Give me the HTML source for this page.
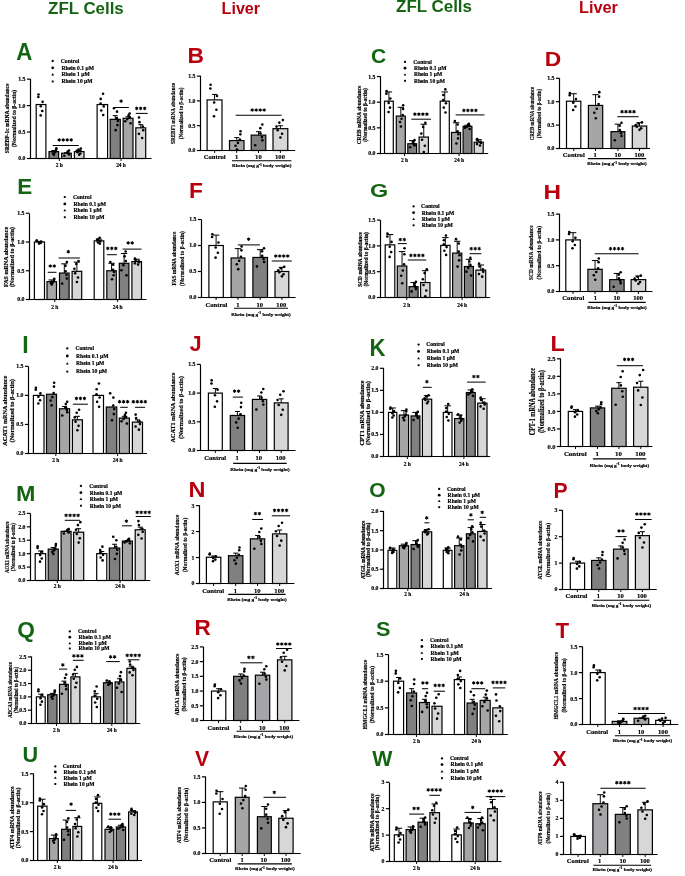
<!DOCTYPE html>
<html><head><meta charset="utf-8"><style>
html,body{margin:0;padding:0;background:#fff;width:685px;height:876px;overflow:hidden}
svg{display:block;will-change:transform}
</style></head><body>
<svg width="685" height="876" viewBox="0 0 685 876">
<rect width="685" height="876" fill="#fff"/>
<text x="48.10" y="13.50" font-size="16" font-weight="bold" font-family='"Liberation Sans", sans-serif' fill="#146414" text-anchor="start" textLength="75.60" lengthAdjust="spacingAndGlyphs" >ZFL Cells</text>
<text x="221.60" y="14.30" font-size="16" font-weight="bold" font-family='"Liberation Sans", sans-serif' fill="#b8000f" text-anchor="start" textLength="38.50" lengthAdjust="spacingAndGlyphs" >Liver</text>
<text x="396.10" y="12.40" font-size="16" font-weight="bold" font-family='"Liberation Sans", sans-serif' fill="#146414" text-anchor="start" textLength="75.90" lengthAdjust="spacingAndGlyphs" >ZFL Cells</text>
<text x="578.90" y="12.60" font-size="16" font-weight="bold" font-family='"Liberation Sans", sans-serif' fill="#b8000f" text-anchor="start" textLength="39.10" lengthAdjust="spacingAndGlyphs" >Liver</text>
<line x1="30.50" y1="78.95" x2="30.50" y2="159.10" stroke="#000" stroke-width="1.2"/>
<line x1="26.90" y1="158.50" x2="30.50" y2="158.50" stroke="#000" stroke-width="1.2"/>
<text x="25.50" y="160.47" font-size="5.8" font-weight="bold" font-family='"Liberation Serif", serif' fill="#000" text-anchor="end" stroke="#000" stroke-width="0.18" >0.0</text>
<line x1="26.90" y1="132.05" x2="30.50" y2="132.05" stroke="#000" stroke-width="1.2"/>
<text x="25.50" y="134.02" font-size="5.8" font-weight="bold" font-family='"Liberation Serif", serif' fill="#000" text-anchor="end" stroke="#000" stroke-width="0.18" >0.5</text>
<line x1="26.90" y1="105.60" x2="30.50" y2="105.60" stroke="#000" stroke-width="1.2"/>
<text x="25.50" y="107.57" font-size="5.8" font-weight="bold" font-family='"Liberation Serif", serif' fill="#000" text-anchor="end" stroke="#000" stroke-width="0.18" >1.0</text>
<line x1="26.90" y1="79.15" x2="30.50" y2="79.15" stroke="#000" stroke-width="1.2"/>
<text x="25.50" y="81.12" font-size="5.8" font-weight="bold" font-family='"Liberation Serif", serif' fill="#000" text-anchor="end" stroke="#000" stroke-width="0.18" >1.5</text>
<line x1="30.50" y1="158.50" x2="151.60" y2="158.50" stroke="#000" stroke-width="1.2"/>
<line x1="59.30" y1="158.50" x2="59.30" y2="161.00" stroke="#000" stroke-width="0.96"/>
<line x1="121.00" y1="158.50" x2="121.00" y2="161.00" stroke="#000" stroke-width="0.96"/>
<rect x="36.20" y="104.54" width="9.70" height="53.96" fill="#ffffff" stroke="#000" stroke-width="1.2"/>
<circle cx="40.78" cy="106.30" r="1.3" fill="#000"/>
<circle cx="42.62" cy="101.86" r="1.3" fill="#000"/>
<circle cx="38.49" cy="94.43" r="1.3" fill="#000"/>
<circle cx="40.68" cy="115.40" r="1.3" fill="#000"/>
<circle cx="38.35" cy="96.95" r="1.3" fill="#000"/>
<circle cx="42.25" cy="111.07" r="1.3" fill="#000"/>
<rect x="49.00" y="151.62" width="9.60" height="6.88" fill="#808080" stroke="#000" stroke-width="1.2"/>
<line x1="53.80" y1="151.62" x2="53.80" y2="150.56" stroke="#000" stroke-width="0.96"/>
<line x1="51.30" y1="150.56" x2="56.30" y2="150.56" stroke="#000" stroke-width="1.02"/>
<circle cx="54.60" cy="152.45" r="1.3" fill="#000"/>
<circle cx="55.85" cy="151.28" r="1.3" fill="#000"/>
<circle cx="56.32" cy="148.28" r="1.3" fill="#000"/>
<circle cx="53.95" cy="154.86" r="1.3" fill="#000"/>
<circle cx="56.16" cy="149.41" r="1.3" fill="#000"/>
<circle cx="52.97" cy="153.45" r="1.3" fill="#000"/>
<rect x="61.70" y="153.21" width="9.60" height="5.29" fill="#a6a6a8" stroke="#000" stroke-width="1.2"/>
<line x1="66.50" y1="153.21" x2="66.50" y2="152.68" stroke="#000" stroke-width="0.96"/>
<line x1="64.00" y1="152.68" x2="69.00" y2="152.68" stroke="#000" stroke-width="1.02"/>
<circle cx="68.74" cy="153.67" r="1.3" fill="#000"/>
<circle cx="64.35" cy="155.75" r="1.3" fill="#000"/>
<circle cx="67.70" cy="151.47" r="1.3" fill="#000"/>
<circle cx="67.81" cy="152.77" r="1.3" fill="#000"/>
<circle cx="69.04" cy="154.52" r="1.3" fill="#000"/>
<circle cx="69.01" cy="150.57" r="1.3" fill="#000"/>
<rect x="74.40" y="151.62" width="9.60" height="6.88" fill="#d7d7d7" stroke="#000" stroke-width="1.2"/>
<line x1="79.20" y1="151.62" x2="79.20" y2="150.56" stroke="#000" stroke-width="0.96"/>
<line x1="76.70" y1="150.56" x2="81.70" y2="150.56" stroke="#000" stroke-width="1.02"/>
<circle cx="79.23" cy="154.77" r="1.3" fill="#000"/>
<circle cx="76.70" cy="150.89" r="1.3" fill="#000"/>
<circle cx="80.80" cy="148.58" r="1.3" fill="#000"/>
<circle cx="77.44" cy="152.19" r="1.3" fill="#000"/>
<circle cx="80.29" cy="153.45" r="1.3" fill="#000"/>
<circle cx="78.53" cy="149.47" r="1.3" fill="#000"/>
<rect x="97.10" y="104.54" width="10.50" height="53.96" fill="#ffffff" stroke="#000" stroke-width="1.2"/>
<circle cx="103.72" cy="106.40" r="1.3" fill="#000"/>
<circle cx="101.22" cy="110.43" r="1.3" fill="#000"/>
<circle cx="103.03" cy="93.75" r="1.3" fill="#000"/>
<circle cx="103.22" cy="114.96" r="1.3" fill="#000"/>
<circle cx="100.74" cy="98.90" r="1.3" fill="#000"/>
<circle cx="100.58" cy="103.46" r="1.3" fill="#000"/>
<rect x="110.20" y="119.35" width="10.10" height="39.15" fill="#808080" stroke="#000" stroke-width="1.2"/>
<line x1="115.25" y1="119.35" x2="115.25" y2="115.65" stroke="#000" stroke-width="0.96"/>
<line x1="112.75" y1="115.65" x2="117.75" y2="115.65" stroke="#000" stroke-width="1.02"/>
<circle cx="115.69" cy="130.13" r="1.3" fill="#000"/>
<circle cx="113.95" cy="108.19" r="1.3" fill="#000"/>
<circle cx="117.84" cy="121.02" r="1.3" fill="#000"/>
<circle cx="116.85" cy="118.16" r="1.3" fill="#000"/>
<circle cx="117.43" cy="125.11" r="1.3" fill="#000"/>
<circle cx="117.00" cy="111.67" r="1.3" fill="#000"/>
<rect x="123.10" y="118.30" width="9.90" height="40.20" fill="#a6a6a8" stroke="#000" stroke-width="1.2"/>
<line x1="128.05" y1="118.30" x2="128.05" y2="116.71" stroke="#000" stroke-width="0.96"/>
<line x1="125.55" y1="116.71" x2="130.55" y2="116.71" stroke="#000" stroke-width="1.02"/>
<circle cx="127.30" cy="119.08" r="1.3" fill="#000"/>
<circle cx="130.49" cy="123.32" r="1.3" fill="#000"/>
<circle cx="129.79" cy="117.37" r="1.3" fill="#000"/>
<circle cx="125.29" cy="121.18" r="1.3" fill="#000"/>
<circle cx="129.64" cy="113.43" r="1.3" fill="#000"/>
<circle cx="128.60" cy="115.42" r="1.3" fill="#000"/>
<rect x="135.80" y="127.82" width="9.90" height="30.68" fill="#d7d7d7" stroke="#000" stroke-width="1.2"/>
<line x1="140.75" y1="127.82" x2="140.75" y2="124.64" stroke="#000" stroke-width="0.96"/>
<line x1="138.25" y1="124.64" x2="143.25" y2="124.64" stroke="#000" stroke-width="1.02"/>
<circle cx="143.21" cy="130.29" r="1.3" fill="#000"/>
<circle cx="142.79" cy="126.66" r="1.3" fill="#000"/>
<circle cx="142.16" cy="138.07" r="1.3" fill="#000"/>
<circle cx="139.47" cy="122.17" r="1.3" fill="#000"/>
<circle cx="139.00" cy="117.57" r="1.3" fill="#000"/>
<circle cx="138.91" cy="133.83" r="1.3" fill="#000"/>
<line x1="52.70" y1="145.50" x2="78.80" y2="145.50" stroke="#000" stroke-width="1.02"/>
<path d="M59.20 138.55L59.20 141.25M60.37 139.22L58.03 140.58M60.37 140.58L58.03 139.22" stroke="#000" stroke-width="1.01" stroke-linecap="round"/>
<path d="M63.20 138.55L63.20 141.25M64.37 139.22L62.03 140.58M64.37 140.58L62.03 139.22" stroke="#000" stroke-width="1.01" stroke-linecap="round"/>
<path d="M67.20 138.55L67.20 141.25M68.37 139.22L66.03 140.58M68.37 140.58L66.03 139.22" stroke="#000" stroke-width="1.01" stroke-linecap="round"/>
<path d="M71.20 138.55L71.20 141.25M72.37 139.22L70.03 140.58M72.37 140.58L70.03 139.22" stroke="#000" stroke-width="1.01" stroke-linecap="round"/>
<line x1="113.50" y1="107.50" x2="128.90" y2="107.50" stroke="#000" stroke-width="1.02"/>
<path d="M121.10 99.75L121.10 102.45M122.27 100.42L119.93 101.77M122.27 101.77L119.93 100.42" stroke="#000" stroke-width="1.01" stroke-linecap="round"/>
<line x1="135.80" y1="113.40" x2="147.70" y2="113.40" stroke="#000" stroke-width="1.02"/>
<path d="M136.70 107.05L136.70 109.75M137.87 107.73L135.53 109.08M137.87 109.08L135.53 107.73" stroke="#000" stroke-width="1.01" stroke-linecap="round"/>
<path d="M140.70 107.05L140.70 109.75M141.87 107.73L139.53 109.08M141.87 109.08L139.53 107.73" stroke="#000" stroke-width="1.01" stroke-linecap="round"/>
<path d="M144.70 107.05L144.70 109.75M145.87 107.73L143.53 109.08M145.87 109.08L143.53 107.73" stroke="#000" stroke-width="1.01" stroke-linecap="round"/>
<text x="9.15" y="118.40" font-size="5.8500000000000005" font-weight="bold" font-family='"Liberation Serif", serif' fill="#000" text-anchor="middle" stroke="#000" stroke-width="0.18" textLength="69.50" lengthAdjust="spacingAndGlyphs" transform="rotate(-90 9.15 118.40)" >SREBP-1c mRNA abundance</text>
<text x="15.65" y="118.40" font-size="5.8500000000000005" font-weight="bold" font-family='"Liberation Serif", serif' fill="#000" text-anchor="middle" stroke="#000" stroke-width="0.18" textLength="57.30" lengthAdjust="spacingAndGlyphs" transform="rotate(-90 15.65 118.40)" >(Normalized to β-actin)</text>
<text x="59.30" y="166.64" font-size="5.4" font-weight="bold" font-family='"Liberation Serif", serif' fill="#000" text-anchor="middle" stroke="#000" stroke-width="0.18" >2 h</text>
<text x="121.00" y="166.64" font-size="5.4" font-weight="bold" font-family='"Liberation Serif", serif' fill="#000" text-anchor="middle" stroke="#000" stroke-width="0.18" >24 h</text>
<circle cx="52.70" cy="61.00" r="1.15" fill="#000"/>
<text x="60.80" y="62.85" font-size="5.6" font-weight="bold" font-family='"Liberation Serif", serif' fill="#000" text-anchor="start" stroke="#000" stroke-width="0.18" >Control</text>
<circle cx="52.70" cy="67.80" r="1.4" fill="#000"/>
<text x="61.40" y="69.65" font-size="5.6" font-weight="bold" font-family='"Liberation Serif", serif' fill="#000" text-anchor="start" stroke="#000" stroke-width="0.18" >Rhein 0.1 μM</text>
<path d="M51.30 75.40L54.10 75.40L52.70 73.10Z"/>
<text x="61.40" y="76.25" font-size="5.6" font-weight="bold" font-family='"Liberation Serif", serif' fill="#000" text-anchor="start" stroke="#000" stroke-width="0.18" >Rhein 1 μM</text>
<rect x="51.75" y="80.55" width="1.9" height="1.9"/>
<text x="61.40" y="83.35" font-size="5.6" font-weight="bold" font-family='"Liberation Serif", serif' fill="#000" text-anchor="start" stroke="#000" stroke-width="0.18" >Rhein 10 μM</text>
<text transform="translate(16.70 59.80) scale(0.943 1)" x="-0.59" y="0" font-size="23.55" font-weight="bold" font-family='"Liberation Sans", sans-serif' fill="#146414">A</text>
<line x1="200.50" y1="75.80" x2="200.50" y2="151.10" stroke="#000" stroke-width="1.2"/>
<line x1="196.90" y1="150.50" x2="200.50" y2="150.50" stroke="#000" stroke-width="1.2"/>
<text x="195.50" y="152.47" font-size="5.8" font-weight="bold" font-family='"Liberation Serif", serif' fill="#000" text-anchor="end" stroke="#000" stroke-width="0.18" >0.0</text>
<line x1="196.90" y1="125.70" x2="200.50" y2="125.70" stroke="#000" stroke-width="1.2"/>
<text x="195.50" y="127.67" font-size="5.8" font-weight="bold" font-family='"Liberation Serif", serif' fill="#000" text-anchor="end" stroke="#000" stroke-width="0.18" >0.5</text>
<line x1="196.90" y1="100.90" x2="200.50" y2="100.90" stroke="#000" stroke-width="1.2"/>
<text x="195.50" y="102.87" font-size="5.8" font-weight="bold" font-family='"Liberation Serif", serif' fill="#000" text-anchor="end" stroke="#000" stroke-width="0.18" >1.0</text>
<line x1="196.90" y1="76.10" x2="200.50" y2="76.10" stroke="#000" stroke-width="1.2"/>
<text x="195.50" y="78.07" font-size="5.8" font-weight="bold" font-family='"Liberation Serif", serif' fill="#000" text-anchor="end" stroke="#000" stroke-width="0.18" >1.5</text>
<line x1="200.50" y1="150.50" x2="295.20" y2="150.50" stroke="#000" stroke-width="1.2"/>
<line x1="214.60" y1="150.50" x2="214.60" y2="153.00" stroke="#000" stroke-width="0.96"/>
<line x1="236.70" y1="150.50" x2="236.70" y2="153.00" stroke="#000" stroke-width="0.96"/>
<line x1="258.50" y1="150.50" x2="258.50" y2="153.00" stroke="#000" stroke-width="0.96"/>
<line x1="280.40" y1="150.50" x2="280.40" y2="153.00" stroke="#000" stroke-width="0.96"/>
<rect x="207.10" y="99.91" width="14.90" height="50.59" fill="#ffffff" stroke="#000" stroke-width="1.2"/>
<line x1="214.55" y1="99.91" x2="214.55" y2="94.45" stroke="#000" stroke-width="0.96"/>
<line x1="212.05" y1="94.45" x2="217.05" y2="94.45" stroke="#000" stroke-width="1.02"/>
<circle cx="214.13" cy="102.54" r="1.3" fill="#000"/>
<circle cx="216.96" cy="95.89" r="1.3" fill="#000"/>
<circle cx="210.61" cy="84.74" r="1.3" fill="#000"/>
<circle cx="213.99" cy="116.19" r="1.3" fill="#000"/>
<circle cx="210.40" cy="88.52" r="1.3" fill="#000"/>
<circle cx="216.40" cy="109.70" r="1.3" fill="#000"/>
<rect x="229.50" y="140.58" width="14.50" height="9.92" fill="#a6a6a8" stroke="#000" stroke-width="1.2"/>
<line x1="236.75" y1="140.58" x2="236.75" y2="137.60" stroke="#000" stroke-width="0.96"/>
<line x1="234.25" y1="137.60" x2="239.25" y2="137.60" stroke="#000" stroke-width="1.02"/>
<circle cx="237.96" cy="142.92" r="1.3" fill="#000"/>
<circle cx="239.85" cy="139.61" r="1.3" fill="#000"/>
<circle cx="240.56" cy="131.18" r="1.3" fill="#000"/>
<circle cx="236.97" cy="149.51" r="1.3" fill="#000"/>
<circle cx="240.32" cy="134.36" r="1.3" fill="#000"/>
<circle cx="235.50" cy="145.72" r="1.3" fill="#000"/>
<rect x="251.20" y="135.12" width="14.60" height="15.38" fill="#808080" stroke="#000" stroke-width="1.2"/>
<line x1="258.50" y1="135.12" x2="258.50" y2="131.65" stroke="#000" stroke-width="0.96"/>
<line x1="256.00" y1="131.65" x2="261.00" y2="131.65" stroke="#000" stroke-width="1.02"/>
<circle cx="261.90" cy="136.98" r="1.3" fill="#000"/>
<circle cx="255.23" cy="145.30" r="1.3" fill="#000"/>
<circle cx="260.33" cy="128.17" r="1.3" fill="#000"/>
<circle cx="260.49" cy="133.35" r="1.3" fill="#000"/>
<circle cx="262.37" cy="140.36" r="1.3" fill="#000"/>
<circle cx="262.32" cy="124.57" r="1.3" fill="#000"/>
<rect x="273.00" y="128.68" width="14.80" height="21.82" fill="#d7d7d7" stroke="#000" stroke-width="1.2"/>
<line x1="280.40" y1="128.68" x2="280.40" y2="125.70" stroke="#000" stroke-width="0.96"/>
<line x1="277.90" y1="125.70" x2="282.90" y2="125.70" stroke="#000" stroke-width="1.02"/>
<circle cx="280.44" cy="137.54" r="1.3" fill="#000"/>
<circle cx="276.54" cy="126.60" r="1.3" fill="#000"/>
<circle cx="282.86" cy="120.12" r="1.3" fill="#000"/>
<circle cx="277.69" cy="130.27" r="1.3" fill="#000"/>
<circle cx="282.08" cy="133.82" r="1.3" fill="#000"/>
<circle cx="279.36" cy="122.63" r="1.3" fill="#000"/>
<line x1="235.70" y1="115.20" x2="281.60" y2="115.20" stroke="#000" stroke-width="1.02"/>
<path d="M252.20 108.65L252.20 111.35M253.37 109.33L251.03 110.67M253.37 110.67L251.03 109.33" stroke="#000" stroke-width="1.01" stroke-linecap="round"/>
<path d="M256.20 108.65L256.20 111.35M257.37 109.33L255.03 110.67M257.37 110.67L255.03 109.33" stroke="#000" stroke-width="1.01" stroke-linecap="round"/>
<path d="M260.20 108.65L260.20 111.35M261.37 109.33L259.03 110.67M261.37 110.67L259.03 109.33" stroke="#000" stroke-width="1.01" stroke-linecap="round"/>
<path d="M264.20 108.65L264.20 111.35M265.37 109.33L263.03 110.67M265.37 110.67L263.03 109.33" stroke="#000" stroke-width="1.01" stroke-linecap="round"/>
<text x="174.75" y="113.40" font-size="7.0" font-weight="bold" font-family='"Liberation Serif", serif' fill="#000" text-anchor="middle" stroke="#000" stroke-width="0.18" textLength="61.10" lengthAdjust="spacingAndGlyphs" transform="rotate(-90 174.75 113.40)" >SREBF1 mRNA abundance</text>
<text x="182.55" y="113.40" font-size="7.0" font-weight="bold" font-family='"Liberation Serif", serif' fill="#000" text-anchor="middle" stroke="#000" stroke-width="0.18" textLength="51.60" lengthAdjust="spacingAndGlyphs" transform="rotate(-90 182.55 113.40)" >(Normalized to β-actin)</text>
<text x="214.70" y="159.24" font-size="6.6" font-weight="bold" font-family='"Liberation Serif", serif' fill="#000" text-anchor="middle" stroke="#000" stroke-width="0.18" >Control</text>
<text x="236.70" y="159.24" font-size="6.6" font-weight="bold" font-family='"Liberation Serif", serif' fill="#000" text-anchor="middle" stroke="#000" stroke-width="0.18" >1</text>
<text x="258.40" y="159.24" font-size="6.6" font-weight="bold" font-family='"Liberation Serif", serif' fill="#000" text-anchor="middle" stroke="#000" stroke-width="0.18" >10</text>
<text x="280.00" y="159.24" font-size="6.6" font-weight="bold" font-family='"Liberation Serif", serif' fill="#000" text-anchor="middle" stroke="#000" stroke-width="0.18" >100</text>
<line x1="232.00" y1="160.70" x2="291.40" y2="160.70" stroke="#000" stroke-width="1.08"/>
<text x="261.70" y="167.30" font-size="4.4" font-weight="bold" font-family='"Liberation Serif", serif' fill="#000" text-anchor="middle" stroke="#000" stroke-width="0.18" textLength="59.50" lengthAdjust="spacingAndGlyphs" >Rhein (mg g<tspan font-size="3.2" dy="-1.6">-1</tspan><tspan dy="1.6"> body weight)</tspan></text>
<text transform="translate(189.00 62.90) scale(1.032 1)" x="-1.48" y="0" font-size="22.09" font-weight="bold" font-family='"Liberation Sans", sans-serif' fill="#b8000f">B</text>
<line x1="380.50" y1="76.15" x2="380.50" y2="154.10" stroke="#000" stroke-width="1.2"/>
<line x1="376.90" y1="153.50" x2="380.50" y2="153.50" stroke="#000" stroke-width="1.2"/>
<text x="375.50" y="155.47" font-size="5.8" font-weight="bold" font-family='"Liberation Serif", serif' fill="#000" text-anchor="end" stroke="#000" stroke-width="0.18" >0.0</text>
<line x1="376.90" y1="127.85" x2="380.50" y2="127.85" stroke="#000" stroke-width="1.2"/>
<text x="375.50" y="129.82" font-size="5.8" font-weight="bold" font-family='"Liberation Serif", serif' fill="#000" text-anchor="end" stroke="#000" stroke-width="0.18" >0.5</text>
<line x1="376.90" y1="102.20" x2="380.50" y2="102.20" stroke="#000" stroke-width="1.2"/>
<text x="375.50" y="104.17" font-size="5.8" font-weight="bold" font-family='"Liberation Serif", serif' fill="#000" text-anchor="end" stroke="#000" stroke-width="0.18" >1.0</text>
<line x1="376.90" y1="76.55" x2="380.50" y2="76.55" stroke="#000" stroke-width="1.2"/>
<text x="375.50" y="78.52" font-size="5.8" font-weight="bold" font-family='"Liberation Serif", serif' fill="#000" text-anchor="end" stroke="#000" stroke-width="0.18" >1.5</text>
<line x1="380.50" y1="153.50" x2="488.20" y2="153.50" stroke="#000" stroke-width="1.2"/>
<line x1="404.60" y1="153.50" x2="404.60" y2="156.00" stroke="#000" stroke-width="0.96"/>
<line x1="459.10" y1="153.50" x2="459.10" y2="156.00" stroke="#000" stroke-width="0.96"/>
<rect x="384.50" y="101.17" width="8.80" height="52.33" fill="#ffffff" stroke="#000" stroke-width="1.2"/>
<line x1="388.90" y1="101.17" x2="388.90" y2="91.94" stroke="#000" stroke-width="0.96"/>
<line x1="385.70" y1="91.94" x2="392.10" y2="91.94" stroke="#000" stroke-width="1.02"/>
<circle cx="388.65" cy="102.92" r="1.3" fill="#000"/>
<circle cx="390.32" cy="98.52" r="1.3" fill="#000"/>
<circle cx="386.58" cy="91.15" r="1.3" fill="#000"/>
<circle cx="388.57" cy="111.94" r="1.3" fill="#000"/>
<circle cx="386.45" cy="93.64" r="1.3" fill="#000"/>
<circle cx="389.99" cy="107.65" r="1.3" fill="#000"/>
<rect x="396.30" y="116.05" width="9.00" height="37.45" fill="#a6a6a8" stroke="#000" stroke-width="1.2"/>
<line x1="400.80" y1="116.05" x2="400.80" y2="107.33" stroke="#000" stroke-width="0.96"/>
<line x1="397.60" y1="107.33" x2="404.00" y2="107.33" stroke="#000" stroke-width="1.02"/>
<circle cx="401.55" cy="118.73" r="1.3" fill="#000"/>
<circle cx="402.72" cy="114.94" r="1.3" fill="#000"/>
<circle cx="403.16" cy="105.29" r="1.3" fill="#000"/>
<circle cx="400.94" cy="126.46" r="1.3" fill="#000"/>
<circle cx="403.01" cy="108.94" r="1.3" fill="#000"/>
<circle cx="400.02" cy="121.93" r="1.3" fill="#000"/>
<rect x="407.80" y="143.75" width="8.80" height="9.75" fill="#808080" stroke="#000" stroke-width="1.2"/>
<line x1="412.20" y1="143.75" x2="412.20" y2="140.68" stroke="#000" stroke-width="0.96"/>
<line x1="409.00" y1="140.68" x2="415.40" y2="140.68" stroke="#000" stroke-width="1.02"/>
<circle cx="414.25" cy="144.39" r="1.3" fill="#000"/>
<circle cx="410.23" cy="147.28" r="1.3" fill="#000"/>
<circle cx="413.30" cy="141.34" r="1.3" fill="#000"/>
<circle cx="413.40" cy="143.14" r="1.3" fill="#000"/>
<circle cx="414.53" cy="145.56" r="1.3" fill="#000"/>
<circle cx="414.50" cy="140.10" r="1.3" fill="#000"/>
<rect x="419.10" y="137.08" width="9.30" height="16.42" fill="#d7d7d7" stroke="#000" stroke-width="1.2"/>
<line x1="423.75" y1="137.08" x2="423.75" y2="124.26" stroke="#000" stroke-width="0.96"/>
<line x1="420.55" y1="124.26" x2="426.95" y2="124.26" stroke="#000" stroke-width="1.02"/>
<circle cx="423.78" cy="152.01" r="1.3" fill="#000"/>
<circle cx="421.33" cy="133.59" r="1.3" fill="#000"/>
<circle cx="425.30" cy="122.68" r="1.3" fill="#000"/>
<circle cx="422.05" cy="139.76" r="1.3" fill="#000"/>
<circle cx="424.81" cy="145.74" r="1.3" fill="#000"/>
<circle cx="423.10" cy="126.91" r="1.3" fill="#000"/>
<rect x="440.20" y="101.17" width="9.10" height="52.33" fill="#ffffff" stroke="#000" stroke-width="1.2"/>
<line x1="444.75" y1="101.17" x2="444.75" y2="91.94" stroke="#000" stroke-width="0.96"/>
<line x1="441.55" y1="91.94" x2="447.95" y2="91.94" stroke="#000" stroke-width="1.02"/>
<circle cx="445.94" cy="103.20" r="1.3" fill="#000"/>
<circle cx="443.77" cy="107.59" r="1.3" fill="#000"/>
<circle cx="445.34" cy="89.40" r="1.3" fill="#000"/>
<circle cx="445.50" cy="112.54" r="1.3" fill="#000"/>
<circle cx="443.36" cy="95.01" r="1.3" fill="#000"/>
<circle cx="443.22" cy="99.99" r="1.3" fill="#000"/>
<rect x="451.50" y="132.47" width="9.10" height="21.03" fill="#a6a6a8" stroke="#000" stroke-width="1.2"/>
<line x1="456.05" y1="132.47" x2="456.05" y2="122.72" stroke="#000" stroke-width="0.96"/>
<line x1="452.85" y1="122.72" x2="459.25" y2="122.72" stroke="#000" stroke-width="1.02"/>
<circle cx="456.45" cy="143.55" r="1.3" fill="#000"/>
<circle cx="454.87" cy="120.99" r="1.3" fill="#000"/>
<circle cx="458.38" cy="134.18" r="1.3" fill="#000"/>
<circle cx="457.50" cy="131.23" r="1.3" fill="#000"/>
<circle cx="458.02" cy="138.39" r="1.3" fill="#000"/>
<circle cx="457.63" cy="124.57" r="1.3" fill="#000"/>
<rect x="463.10" y="126.31" width="8.80" height="27.19" fill="#808080" stroke="#000" stroke-width="1.2"/>
<line x1="467.50" y1="126.31" x2="467.50" y2="125.28" stroke="#000" stroke-width="0.96"/>
<line x1="464.30" y1="125.28" x2="470.70" y2="125.28" stroke="#000" stroke-width="1.02"/>
<circle cx="466.83" cy="126.73" r="1.3" fill="#000"/>
<circle cx="469.67" cy="128.97" r="1.3" fill="#000"/>
<circle cx="469.04" cy="125.82" r="1.3" fill="#000"/>
<circle cx="465.04" cy="127.84" r="1.3" fill="#000"/>
<circle cx="468.91" cy="123.73" r="1.3" fill="#000"/>
<circle cx="467.99" cy="124.79" r="1.3" fill="#000"/>
<rect x="474.20" y="142.21" width="9.00" height="11.29" fill="#d7d7d7" stroke="#000" stroke-width="1.2"/>
<line x1="478.70" y1="142.21" x2="478.70" y2="139.65" stroke="#000" stroke-width="0.96"/>
<line x1="475.50" y1="139.65" x2="481.90" y2="139.65" stroke="#000" stroke-width="1.02"/>
<circle cx="480.94" cy="142.99" r="1.3" fill="#000"/>
<circle cx="480.56" cy="141.85" r="1.3" fill="#000"/>
<circle cx="479.98" cy="145.45" r="1.3" fill="#000"/>
<circle cx="477.53" cy="140.43" r="1.3" fill="#000"/>
<circle cx="477.11" cy="138.98" r="1.3" fill="#000"/>
<circle cx="477.02" cy="144.11" r="1.3" fill="#000"/>
<line x1="411.30" y1="119.20" x2="431.00" y2="119.20" stroke="#000" stroke-width="1.02"/>
<path d="M414.90 112.85L414.90 115.55M416.07 113.53L413.73 114.88M416.07 114.88L413.73 113.53" stroke="#000" stroke-width="1.01" stroke-linecap="round"/>
<path d="M418.90 112.85L418.90 115.55M420.07 113.53L417.73 114.88M420.07 114.88L417.73 113.53" stroke="#000" stroke-width="1.01" stroke-linecap="round"/>
<path d="M422.90 112.85L422.90 115.55M424.07 113.53L421.73 114.88M424.07 114.88L421.73 113.53" stroke="#000" stroke-width="1.01" stroke-linecap="round"/>
<path d="M426.90 112.85L426.90 115.55M428.07 113.53L425.73 114.88M428.07 114.88L425.73 113.53" stroke="#000" stroke-width="1.01" stroke-linecap="round"/>
<line x1="455.60" y1="114.90" x2="484.50" y2="114.90" stroke="#000" stroke-width="1.02"/>
<path d="M463.90 109.05L463.90 111.75M465.07 109.73L462.73 111.08M465.07 111.08L462.73 109.73" stroke="#000" stroke-width="1.01" stroke-linecap="round"/>
<path d="M467.90 109.05L467.90 111.75M469.07 109.73L466.73 111.08M469.07 111.08L466.73 109.73" stroke="#000" stroke-width="1.01" stroke-linecap="round"/>
<path d="M471.90 109.05L471.90 111.75M473.07 109.73L470.73 111.08M473.07 111.08L470.73 109.73" stroke="#000" stroke-width="1.01" stroke-linecap="round"/>
<path d="M475.90 109.05L475.90 111.75M477.07 109.73L474.73 111.08M477.07 111.08L474.73 109.73" stroke="#000" stroke-width="1.01" stroke-linecap="round"/>
<text x="361.08" y="115.00" font-size="5.669999999999959" font-weight="bold" font-family='"Liberation Serif", serif' fill="#000" text-anchor="middle" stroke="#000" stroke-width="0.18" textLength="58.70" lengthAdjust="spacingAndGlyphs" transform="rotate(-90 361.08 115.00)" >CREB mRNA abundance</text>
<text x="367.38" y="115.00" font-size="5.669999999999959" font-weight="bold" font-family='"Liberation Serif", serif' fill="#000" text-anchor="middle" stroke="#000" stroke-width="0.18" textLength="53.40" lengthAdjust="spacingAndGlyphs" transform="rotate(-90 367.38 115.00)" >(Normalized to β-actin)</text>
<text x="404.60" y="162.34" font-size="5.4" font-weight="bold" font-family='"Liberation Serif", serif' fill="#000" text-anchor="middle" stroke="#000" stroke-width="0.18" >2 h</text>
<text x="459.10" y="162.34" font-size="5.4" font-weight="bold" font-family='"Liberation Serif", serif' fill="#000" text-anchor="middle" stroke="#000" stroke-width="0.18" >24 h</text>
<circle cx="405.00" cy="61.90" r="1.15" fill="#000"/>
<text x="413.30" y="63.75" font-size="5.6" font-weight="bold" font-family='"Liberation Serif", serif' fill="#000" text-anchor="start" stroke="#000" stroke-width="0.18" >Control</text>
<circle cx="405.00" cy="68.20" r="1.4" fill="#000"/>
<text x="413.90" y="70.05" font-size="5.6" font-weight="bold" font-family='"Liberation Serif", serif' fill="#000" text-anchor="start" stroke="#000" stroke-width="0.18" >Rhein 0.1 μM</text>
<path d="M403.60 75.50L406.40 75.50L405.00 73.20Z"/>
<text x="413.90" y="76.35" font-size="5.6" font-weight="bold" font-family='"Liberation Serif", serif' fill="#000" text-anchor="start" stroke="#000" stroke-width="0.18" >Rhein 1 μM</text>
<rect x="404.05" y="79.85" width="1.9" height="1.9"/>
<text x="413.90" y="82.65" font-size="5.6" font-weight="bold" font-family='"Liberation Serif", serif' fill="#000" text-anchor="start" stroke="#000" stroke-width="0.18" >Rhein 10 μM</text>
<text transform="translate(371.90 62.51) scale(1.075 1)" x="-0.80" y="0" font-size="19.63" font-weight="bold" font-family='"Liberation Sans", sans-serif' fill="#146414">C</text>
<line x1="559.50" y1="78.20" x2="559.50" y2="149.10" stroke="#000" stroke-width="1.2"/>
<line x1="555.90" y1="148.50" x2="559.50" y2="148.50" stroke="#000" stroke-width="1.2"/>
<text x="554.50" y="150.47" font-size="5.8" font-weight="bold" font-family='"Liberation Serif", serif' fill="#000" text-anchor="end" stroke="#000" stroke-width="0.18" >0.0</text>
<line x1="555.90" y1="125.10" x2="559.50" y2="125.10" stroke="#000" stroke-width="1.2"/>
<text x="554.50" y="127.07" font-size="5.8" font-weight="bold" font-family='"Liberation Serif", serif' fill="#000" text-anchor="end" stroke="#000" stroke-width="0.18" >0.5</text>
<line x1="555.90" y1="101.70" x2="559.50" y2="101.70" stroke="#000" stroke-width="1.2"/>
<text x="554.50" y="103.67" font-size="5.8" font-weight="bold" font-family='"Liberation Serif", serif' fill="#000" text-anchor="end" stroke="#000" stroke-width="0.18" >1.0</text>
<line x1="555.90" y1="78.30" x2="559.50" y2="78.30" stroke="#000" stroke-width="1.2"/>
<text x="554.50" y="80.27" font-size="5.8" font-weight="bold" font-family='"Liberation Serif", serif' fill="#000" text-anchor="end" stroke="#000" stroke-width="0.18" >1.5</text>
<line x1="559.50" y1="148.50" x2="650.00" y2="148.50" stroke="#000" stroke-width="1.2"/>
<line x1="573.80" y1="148.50" x2="573.80" y2="151.00" stroke="#000" stroke-width="0.96"/>
<line x1="595.50" y1="148.50" x2="595.50" y2="151.00" stroke="#000" stroke-width="0.96"/>
<line x1="617.90" y1="148.50" x2="617.90" y2="151.00" stroke="#000" stroke-width="0.96"/>
<line x1="639.50" y1="148.50" x2="639.50" y2="151.00" stroke="#000" stroke-width="0.96"/>
<rect x="566.50" y="101.23" width="14.30" height="47.27" fill="#ffffff" stroke="#000" stroke-width="1.2"/>
<line x1="573.65" y1="101.23" x2="573.65" y2="93.74" stroke="#000" stroke-width="0.96"/>
<line x1="570.45" y1="93.74" x2="576.85" y2="93.74" stroke="#000" stroke-width="1.02"/>
<circle cx="573.25" cy="102.64" r="1.3" fill="#000"/>
<circle cx="575.96" cy="99.08" r="1.3" fill="#000"/>
<circle cx="569.87" cy="93.10" r="1.3" fill="#000"/>
<circle cx="573.11" cy="109.96" r="1.3" fill="#000"/>
<circle cx="569.66" cy="95.13" r="1.3" fill="#000"/>
<circle cx="575.42" cy="106.48" r="1.3" fill="#000"/>
<rect x="588.40" y="105.44" width="14.30" height="43.06" fill="#a6a6a8" stroke="#000" stroke-width="1.2"/>
<line x1="595.55" y1="105.44" x2="595.55" y2="94.68" stroke="#000" stroke-width="0.96"/>
<line x1="592.35" y1="94.68" x2="598.75" y2="94.68" stroke="#000" stroke-width="1.02"/>
<circle cx="596.75" cy="108.75" r="1.3" fill="#000"/>
<circle cx="598.60" cy="104.07" r="1.3" fill="#000"/>
<circle cx="599.31" cy="92.16" r="1.3" fill="#000"/>
<circle cx="595.77" cy="118.29" r="1.3" fill="#000"/>
<circle cx="599.07" cy="96.66" r="1.3" fill="#000"/>
<circle cx="594.31" cy="112.70" r="1.3" fill="#000"/>
<rect x="611.00" y="131.65" width="13.80" height="16.85" fill="#808080" stroke="#000" stroke-width="1.2"/>
<line x1="617.90" y1="131.65" x2="617.90" y2="124.16" stroke="#000" stroke-width="0.96"/>
<line x1="614.70" y1="124.16" x2="621.10" y2="124.16" stroke="#000" stroke-width="1.02"/>
<circle cx="621.12" cy="133.21" r="1.3" fill="#000"/>
<circle cx="614.81" cy="140.22" r="1.3" fill="#000"/>
<circle cx="619.63" cy="125.79" r="1.3" fill="#000"/>
<circle cx="619.78" cy="130.16" r="1.3" fill="#000"/>
<circle cx="621.56" cy="136.06" r="1.3" fill="#000"/>
<circle cx="621.51" cy="122.76" r="1.3" fill="#000"/>
<rect x="632.30" y="126.04" width="14.40" height="22.46" fill="#d7d7d7" stroke="#000" stroke-width="1.2"/>
<line x1="639.50" y1="126.04" x2="639.50" y2="122.76" stroke="#000" stroke-width="0.96"/>
<line x1="636.30" y1="122.76" x2="642.70" y2="122.76" stroke="#000" stroke-width="1.02"/>
<circle cx="639.54" cy="129.85" r="1.3" fill="#000"/>
<circle cx="635.75" cy="125.14" r="1.3" fill="#000"/>
<circle cx="641.90" cy="122.36" r="1.3" fill="#000"/>
<circle cx="636.86" cy="126.72" r="1.3" fill="#000"/>
<circle cx="641.14" cy="128.25" r="1.3" fill="#000"/>
<circle cx="638.49" cy="123.44" r="1.3" fill="#000"/>
<line x1="617.30" y1="116.70" x2="638.60" y2="116.70" stroke="#000" stroke-width="1.02"/>
<path d="M622.00 110.35L622.00 113.05M623.17 111.03L620.83 112.38M623.17 112.38L620.83 111.03" stroke="#000" stroke-width="1.01" stroke-linecap="round"/>
<path d="M626.00 110.35L626.00 113.05M627.17 111.03L624.83 112.38M627.17 112.38L624.83 111.03" stroke="#000" stroke-width="1.01" stroke-linecap="round"/>
<path d="M630.00 110.35L630.00 113.05M631.17 111.03L628.83 112.38M631.17 112.38L628.83 111.03" stroke="#000" stroke-width="1.01" stroke-linecap="round"/>
<path d="M634.00 110.35L634.00 113.05M635.17 111.03L632.83 112.38M635.17 112.38L632.83 111.03" stroke="#000" stroke-width="1.01" stroke-linecap="round"/>
<text x="534.11" y="113.60" font-size="6.3" font-weight="bold" font-family='"Liberation Serif", serif' fill="#000" text-anchor="middle" stroke="#000" stroke-width="0.18" textLength="53.40" lengthAdjust="spacingAndGlyphs" transform="rotate(-90 534.11 113.60)" >CREB mRNA abundance</text>
<text x="541.41" y="113.60" font-size="6.3" font-weight="bold" font-family='"Liberation Serif", serif' fill="#000" text-anchor="middle" stroke="#000" stroke-width="0.18" textLength="49.30" lengthAdjust="spacingAndGlyphs" transform="rotate(-90 541.41 113.60)" >(Normalized to β-actin)</text>
<text x="573.80" y="157.34" font-size="6.6" font-weight="bold" font-family='"Liberation Serif", serif' fill="#000" text-anchor="middle" stroke="#000" stroke-width="0.18" >Control</text>
<text x="595.20" y="157.34" font-size="6.6" font-weight="bold" font-family='"Liberation Serif", serif' fill="#000" text-anchor="middle" stroke="#000" stroke-width="0.18" >1</text>
<text x="617.80" y="157.34" font-size="6.6" font-weight="bold" font-family='"Liberation Serif", serif' fill="#000" text-anchor="middle" stroke="#000" stroke-width="0.18" >10</text>
<text x="639.40" y="157.34" font-size="6.6" font-weight="bold" font-family='"Liberation Serif", serif' fill="#000" text-anchor="middle" stroke="#000" stroke-width="0.18" >100</text>
<line x1="587.90" y1="158.60" x2="646.20" y2="158.60" stroke="#000" stroke-width="1.08"/>
<text x="617.05" y="165.20" font-size="4.4" font-weight="bold" font-family='"Liberation Serif", serif' fill="#000" text-anchor="middle" stroke="#000" stroke-width="0.18" textLength="59.50" lengthAdjust="spacingAndGlyphs" >Rhein (mg g<tspan font-size="3.2" dy="-1.6">-1</tspan><tspan dy="1.6"> body weight)</tspan></text>
<text transform="translate(546.20 66.40) scale(1.181 1)" x="-1.29" y="0" font-size="19.33" font-weight="bold" font-family='"Liberation Sans", sans-serif' fill="#b8000f">D</text>
<line x1="29.50" y1="213.65" x2="29.50" y2="300.10" stroke="#000" stroke-width="1.2"/>
<line x1="25.90" y1="299.50" x2="29.50" y2="299.50" stroke="#000" stroke-width="1.2"/>
<text x="24.50" y="301.47" font-size="5.8" font-weight="bold" font-family='"Liberation Serif", serif' fill="#000" text-anchor="end" stroke="#000" stroke-width="0.18" >0.0</text>
<line x1="25.90" y1="270.75" x2="29.50" y2="270.75" stroke="#000" stroke-width="1.2"/>
<text x="24.50" y="272.72" font-size="5.8" font-weight="bold" font-family='"Liberation Serif", serif' fill="#000" text-anchor="end" stroke="#000" stroke-width="0.18" >0.5</text>
<line x1="25.90" y1="242.00" x2="29.50" y2="242.00" stroke="#000" stroke-width="1.2"/>
<text x="24.50" y="243.97" font-size="5.8" font-weight="bold" font-family='"Liberation Serif", serif' fill="#000" text-anchor="end" stroke="#000" stroke-width="0.18" >1.0</text>
<line x1="25.90" y1="213.25" x2="29.50" y2="213.25" stroke="#000" stroke-width="1.2"/>
<text x="24.50" y="215.22" font-size="5.8" font-weight="bold" font-family='"Liberation Serif", serif' fill="#000" text-anchor="end" stroke="#000" stroke-width="0.18" >1.5</text>
<line x1="29.50" y1="299.50" x2="146.50" y2="299.50" stroke="#000" stroke-width="1.2"/>
<line x1="54.80" y1="299.50" x2="54.80" y2="302.00" stroke="#000" stroke-width="0.96"/>
<line x1="117.60" y1="299.50" x2="117.60" y2="302.00" stroke="#000" stroke-width="0.96"/>
<rect x="34.40" y="242.00" width="10.10" height="57.50" fill="#ffffff" stroke="#000" stroke-width="1.2"/>
<line x1="39.45" y1="242.00" x2="39.45" y2="241.43" stroke="#000" stroke-width="0.96"/>
<line x1="36.25" y1="241.43" x2="42.65" y2="241.43" stroke="#000" stroke-width="1.02"/>
<circle cx="39.16" cy="242.26" r="1.3" fill="#000"/>
<circle cx="41.08" cy="241.60" r="1.3" fill="#000"/>
<circle cx="36.78" cy="240.50" r="1.3" fill="#000"/>
<circle cx="39.07" cy="243.61" r="1.3" fill="#000"/>
<circle cx="36.63" cy="240.87" r="1.3" fill="#000"/>
<circle cx="40.70" cy="242.97" r="1.3" fill="#000"/>
<rect x="47.00" y="281.68" width="9.50" height="17.82" fill="#a6a6a8" stroke="#000" stroke-width="1.2"/>
<line x1="51.75" y1="281.68" x2="51.75" y2="279.95" stroke="#000" stroke-width="0.96"/>
<line x1="48.55" y1="279.95" x2="54.95" y2="279.95" stroke="#000" stroke-width="1.02"/>
<circle cx="52.55" cy="282.42" r="1.3" fill="#000"/>
<circle cx="53.78" cy="281.37" r="1.3" fill="#000"/>
<circle cx="54.25" cy="278.69" r="1.3" fill="#000"/>
<circle cx="51.90" cy="284.56" r="1.3" fill="#000"/>
<circle cx="54.09" cy="279.70" r="1.3" fill="#000"/>
<circle cx="50.93" cy="283.30" r="1.3" fill="#000"/>
<rect x="59.50" y="273.05" width="9.60" height="26.45" fill="#808080" stroke="#000" stroke-width="1.2"/>
<line x1="64.30" y1="273.05" x2="64.30" y2="263.85" stroke="#000" stroke-width="0.96"/>
<line x1="61.10" y1="263.85" x2="67.50" y2="263.85" stroke="#000" stroke-width="1.02"/>
<circle cx="66.54" cy="274.97" r="1.3" fill="#000"/>
<circle cx="62.15" cy="283.58" r="1.3" fill="#000"/>
<circle cx="65.50" cy="265.85" r="1.3" fill="#000"/>
<circle cx="65.61" cy="271.22" r="1.3" fill="#000"/>
<circle cx="66.84" cy="278.47" r="1.3" fill="#000"/>
<circle cx="66.81" cy="262.12" r="1.3" fill="#000"/>
<rect x="72.10" y="271.32" width="9.60" height="28.18" fill="#d7d7d7" stroke="#000" stroke-width="1.2"/>
<line x1="76.90" y1="271.32" x2="76.90" y2="262.12" stroke="#000" stroke-width="0.96"/>
<line x1="73.70" y1="262.12" x2="80.10" y2="262.12" stroke="#000" stroke-width="1.02"/>
<circle cx="76.93" cy="282.03" r="1.3" fill="#000"/>
<circle cx="74.40" cy="268.82" r="1.3" fill="#000"/>
<circle cx="78.50" cy="260.99" r="1.3" fill="#000"/>
<circle cx="75.14" cy="273.25" r="1.3" fill="#000"/>
<circle cx="77.99" cy="277.54" r="1.3" fill="#000"/>
<circle cx="76.23" cy="264.02" r="1.3" fill="#000"/>
<rect x="94.20" y="240.85" width="9.60" height="58.65" fill="#ffffff" stroke="#000" stroke-width="1.2"/>
<line x1="99.00" y1="240.85" x2="99.00" y2="239.12" stroke="#000" stroke-width="0.96"/>
<line x1="95.80" y1="239.12" x2="102.20" y2="239.12" stroke="#000" stroke-width="1.02"/>
<circle cx="100.25" cy="241.38" r="1.3" fill="#000"/>
<circle cx="97.97" cy="242.53" r="1.3" fill="#000"/>
<circle cx="99.62" cy="237.77" r="1.3" fill="#000"/>
<circle cx="99.79" cy="243.82" r="1.3" fill="#000"/>
<circle cx="97.53" cy="239.24" r="1.3" fill="#000"/>
<circle cx="97.38" cy="240.54" r="1.3" fill="#000"/>
<rect x="106.80" y="270.75" width="9.50" height="28.75" fill="#a6a6a8" stroke="#000" stroke-width="1.2"/>
<line x1="111.55" y1="270.75" x2="111.55" y2="263.27" stroke="#000" stroke-width="0.96"/>
<line x1="108.35" y1="263.27" x2="114.75" y2="263.27" stroke="#000" stroke-width="1.02"/>
<circle cx="111.96" cy="279.25" r="1.3" fill="#000"/>
<circle cx="110.32" cy="261.95" r="1.3" fill="#000"/>
<circle cx="113.98" cy="272.06" r="1.3" fill="#000"/>
<circle cx="113.06" cy="269.80" r="1.3" fill="#000"/>
<circle cx="113.60" cy="275.29" r="1.3" fill="#000"/>
<circle cx="113.19" cy="264.69" r="1.3" fill="#000"/>
<rect x="119.30" y="263.27" width="9.60" height="36.23" fill="#808080" stroke="#000" stroke-width="1.2"/>
<line x1="124.10" y1="263.27" x2="124.10" y2="253.50" stroke="#000" stroke-width="0.96"/>
<line x1="120.90" y1="253.50" x2="127.30" y2="253.50" stroke="#000" stroke-width="1.02"/>
<circle cx="123.37" cy="265.15" r="1.3" fill="#000"/>
<circle cx="126.47" cy="275.36" r="1.3" fill="#000"/>
<circle cx="125.78" cy="261.04" r="1.3" fill="#000"/>
<circle cx="121.42" cy="270.20" r="1.3" fill="#000"/>
<circle cx="125.64" cy="251.57" r="1.3" fill="#000"/>
<circle cx="124.64" cy="256.36" r="1.3" fill="#000"/>
<rect x="131.90" y="261.55" width="9.60" height="37.95" fill="#d7d7d7" stroke="#000" stroke-width="1.2"/>
<line x1="136.70" y1="261.55" x2="136.70" y2="259.25" stroke="#000" stroke-width="0.96"/>
<line x1="133.50" y1="259.25" x2="139.90" y2="259.25" stroke="#000" stroke-width="1.02"/>
<circle cx="139.08" cy="262.29" r="1.3" fill="#000"/>
<circle cx="138.68" cy="261.21" r="1.3" fill="#000"/>
<circle cx="138.07" cy="264.60" r="1.3" fill="#000"/>
<circle cx="135.46" cy="259.87" r="1.3" fill="#000"/>
<circle cx="135.00" cy="258.50" r="1.3" fill="#000"/>
<circle cx="134.91" cy="263.34" r="1.3" fill="#000"/>
<line x1="47.70" y1="272.30" x2="56.50" y2="272.30" stroke="#000" stroke-width="1.02"/>
<path d="M50.30 264.65L50.30 267.35M51.47 265.32L49.13 266.68M51.47 266.68L49.13 265.32" stroke="#000" stroke-width="1.01" stroke-linecap="round"/>
<path d="M54.30 264.65L54.30 267.35M55.47 265.32L53.13 266.68M55.47 266.68L53.13 265.32" stroke="#000" stroke-width="1.01" stroke-linecap="round"/>
<line x1="58.50" y1="258.00" x2="79.90" y2="258.00" stroke="#000" stroke-width="1.02"/>
<path d="M68.30 250.35L68.30 253.05M69.47 251.02L67.13 252.38M69.47 252.38L67.13 251.02" stroke="#000" stroke-width="1.01" stroke-linecap="round"/>
<line x1="106.80" y1="254.70" x2="116.80" y2="254.70" stroke="#000" stroke-width="1.02"/>
<path d="M107.80 247.05L107.80 249.75M108.97 247.72L106.63 249.08M108.97 249.08L106.63 247.72" stroke="#000" stroke-width="1.01" stroke-linecap="round"/>
<path d="M111.80 247.05L111.80 249.75M112.97 247.72L110.63 249.08M112.97 249.08L110.63 247.72" stroke="#000" stroke-width="1.01" stroke-linecap="round"/>
<path d="M115.80 247.05L115.80 249.75M116.97 247.72L114.63 249.08M116.97 249.08L114.63 247.72" stroke="#000" stroke-width="1.01" stroke-linecap="round"/>
<line x1="122.60" y1="249.10" x2="141.50" y2="249.10" stroke="#000" stroke-width="1.02"/>
<path d="M128.20 241.55L128.20 244.25M129.37 242.22L127.03 243.58M129.37 243.58L127.03 242.22" stroke="#000" stroke-width="1.01" stroke-linecap="round"/>
<path d="M132.20 241.55L132.20 244.25M133.37 242.22L131.03 243.58M133.37 243.58L131.03 242.22" stroke="#000" stroke-width="1.01" stroke-linecap="round"/>
<text x="8.12" y="257.00" font-size="5.49" font-weight="bold" font-family='"Liberation Serif", serif' fill="#000" text-anchor="middle" stroke="#000" stroke-width="0.18" textLength="60.20" lengthAdjust="spacingAndGlyphs" transform="rotate(-90 8.12 257.00)" >FAS mRNA abundance</text>
<text x="14.22" y="257.00" font-size="5.49" font-weight="bold" font-family='"Liberation Serif", serif' fill="#000" text-anchor="middle" stroke="#000" stroke-width="0.18" textLength="60.10" lengthAdjust="spacingAndGlyphs" transform="rotate(-90 14.22 257.00)" >(Normalized to β-actin)</text>
<text x="54.80" y="308.84" font-size="5.4" font-weight="bold" font-family='"Liberation Serif", serif' fill="#000" text-anchor="middle" stroke="#000" stroke-width="0.18" >2 h</text>
<text x="117.60" y="308.84" font-size="5.4" font-weight="bold" font-family='"Liberation Serif", serif' fill="#000" text-anchor="middle" stroke="#000" stroke-width="0.18" >24 h</text>
<circle cx="64.80" cy="197.10" r="1.15" fill="#000"/>
<text x="72.90" y="198.95" font-size="5.6" font-weight="bold" font-family='"Liberation Serif", serif' fill="#000" text-anchor="start" stroke="#000" stroke-width="0.18" >Control</text>
<circle cx="64.80" cy="203.90" r="1.4" fill="#000"/>
<text x="73.50" y="205.75" font-size="5.6" font-weight="bold" font-family='"Liberation Serif", serif' fill="#000" text-anchor="start" stroke="#000" stroke-width="0.18" >Rhein 0.1 μM</text>
<path d="M63.40 211.20L66.20 211.20L64.80 208.90Z"/>
<text x="73.50" y="212.05" font-size="5.6" font-weight="bold" font-family='"Liberation Serif", serif' fill="#000" text-anchor="start" stroke="#000" stroke-width="0.18" >Rhein 1 μM</text>
<rect x="63.85" y="216.25" width="1.9" height="1.9"/>
<text x="73.50" y="219.05" font-size="5.6" font-weight="bold" font-family='"Liberation Serif", serif' fill="#000" text-anchor="start" stroke="#000" stroke-width="0.18" >Rhein 10 μM</text>
<text transform="translate(18.80 193.90) scale(1.023 1)" x="-1.47" y="0" font-size="21.95" font-weight="bold" font-family='"Liberation Sans", sans-serif' fill="#146414">E</text>
<line x1="201.50" y1="219.60" x2="201.50" y2="298.10" stroke="#000" stroke-width="1.2"/>
<line x1="197.90" y1="297.50" x2="201.50" y2="297.50" stroke="#000" stroke-width="1.2"/>
<text x="196.50" y="299.47" font-size="5.8" font-weight="bold" font-family='"Liberation Serif", serif' fill="#000" text-anchor="end" stroke="#000" stroke-width="0.18" >0.0</text>
<line x1="197.90" y1="271.50" x2="201.50" y2="271.50" stroke="#000" stroke-width="1.2"/>
<text x="196.50" y="273.47" font-size="5.8" font-weight="bold" font-family='"Liberation Serif", serif' fill="#000" text-anchor="end" stroke="#000" stroke-width="0.18" >0.5</text>
<line x1="197.90" y1="245.50" x2="201.50" y2="245.50" stroke="#000" stroke-width="1.2"/>
<text x="196.50" y="247.47" font-size="5.8" font-weight="bold" font-family='"Liberation Serif", serif' fill="#000" text-anchor="end" stroke="#000" stroke-width="0.18" >1.0</text>
<line x1="197.90" y1="219.50" x2="201.50" y2="219.50" stroke="#000" stroke-width="1.2"/>
<text x="196.50" y="221.47" font-size="5.8" font-weight="bold" font-family='"Liberation Serif", serif' fill="#000" text-anchor="end" stroke="#000" stroke-width="0.18" >1.5</text>
<line x1="201.50" y1="297.50" x2="295.60" y2="297.50" stroke="#000" stroke-width="1.2"/>
<line x1="216.10" y1="297.50" x2="216.10" y2="300.00" stroke="#000" stroke-width="0.96"/>
<line x1="238.00" y1="297.50" x2="238.00" y2="300.00" stroke="#000" stroke-width="0.96"/>
<line x1="260.20" y1="297.50" x2="260.20" y2="300.00" stroke="#000" stroke-width="0.96"/>
<line x1="281.90" y1="297.50" x2="281.90" y2="300.00" stroke="#000" stroke-width="0.96"/>
<rect x="208.90" y="245.50" width="14.40" height="52.00" fill="#ffffff" stroke="#000" stroke-width="1.2"/>
<line x1="216.10" y1="245.50" x2="216.10" y2="235.10" stroke="#000" stroke-width="0.96"/>
<line x1="212.90" y1="235.10" x2="219.30" y2="235.10" stroke="#000" stroke-width="1.02"/>
<circle cx="215.69" cy="247.46" r="1.3" fill="#000"/>
<circle cx="218.43" cy="242.51" r="1.3" fill="#000"/>
<circle cx="212.30" cy="234.21" r="1.3" fill="#000"/>
<circle cx="215.56" cy="257.63" r="1.3" fill="#000"/>
<circle cx="212.08" cy="237.02" r="1.3" fill="#000"/>
<circle cx="217.89" cy="252.79" r="1.3" fill="#000"/>
<rect x="231.10" y="257.98" width="13.80" height="39.52" fill="#a6a6a8" stroke="#000" stroke-width="1.2"/>
<line x1="238.00" y1="257.98" x2="238.00" y2="248.62" stroke="#000" stroke-width="0.96"/>
<line x1="234.80" y1="248.62" x2="241.20" y2="248.62" stroke="#000" stroke-width="1.02"/>
<circle cx="239.16" cy="260.85" r="1.3" fill="#000"/>
<circle cx="240.95" cy="256.79" r="1.3" fill="#000"/>
<circle cx="241.62" cy="246.43" r="1.3" fill="#000"/>
<circle cx="238.21" cy="269.15" r="1.3" fill="#000"/>
<circle cx="241.39" cy="250.34" r="1.3" fill="#000"/>
<circle cx="236.81" cy="264.29" r="1.3" fill="#000"/>
<rect x="252.90" y="257.46" width="14.60" height="40.04" fill="#808080" stroke="#000" stroke-width="1.2"/>
<line x1="260.20" y1="257.46" x2="260.20" y2="249.66" stroke="#000" stroke-width="0.96"/>
<line x1="257.00" y1="249.66" x2="263.40" y2="249.66" stroke="#000" stroke-width="1.02"/>
<circle cx="263.60" cy="259.09" r="1.3" fill="#000"/>
<circle cx="256.93" cy="266.39" r="1.3" fill="#000"/>
<circle cx="262.03" cy="251.36" r="1.3" fill="#000"/>
<circle cx="262.19" cy="255.91" r="1.3" fill="#000"/>
<circle cx="264.07" cy="262.05" r="1.3" fill="#000"/>
<circle cx="264.02" cy="248.20" r="1.3" fill="#000"/>
<rect x="275.00" y="271.50" width="13.80" height="26.00" fill="#d7d7d7" stroke="#000" stroke-width="1.2"/>
<line x1="281.90" y1="271.50" x2="281.90" y2="267.34" stroke="#000" stroke-width="0.96"/>
<line x1="278.70" y1="267.34" x2="285.10" y2="267.34" stroke="#000" stroke-width="1.02"/>
<circle cx="281.94" cy="276.34" r="1.3" fill="#000"/>
<circle cx="278.30" cy="270.37" r="1.3" fill="#000"/>
<circle cx="284.20" cy="266.83" r="1.3" fill="#000"/>
<circle cx="279.37" cy="272.37" r="1.3" fill="#000"/>
<circle cx="283.47" cy="274.31" r="1.3" fill="#000"/>
<circle cx="280.93" cy="268.20" r="1.3" fill="#000"/>
<line x1="237.80" y1="244.90" x2="260.00" y2="244.90" stroke="#000" stroke-width="1.02"/>
<path d="M248.60 237.75L248.60 240.45M249.77 238.42L247.43 239.78M249.77 239.78L247.43 238.42" stroke="#000" stroke-width="1.01" stroke-linecap="round"/>
<line x1="271.80" y1="261.00" x2="291.90" y2="261.00" stroke="#000" stroke-width="1.02"/>
<path d="M275.80 254.65L275.80 257.35M276.97 255.32L274.63 256.68M276.97 256.68L274.63 255.32" stroke="#000" stroke-width="1.01" stroke-linecap="round"/>
<path d="M279.80 254.65L279.80 257.35M280.97 255.32L278.63 256.68M280.97 256.68L278.63 255.32" stroke="#000" stroke-width="1.01" stroke-linecap="round"/>
<path d="M283.80 254.65L283.80 257.35M284.97 255.32L282.63 256.68M284.97 256.68L282.63 255.32" stroke="#000" stroke-width="1.01" stroke-linecap="round"/>
<path d="M287.80 254.65L287.80 257.35M288.97 255.32L286.63 256.68M288.97 256.68L286.63 255.32" stroke="#000" stroke-width="1.01" stroke-linecap="round"/>
<text x="176.39" y="258.50" font-size="6.839999999999995" font-weight="bold" font-family='"Liberation Serif", serif' fill="#000" text-anchor="middle" stroke="#000" stroke-width="0.18" textLength="53.90" lengthAdjust="spacingAndGlyphs" transform="rotate(-90 176.39 258.50)" >FAS mRNA abundance</text>
<text x="183.99" y="258.50" font-size="6.839999999999995" font-weight="bold" font-family='"Liberation Serif", serif' fill="#000" text-anchor="middle" stroke="#000" stroke-width="0.18" textLength="54.90" lengthAdjust="spacingAndGlyphs" transform="rotate(-90 183.99 258.50)" >(Normalized to β-actin)</text>
<text x="216.50" y="306.64" font-size="6.6" font-weight="bold" font-family='"Liberation Serif", serif' fill="#000" text-anchor="middle" stroke="#000" stroke-width="0.18" >Control</text>
<text x="237.80" y="306.64" font-size="6.6" font-weight="bold" font-family='"Liberation Serif", serif' fill="#000" text-anchor="middle" stroke="#000" stroke-width="0.18" >1</text>
<text x="259.70" y="306.64" font-size="6.6" font-weight="bold" font-family='"Liberation Serif", serif' fill="#000" text-anchor="middle" stroke="#000" stroke-width="0.18" >10</text>
<text x="281.30" y="306.64" font-size="6.6" font-weight="bold" font-family='"Liberation Serif", serif' fill="#000" text-anchor="middle" stroke="#000" stroke-width="0.18" >100</text>
<line x1="234.00" y1="308.20" x2="288.10" y2="308.20" stroke="#000" stroke-width="1.08"/>
<text x="261.05" y="315.50" font-size="4.4" font-weight="bold" font-family='"Liberation Serif", serif' fill="#000" text-anchor="middle" stroke="#000" stroke-width="0.18" textLength="59.50" lengthAdjust="spacingAndGlyphs" >Rhein (mg g<tspan font-size="3.2" dy="-1.6">-1</tspan><tspan dy="1.6"> body weight)</tspan></text>
<text transform="translate(190.60 197.60) scale(1.049 1)" x="-1.46" y="0" font-size="21.80" font-weight="bold" font-family='"Liberation Sans", sans-serif' fill="#b8000f">F</text>
<line x1="380.50" y1="220.20" x2="380.50" y2="298.10" stroke="#000" stroke-width="1.2"/>
<line x1="376.90" y1="297.50" x2="380.50" y2="297.50" stroke="#000" stroke-width="1.2"/>
<text x="375.50" y="299.47" font-size="5.8" font-weight="bold" font-family='"Liberation Serif", serif' fill="#000" text-anchor="end" stroke="#000" stroke-width="0.18" >0.0</text>
<line x1="376.90" y1="271.70" x2="380.50" y2="271.70" stroke="#000" stroke-width="1.2"/>
<text x="375.50" y="273.67" font-size="5.8" font-weight="bold" font-family='"Liberation Serif", serif' fill="#000" text-anchor="end" stroke="#000" stroke-width="0.18" >0.5</text>
<line x1="376.90" y1="245.90" x2="380.50" y2="245.90" stroke="#000" stroke-width="1.2"/>
<text x="375.50" y="247.87" font-size="5.8" font-weight="bold" font-family='"Liberation Serif", serif' fill="#000" text-anchor="end" stroke="#000" stroke-width="0.18" >1.0</text>
<line x1="376.90" y1="220.10" x2="380.50" y2="220.10" stroke="#000" stroke-width="1.2"/>
<text x="375.50" y="222.07" font-size="5.8" font-weight="bold" font-family='"Liberation Serif", serif' fill="#000" text-anchor="end" stroke="#000" stroke-width="0.18" >1.5</text>
<line x1="380.50" y1="297.50" x2="490.20" y2="297.50" stroke="#000" stroke-width="1.2"/>
<line x1="406.80" y1="297.50" x2="406.80" y2="300.00" stroke="#000" stroke-width="0.96"/>
<line x1="462.10" y1="297.50" x2="462.10" y2="300.00" stroke="#000" stroke-width="0.96"/>
<rect x="385.20" y="244.87" width="9.60" height="52.63" fill="#ffffff" stroke="#000" stroke-width="1.2"/>
<line x1="390.00" y1="244.87" x2="390.00" y2="234.55" stroke="#000" stroke-width="0.96"/>
<line x1="386.80" y1="234.55" x2="393.20" y2="234.55" stroke="#000" stroke-width="1.02"/>
<circle cx="389.73" cy="246.81" r="1.3" fill="#000"/>
<circle cx="391.55" cy="241.90" r="1.3" fill="#000"/>
<circle cx="387.46" cy="233.66" r="1.3" fill="#000"/>
<circle cx="389.64" cy="256.90" r="1.3" fill="#000"/>
<circle cx="387.32" cy="236.45" r="1.3" fill="#000"/>
<circle cx="391.19" cy="252.10" r="1.3" fill="#000"/>
<rect x="397.30" y="266.02" width="9.50" height="31.48" fill="#a6a6a8" stroke="#000" stroke-width="1.2"/>
<line x1="402.05" y1="266.02" x2="402.05" y2="251.58" stroke="#000" stroke-width="0.96"/>
<line x1="398.85" y1="251.58" x2="405.25" y2="251.58" stroke="#000" stroke-width="1.02"/>
<circle cx="402.85" cy="270.46" r="1.3" fill="#000"/>
<circle cx="404.08" cy="264.18" r="1.3" fill="#000"/>
<circle cx="404.55" cy="248.19" r="1.3" fill="#000"/>
<circle cx="402.20" cy="283.27" r="1.3" fill="#000"/>
<circle cx="404.39" cy="254.24" r="1.3" fill="#000"/>
<circle cx="401.23" cy="275.77" r="1.3" fill="#000"/>
<rect x="409.10" y="286.66" width="9.00" height="10.84" fill="#808080" stroke="#000" stroke-width="1.2"/>
<line x1="413.60" y1="286.66" x2="413.60" y2="282.54" stroke="#000" stroke-width="0.96"/>
<line x1="410.40" y1="282.54" x2="416.80" y2="282.54" stroke="#000" stroke-width="1.02"/>
<circle cx="415.70" cy="287.52" r="1.3" fill="#000"/>
<circle cx="411.58" cy="291.39" r="1.3" fill="#000"/>
<circle cx="414.73" cy="283.43" r="1.3" fill="#000"/>
<circle cx="414.83" cy="285.84" r="1.3" fill="#000"/>
<circle cx="415.99" cy="289.09" r="1.3" fill="#000"/>
<circle cx="415.95" cy="281.76" r="1.3" fill="#000"/>
<rect x="420.60" y="282.54" width="9.30" height="14.96" fill="#d7d7d7" stroke="#000" stroke-width="1.2"/>
<line x1="425.25" y1="282.54" x2="425.25" y2="270.67" stroke="#000" stroke-width="0.96"/>
<line x1="422.05" y1="270.67" x2="428.45" y2="270.67" stroke="#000" stroke-width="1.02"/>
<circle cx="425.28" cy="296.34" r="1.3" fill="#000"/>
<circle cx="422.83" cy="279.30" r="1.3" fill="#000"/>
<circle cx="426.80" cy="269.21" r="1.3" fill="#000"/>
<circle cx="423.55" cy="285.02" r="1.3" fill="#000"/>
<circle cx="426.31" cy="290.55" r="1.3" fill="#000"/>
<circle cx="424.60" cy="273.12" r="1.3" fill="#000"/>
<rect x="440.70" y="245.38" width="9.30" height="52.12" fill="#ffffff" stroke="#000" stroke-width="1.2"/>
<line x1="445.35" y1="245.38" x2="445.35" y2="237.64" stroke="#000" stroke-width="0.96"/>
<line x1="442.15" y1="237.64" x2="448.55" y2="237.64" stroke="#000" stroke-width="1.02"/>
<circle cx="446.56" cy="247.09" r="1.3" fill="#000"/>
<circle cx="444.35" cy="250.76" r="1.3" fill="#000"/>
<circle cx="445.95" cy="235.52" r="1.3" fill="#000"/>
<circle cx="446.12" cy="254.91" r="1.3" fill="#000"/>
<circle cx="443.93" cy="240.22" r="1.3" fill="#000"/>
<circle cx="443.79" cy="244.39" r="1.3" fill="#000"/>
<rect x="452.60" y="253.12" width="9.20" height="44.38" fill="#a6a6a8" stroke="#000" stroke-width="1.2"/>
<line x1="457.20" y1="253.12" x2="457.20" y2="241.26" stroke="#000" stroke-width="0.96"/>
<line x1="454.00" y1="241.26" x2="460.40" y2="241.26" stroke="#000" stroke-width="1.02"/>
<circle cx="457.60" cy="266.62" r="1.3" fill="#000"/>
<circle cx="456.01" cy="239.15" r="1.3" fill="#000"/>
<circle cx="459.56" cy="255.21" r="1.3" fill="#000"/>
<circle cx="458.66" cy="251.62" r="1.3" fill="#000"/>
<circle cx="459.19" cy="260.33" r="1.3" fill="#000"/>
<circle cx="458.79" cy="243.51" r="1.3" fill="#000"/>
<rect x="464.40" y="266.54" width="9.00" height="30.96" fill="#808080" stroke="#000" stroke-width="1.2"/>
<line x1="468.90" y1="266.54" x2="468.90" y2="259.32" stroke="#000" stroke-width="0.96"/>
<line x1="465.70" y1="259.32" x2="472.10" y2="259.32" stroke="#000" stroke-width="1.02"/>
<circle cx="468.22" cy="267.93" r="1.3" fill="#000"/>
<circle cx="471.12" cy="275.47" r="1.3" fill="#000"/>
<circle cx="470.48" cy="264.89" r="1.3" fill="#000"/>
<circle cx="466.39" cy="271.66" r="1.3" fill="#000"/>
<circle cx="470.34" cy="257.89" r="1.3" fill="#000"/>
<circle cx="469.40" cy="261.43" r="1.3" fill="#000"/>
<rect x="475.90" y="270.15" width="9.80" height="27.35" fill="#d7d7d7" stroke="#000" stroke-width="1.2"/>
<line x1="480.80" y1="270.15" x2="480.80" y2="264.99" stroke="#000" stroke-width="0.96"/>
<line x1="477.60" y1="264.99" x2="484.00" y2="264.99" stroke="#000" stroke-width="1.02"/>
<circle cx="483.23" cy="271.72" r="1.3" fill="#000"/>
<circle cx="482.82" cy="269.42" r="1.3" fill="#000"/>
<circle cx="482.19" cy="276.66" r="1.3" fill="#000"/>
<circle cx="479.53" cy="266.56" r="1.3" fill="#000"/>
<circle cx="479.07" cy="263.64" r="1.3" fill="#000"/>
<circle cx="478.98" cy="273.97" r="1.3" fill="#000"/>
<line x1="397.80" y1="243.60" x2="406.80" y2="243.60" stroke="#000" stroke-width="1.02"/>
<path d="M400.30 238.15L400.30 240.85M401.47 238.82L399.13 240.18M401.47 240.18L399.13 238.82" stroke="#000" stroke-width="1.01" stroke-linecap="round"/>
<path d="M404.30 238.15L404.30 240.85M405.47 238.82L403.13 240.18M405.47 240.18L403.13 238.82" stroke="#000" stroke-width="1.01" stroke-linecap="round"/>
<line x1="407.80" y1="260.00" x2="426.20" y2="260.00" stroke="#000" stroke-width="1.02"/>
<path d="M410.90 254.05L410.90 256.75M412.07 254.72L409.73 256.07M412.07 256.07L409.73 254.72" stroke="#000" stroke-width="1.01" stroke-linecap="round"/>
<path d="M414.90 254.05L414.90 256.75M416.07 254.72L413.73 256.07M416.07 256.07L413.73 254.72" stroke="#000" stroke-width="1.01" stroke-linecap="round"/>
<path d="M418.90 254.05L418.90 256.75M420.07 254.72L417.73 256.07M420.07 256.07L417.73 254.72" stroke="#000" stroke-width="1.01" stroke-linecap="round"/>
<path d="M422.90 254.05L422.90 256.75M424.07 254.72L421.73 256.07M424.07 256.07L421.73 254.72" stroke="#000" stroke-width="1.01" stroke-linecap="round"/>
<line x1="469.60" y1="253.70" x2="481.40" y2="253.70" stroke="#000" stroke-width="1.02"/>
<path d="M471.20 247.25L471.20 249.95M472.37 247.92L470.03 249.28M472.37 249.28L470.03 247.92" stroke="#000" stroke-width="1.01" stroke-linecap="round"/>
<path d="M475.20 247.25L475.20 249.95M476.37 247.92L474.03 249.28M476.37 249.28L474.03 247.92" stroke="#000" stroke-width="1.01" stroke-linecap="round"/>
<path d="M479.20 247.25L479.20 249.95M480.37 247.92L478.03 249.28M480.37 249.28L478.03 247.92" stroke="#000" stroke-width="1.01" stroke-linecap="round"/>
<text x="362.03" y="259.40" font-size="5.22000000000001" font-weight="bold" font-family='"Liberation Serif", serif' fill="#000" text-anchor="middle" stroke="#000" stroke-width="0.18" textLength="54.80" lengthAdjust="spacingAndGlyphs" transform="rotate(-90 362.03 259.40)" >SCD mRNA abundance</text>
<text x="367.83" y="259.40" font-size="5.22000000000001" font-weight="bold" font-family='"Liberation Serif", serif' fill="#000" text-anchor="middle" stroke="#000" stroke-width="0.18" textLength="54.40" lengthAdjust="spacingAndGlyphs" transform="rotate(-90 367.83 259.40)" >(Normalized to β-actin)</text>
<text x="406.80" y="306.84" font-size="5.4" font-weight="bold" font-family='"Liberation Serif", serif' fill="#000" text-anchor="middle" stroke="#000" stroke-width="0.18" >2 h</text>
<text x="462.10" y="306.84" font-size="5.4" font-weight="bold" font-family='"Liberation Serif", serif' fill="#000" text-anchor="middle" stroke="#000" stroke-width="0.18" >24 h</text>
<circle cx="413.60" cy="206.40" r="1.15" fill="#000"/>
<text x="421.10" y="208.25" font-size="5.6" font-weight="bold" font-family='"Liberation Serif", serif' fill="#000" text-anchor="start" stroke="#000" stroke-width="0.18" >Control</text>
<circle cx="413.60" cy="212.70" r="1.4" fill="#000"/>
<text x="421.70" y="214.55" font-size="5.6" font-weight="bold" font-family='"Liberation Serif", serif' fill="#000" text-anchor="start" stroke="#000" stroke-width="0.18" >Rhein 0.1 μM</text>
<path d="M412.20 220.00L415.00 220.00L413.60 217.70Z"/>
<text x="421.70" y="220.85" font-size="5.6" font-weight="bold" font-family='"Liberation Serif", serif' fill="#000" text-anchor="start" stroke="#000" stroke-width="0.18" >Rhein 1 μM</text>
<rect x="412.65" y="224.35" width="1.9" height="1.9"/>
<text x="421.70" y="227.15" font-size="5.6" font-weight="bold" font-family='"Liberation Serif", serif' fill="#000" text-anchor="start" stroke="#000" stroke-width="0.18" >Rhein 10 μM</text>
<text transform="translate(370.90 196.92) scale(1.246 1)" x="-0.77" y="0" font-size="18.79" font-weight="bold" font-family='"Liberation Sans", sans-serif' fill="#146414">G</text>
<line x1="559.50" y1="213.80" x2="559.50" y2="292.10" stroke="#000" stroke-width="1.2"/>
<line x1="555.90" y1="291.50" x2="559.50" y2="291.50" stroke="#000" stroke-width="1.2"/>
<text x="554.50" y="293.47" font-size="5.8" font-weight="bold" font-family='"Liberation Serif", serif' fill="#000" text-anchor="end" stroke="#000" stroke-width="0.18" >0.0</text>
<line x1="555.90" y1="265.70" x2="559.50" y2="265.70" stroke="#000" stroke-width="1.2"/>
<text x="554.50" y="267.67" font-size="5.8" font-weight="bold" font-family='"Liberation Serif", serif' fill="#000" text-anchor="end" stroke="#000" stroke-width="0.18" >0.5</text>
<line x1="555.90" y1="239.90" x2="559.50" y2="239.90" stroke="#000" stroke-width="1.2"/>
<text x="554.50" y="241.87" font-size="5.8" font-weight="bold" font-family='"Liberation Serif", serif' fill="#000" text-anchor="end" stroke="#000" stroke-width="0.18" >1.0</text>
<line x1="555.90" y1="214.10" x2="559.50" y2="214.10" stroke="#000" stroke-width="1.2"/>
<text x="554.50" y="216.07" font-size="5.8" font-weight="bold" font-family='"Liberation Serif", serif' fill="#000" text-anchor="end" stroke="#000" stroke-width="0.18" >1.5</text>
<line x1="559.50" y1="291.50" x2="652.40" y2="291.50" stroke="#000" stroke-width="1.2"/>
<line x1="573.00" y1="291.50" x2="573.00" y2="294.00" stroke="#000" stroke-width="0.96"/>
<line x1="595.00" y1="291.50" x2="595.00" y2="294.00" stroke="#000" stroke-width="0.96"/>
<line x1="616.90" y1="291.50" x2="616.90" y2="294.00" stroke="#000" stroke-width="0.96"/>
<line x1="638.40" y1="291.50" x2="638.40" y2="294.00" stroke="#000" stroke-width="0.96"/>
<rect x="565.80" y="239.90" width="14.50" height="51.60" fill="#ffffff" stroke="#000" stroke-width="1.2"/>
<line x1="573.05" y1="239.90" x2="573.05" y2="232.68" stroke="#000" stroke-width="0.96"/>
<line x1="569.85" y1="232.68" x2="576.25" y2="232.68" stroke="#000" stroke-width="1.02"/>
<circle cx="572.64" cy="241.26" r="1.3" fill="#000"/>
<circle cx="575.39" cy="237.82" r="1.3" fill="#000"/>
<circle cx="569.22" cy="232.05" r="1.3" fill="#000"/>
<circle cx="572.50" cy="248.32" r="1.3" fill="#000"/>
<circle cx="569.01" cy="234.01" r="1.3" fill="#000"/>
<circle cx="574.85" cy="244.97" r="1.3" fill="#000"/>
<rect x="587.90" y="269.31" width="14.30" height="22.19" fill="#a6a6a8" stroke="#000" stroke-width="1.2"/>
<line x1="595.05" y1="269.31" x2="595.05" y2="260.54" stroke="#000" stroke-width="0.96"/>
<line x1="591.85" y1="260.54" x2="598.25" y2="260.54" stroke="#000" stroke-width="1.02"/>
<circle cx="596.25" cy="272.00" r="1.3" fill="#000"/>
<circle cx="598.10" cy="268.20" r="1.3" fill="#000"/>
<circle cx="598.81" cy="258.49" r="1.3" fill="#000"/>
<circle cx="595.27" cy="279.78" r="1.3" fill="#000"/>
<circle cx="598.57" cy="262.15" r="1.3" fill="#000"/>
<circle cx="593.81" cy="275.23" r="1.3" fill="#000"/>
<rect x="609.70" y="279.63" width="14.40" height="11.87" fill="#808080" stroke="#000" stroke-width="1.2"/>
<line x1="616.90" y1="279.63" x2="616.90" y2="273.44" stroke="#000" stroke-width="0.96"/>
<line x1="613.70" y1="273.44" x2="620.10" y2="273.44" stroke="#000" stroke-width="1.02"/>
<circle cx="620.26" cy="280.92" r="1.3" fill="#000"/>
<circle cx="613.67" cy="286.72" r="1.3" fill="#000"/>
<circle cx="618.70" cy="274.79" r="1.3" fill="#000"/>
<circle cx="618.86" cy="278.40" r="1.3" fill="#000"/>
<circle cx="620.72" cy="283.28" r="1.3" fill="#000"/>
<circle cx="620.67" cy="272.28" r="1.3" fill="#000"/>
<rect x="631.10" y="279.63" width="14.60" height="11.87" fill="#d7d7d7" stroke="#000" stroke-width="1.2"/>
<line x1="638.40" y1="279.63" x2="638.40" y2="276.02" stroke="#000" stroke-width="0.96"/>
<line x1="635.20" y1="276.02" x2="641.60" y2="276.02" stroke="#000" stroke-width="1.02"/>
<circle cx="638.44" cy="283.83" r="1.3" fill="#000"/>
<circle cx="634.59" cy="278.65" r="1.3" fill="#000"/>
<circle cx="640.83" cy="275.58" r="1.3" fill="#000"/>
<circle cx="635.73" cy="280.39" r="1.3" fill="#000"/>
<circle cx="640.06" cy="282.07" r="1.3" fill="#000"/>
<circle cx="637.38" cy="276.77" r="1.3" fill="#000"/>
<line x1="594.70" y1="253.70" x2="638.60" y2="253.70" stroke="#000" stroke-width="1.02"/>
<path d="M610.50 247.25L610.50 249.95M611.67 247.92L609.33 249.28M611.67 249.28L609.33 247.92" stroke="#000" stroke-width="1.01" stroke-linecap="round"/>
<path d="M614.50 247.25L614.50 249.95M615.67 247.92L613.33 249.28M615.67 249.28L613.33 247.92" stroke="#000" stroke-width="1.01" stroke-linecap="round"/>
<path d="M618.50 247.25L618.50 249.95M619.67 247.92L617.33 249.28M619.67 249.28L617.33 247.92" stroke="#000" stroke-width="1.01" stroke-linecap="round"/>
<path d="M622.50 247.25L622.50 249.95M623.67 247.92L621.33 249.28M623.67 249.28L621.33 247.92" stroke="#000" stroke-width="1.01" stroke-linecap="round"/>
<text x="533.25" y="252.70" font-size="7.0" font-weight="bold" font-family='"Liberation Serif", serif' fill="#000" text-anchor="middle" stroke="#000" stroke-width="0.18" textLength="54.50" lengthAdjust="spacingAndGlyphs" transform="rotate(-90 533.25 252.70)" >SCD mRNA abundance</text>
<text x="541.45" y="252.70" font-size="7.0" font-weight="bold" font-family='"Liberation Serif", serif' fill="#000" text-anchor="middle" stroke="#000" stroke-width="0.18" textLength="53.40" lengthAdjust="spacingAndGlyphs" transform="rotate(-90 541.45 252.70)" >(Normalized to β-actin)</text>
<text x="573.30" y="300.34" font-size="6.6" font-weight="bold" font-family='"Liberation Serif", serif' fill="#000" text-anchor="middle" stroke="#000" stroke-width="0.18" >Control</text>
<text x="595.40" y="300.34" font-size="6.6" font-weight="bold" font-family='"Liberation Serif", serif' fill="#000" text-anchor="middle" stroke="#000" stroke-width="0.18" >1</text>
<text x="616.80" y="300.34" font-size="6.6" font-weight="bold" font-family='"Liberation Serif", serif' fill="#000" text-anchor="middle" stroke="#000" stroke-width="0.18" >10</text>
<text x="638.10" y="300.34" font-size="6.6" font-weight="bold" font-family='"Liberation Serif", serif' fill="#000" text-anchor="middle" stroke="#000" stroke-width="0.18" >100</text>
<line x1="588.40" y1="302.40" x2="645.70" y2="302.40" stroke="#000" stroke-width="1.08"/>
<text x="617.05" y="308.90" font-size="4.4" font-weight="bold" font-family='"Liberation Serif", serif' fill="#000" text-anchor="middle" stroke="#000" stroke-width="0.18" textLength="59.50" lengthAdjust="spacingAndGlyphs" >Rhein (mg g<tspan font-size="3.2" dy="-1.6">-1</tspan><tspan dy="1.6"> body weight)</tspan></text>
<text transform="translate(545.20 198.90) scale(1.170 1)" x="-1.39" y="0" font-size="20.78" font-weight="bold" font-family='"Liberation Sans", sans-serif' fill="#b8000f">H</text>
<line x1="28.50" y1="366.55" x2="28.50" y2="454.10" stroke="#000" stroke-width="1.2"/>
<line x1="24.90" y1="453.50" x2="28.50" y2="453.50" stroke="#000" stroke-width="1.2"/>
<text x="23.50" y="455.47" font-size="5.8" font-weight="bold" font-family='"Liberation Serif", serif' fill="#000" text-anchor="end" stroke="#000" stroke-width="0.18" >0.0</text>
<line x1="24.90" y1="424.45" x2="28.50" y2="424.45" stroke="#000" stroke-width="1.2"/>
<text x="23.50" y="426.42" font-size="5.8" font-weight="bold" font-family='"Liberation Serif", serif' fill="#000" text-anchor="end" stroke="#000" stroke-width="0.18" >0.5</text>
<line x1="24.90" y1="395.40" x2="28.50" y2="395.40" stroke="#000" stroke-width="1.2"/>
<text x="23.50" y="397.37" font-size="5.8" font-weight="bold" font-family='"Liberation Serif", serif' fill="#000" text-anchor="end" stroke="#000" stroke-width="0.18" >1.0</text>
<line x1="24.90" y1="366.35" x2="28.50" y2="366.35" stroke="#000" stroke-width="1.2"/>
<text x="23.50" y="368.32" font-size="5.8" font-weight="bold" font-family='"Liberation Serif", serif' fill="#000" text-anchor="end" stroke="#000" stroke-width="0.18" >1.5</text>
<line x1="28.50" y1="453.50" x2="147.00" y2="453.50" stroke="#000" stroke-width="1.2"/>
<line x1="55.80" y1="453.50" x2="55.80" y2="456.00" stroke="#000" stroke-width="0.96"/>
<line x1="117.60" y1="453.50" x2="117.60" y2="456.00" stroke="#000" stroke-width="0.96"/>
<rect x="33.40" y="395.40" width="10.60" height="58.10" fill="#ffffff" stroke="#000" stroke-width="1.2"/>
<circle cx="38.40" cy="396.72" r="1.3" fill="#000"/>
<circle cx="40.41" cy="393.39" r="1.3" fill="#000"/>
<circle cx="35.90" cy="387.83" r="1.3" fill="#000"/>
<circle cx="38.30" cy="403.53" r="1.3" fill="#000"/>
<circle cx="35.74" cy="389.71" r="1.3" fill="#000"/>
<circle cx="40.02" cy="400.29" r="1.3" fill="#000"/>
<rect x="46.50" y="394.24" width="10.00" height="59.26" fill="#808080" stroke="#000" stroke-width="1.2"/>
<circle cx="52.34" cy="397.09" r="1.3" fill="#000"/>
<circle cx="53.63" cy="393.05" r="1.3" fill="#000"/>
<circle cx="54.13" cy="382.77" r="1.3" fill="#000"/>
<circle cx="51.65" cy="405.33" r="1.3" fill="#000"/>
<circle cx="53.96" cy="386.65" r="1.3" fill="#000"/>
<circle cx="50.64" cy="400.51" r="1.3" fill="#000"/>
<rect x="59.50" y="408.76" width="10.10" height="44.74" fill="#a6a6a8" stroke="#000" stroke-width="1.2"/>
<line x1="64.55" y1="408.76" x2="64.55" y2="406.44" stroke="#000" stroke-width="0.96"/>
<line x1="62.05" y1="406.44" x2="67.05" y2="406.44" stroke="#000" stroke-width="1.02"/>
<circle cx="66.90" cy="410.00" r="1.3" fill="#000"/>
<circle cx="62.29" cy="415.57" r="1.3" fill="#000"/>
<circle cx="65.81" cy="404.11" r="1.3" fill="#000"/>
<circle cx="65.93" cy="407.58" r="1.3" fill="#000"/>
<circle cx="67.23" cy="412.26" r="1.3" fill="#000"/>
<circle cx="67.19" cy="401.70" r="1.3" fill="#000"/>
<rect x="72.40" y="419.80" width="10.00" height="33.70" fill="#d7d7d7" stroke="#000" stroke-width="1.2"/>
<line x1="77.40" y1="419.80" x2="77.40" y2="416.32" stroke="#000" stroke-width="0.96"/>
<line x1="74.90" y1="416.32" x2="79.90" y2="416.32" stroke="#000" stroke-width="1.02"/>
<circle cx="77.43" cy="430.18" r="1.3" fill="#000"/>
<circle cx="74.79" cy="417.37" r="1.3" fill="#000"/>
<circle cx="79.07" cy="409.78" r="1.3" fill="#000"/>
<circle cx="75.57" cy="421.67" r="1.3" fill="#000"/>
<circle cx="78.54" cy="425.83" r="1.3" fill="#000"/>
<circle cx="76.70" cy="412.72" r="1.3" fill="#000"/>
<rect x="93.00" y="395.40" width="10.50" height="58.10" fill="#ffffff" stroke="#000" stroke-width="1.2"/>
<circle cx="99.62" cy="397.44" r="1.3" fill="#000"/>
<circle cx="97.12" cy="401.86" r="1.3" fill="#000"/>
<circle cx="98.93" cy="383.55" r="1.3" fill="#000"/>
<circle cx="99.12" cy="406.84" r="1.3" fill="#000"/>
<circle cx="96.64" cy="389.20" r="1.3" fill="#000"/>
<circle cx="96.48" cy="394.21" r="1.3" fill="#000"/>
<rect x="106.30" y="407.02" width="10.50" height="46.48" fill="#808080" stroke="#000" stroke-width="1.2"/>
<circle cx="112.01" cy="420.23" r="1.3" fill="#000"/>
<circle cx="110.19" cy="393.34" r="1.3" fill="#000"/>
<circle cx="114.24" cy="409.06" r="1.3" fill="#000"/>
<circle cx="113.22" cy="405.55" r="1.3" fill="#000"/>
<circle cx="113.82" cy="414.08" r="1.3" fill="#000"/>
<circle cx="113.37" cy="397.61" r="1.3" fill="#000"/>
<rect x="119.30" y="418.06" width="10.10" height="35.44" fill="#a6a6a8" stroke="#000" stroke-width="1.2"/>
<line x1="124.35" y1="418.06" x2="124.35" y2="416.32" stroke="#000" stroke-width="0.96"/>
<line x1="121.85" y1="416.32" x2="126.85" y2="416.32" stroke="#000" stroke-width="1.02"/>
<circle cx="123.58" cy="418.92" r="1.3" fill="#000"/>
<circle cx="126.84" cy="423.58" r="1.3" fill="#000"/>
<circle cx="126.12" cy="417.04" r="1.3" fill="#000"/>
<circle cx="121.53" cy="421.22" r="1.3" fill="#000"/>
<circle cx="125.97" cy="412.72" r="1.3" fill="#000"/>
<circle cx="124.91" cy="414.90" r="1.3" fill="#000"/>
<rect x="132.40" y="422.13" width="10.10" height="31.37" fill="#d7d7d7" stroke="#000" stroke-width="1.2"/>
<line x1="137.45" y1="422.13" x2="137.45" y2="419.80" stroke="#000" stroke-width="0.96"/>
<line x1="134.95" y1="419.80" x2="139.95" y2="419.80" stroke="#000" stroke-width="1.02"/>
<circle cx="139.96" cy="423.94" r="1.3" fill="#000"/>
<circle cx="139.53" cy="421.28" r="1.3" fill="#000"/>
<circle cx="138.89" cy="429.63" r="1.3" fill="#000"/>
<circle cx="136.14" cy="417.99" r="1.3" fill="#000"/>
<circle cx="135.67" cy="414.62" r="1.3" fill="#000"/>
<circle cx="135.57" cy="426.53" r="1.3" fill="#000"/>
<line x1="72.90" y1="404.20" x2="87.90" y2="404.20" stroke="#000" stroke-width="1.02"/>
<path d="M76.40 397.05L76.40 399.75M77.57 397.72L75.23 399.07M77.57 399.07L75.23 397.72" stroke="#000" stroke-width="1.01" stroke-linecap="round"/>
<path d="M80.40 397.05L80.40 399.75M81.57 397.72L79.23 399.07M81.57 399.07L79.23 397.72" stroke="#000" stroke-width="1.01" stroke-linecap="round"/>
<path d="M84.40 397.05L84.40 399.75M85.57 397.72L83.23 399.07M85.57 399.07L83.23 397.72" stroke="#000" stroke-width="1.01" stroke-linecap="round"/>
<line x1="120.20" y1="407.30" x2="127.80" y2="407.30" stroke="#000" stroke-width="1.02"/>
<path d="M119.60 400.35L119.60 403.05M120.77 401.02L118.43 402.38M120.77 402.38L118.43 401.02" stroke="#000" stroke-width="1.01" stroke-linecap="round"/>
<path d="M123.60 400.35L123.60 403.05M124.77 401.02L122.43 402.38M124.77 402.38L122.43 401.02" stroke="#000" stroke-width="1.01" stroke-linecap="round"/>
<path d="M127.60 400.35L127.60 403.05M128.77 401.02L126.43 402.38M128.77 402.38L126.43 401.02" stroke="#000" stroke-width="1.01" stroke-linecap="round"/>
<line x1="135.00" y1="407.30" x2="145.10" y2="407.30" stroke="#000" stroke-width="1.02"/>
<path d="M133.30 400.35L133.30 403.05M134.47 401.02L132.13 402.38M134.47 402.38L132.13 401.02" stroke="#000" stroke-width="1.01" stroke-linecap="round"/>
<path d="M137.30 400.35L137.30 403.05M138.47 401.02L136.13 402.38M138.47 402.38L136.13 401.02" stroke="#000" stroke-width="1.01" stroke-linecap="round"/>
<path d="M141.30 400.35L141.30 403.05M142.47 401.02L140.13 402.38M142.47 402.38L140.13 401.02" stroke="#000" stroke-width="1.01" stroke-linecap="round"/>
<path d="M145.30 400.35L145.30 403.05M146.47 401.02L144.13 402.38M146.47 402.38L144.13 401.02" stroke="#000" stroke-width="1.01" stroke-linecap="round"/>
<text x="7.45" y="410.70" font-size="5.8500000000000005" font-weight="bold" font-family='"Liberation Serif", serif' fill="#000" text-anchor="middle" stroke="#000" stroke-width="0.18" textLength="70.00" lengthAdjust="spacingAndGlyphs" transform="rotate(-90 7.45 410.70)" >ACAT1 mRNA abundance</text>
<text x="13.95" y="410.70" font-size="5.8500000000000005" font-weight="bold" font-family='"Liberation Serif", serif' fill="#000" text-anchor="middle" stroke="#000" stroke-width="0.18" textLength="63.40" lengthAdjust="spacingAndGlyphs" transform="rotate(-90 13.95 410.70)" >(Normalized to β-actin)</text>
<text x="55.80" y="462.14" font-size="5.4" font-weight="bold" font-family='"Liberation Serif", serif' fill="#000" text-anchor="middle" stroke="#000" stroke-width="0.18" >2 h</text>
<text x="117.60" y="462.14" font-size="5.4" font-weight="bold" font-family='"Liberation Serif", serif' fill="#000" text-anchor="middle" stroke="#000" stroke-width="0.18" >24 h</text>
<circle cx="67.30" cy="348.40" r="1.15" fill="#000"/>
<text x="75.40" y="350.25" font-size="5.6" font-weight="bold" font-family='"Liberation Serif", serif' fill="#000" text-anchor="start" stroke="#000" stroke-width="0.18" >Control</text>
<circle cx="67.30" cy="356.00" r="1.4" fill="#000"/>
<text x="76.00" y="357.85" font-size="5.6" font-weight="bold" font-family='"Liberation Serif", serif' fill="#000" text-anchor="start" stroke="#000" stroke-width="0.18" >Rhein 0.1 μM</text>
<path d="M65.90 364.50L68.70 364.50L67.30 362.20Z"/>
<text x="76.00" y="365.35" font-size="5.6" font-weight="bold" font-family='"Liberation Serif", serif' fill="#000" text-anchor="start" stroke="#000" stroke-width="0.18" >Rhein 1 μM</text>
<rect x="66.35" y="370.65" width="1.9" height="1.9"/>
<text x="76.00" y="373.45" font-size="5.6" font-weight="bold" font-family='"Liberation Serif", serif' fill="#000" text-anchor="start" stroke="#000" stroke-width="0.18" >Rhein 10 μM</text>
<text transform="translate(23.80 352.80) scale(0.985 1)" x="-1.56" y="0" font-size="23.26" font-weight="bold" font-family='"Liberation Sans", sans-serif' fill="#146414">I</text>
<line x1="200.50" y1="364.60" x2="200.50" y2="451.10" stroke="#000" stroke-width="1.2"/>
<line x1="196.90" y1="450.50" x2="200.50" y2="450.50" stroke="#000" stroke-width="1.2"/>
<text x="195.50" y="452.47" font-size="5.8" font-weight="bold" font-family='"Liberation Serif", serif' fill="#000" text-anchor="end" stroke="#000" stroke-width="0.18" >0.0</text>
<line x1="196.90" y1="421.80" x2="200.50" y2="421.80" stroke="#000" stroke-width="1.2"/>
<text x="195.50" y="423.77" font-size="5.8" font-weight="bold" font-family='"Liberation Serif", serif' fill="#000" text-anchor="end" stroke="#000" stroke-width="0.18" >0.5</text>
<line x1="196.90" y1="393.10" x2="200.50" y2="393.10" stroke="#000" stroke-width="1.2"/>
<text x="195.50" y="395.07" font-size="5.8" font-weight="bold" font-family='"Liberation Serif", serif' fill="#000" text-anchor="end" stroke="#000" stroke-width="0.18" >1.0</text>
<line x1="196.90" y1="364.40" x2="200.50" y2="364.40" stroke="#000" stroke-width="1.2"/>
<text x="195.50" y="366.37" font-size="5.8" font-weight="bold" font-family='"Liberation Serif", serif' fill="#000" text-anchor="end" stroke="#000" stroke-width="0.18" >1.5</text>
<line x1="200.50" y1="450.50" x2="295.60" y2="450.50" stroke="#000" stroke-width="1.2"/>
<line x1="215.30" y1="450.50" x2="215.30" y2="453.00" stroke="#000" stroke-width="0.96"/>
<line x1="237.40" y1="450.50" x2="237.40" y2="453.00" stroke="#000" stroke-width="0.96"/>
<line x1="259.50" y1="450.50" x2="259.50" y2="453.00" stroke="#000" stroke-width="0.96"/>
<line x1="281.20" y1="450.50" x2="281.20" y2="453.00" stroke="#000" stroke-width="0.96"/>
<rect x="208.40" y="393.10" width="13.90" height="57.40" fill="#ffffff" stroke="#000" stroke-width="1.2"/>
<line x1="215.35" y1="393.10" x2="215.35" y2="388.51" stroke="#000" stroke-width="0.96"/>
<line x1="212.85" y1="388.51" x2="217.85" y2="388.51" stroke="#000" stroke-width="1.02"/>
<circle cx="214.96" cy="395.32" r="1.3" fill="#000"/>
<circle cx="217.60" cy="389.72" r="1.3" fill="#000"/>
<circle cx="211.68" cy="380.33" r="1.3" fill="#000"/>
<circle cx="214.83" cy="406.81" r="1.3" fill="#000"/>
<circle cx="211.47" cy="383.51" r="1.3" fill="#000"/>
<circle cx="217.07" cy="401.34" r="1.3" fill="#000"/>
<rect x="230.30" y="415.49" width="14.30" height="35.01" fill="#808080" stroke="#000" stroke-width="1.2"/>
<line x1="237.45" y1="415.49" x2="237.45" y2="411.47" stroke="#000" stroke-width="0.96"/>
<line x1="234.95" y1="411.47" x2="239.95" y2="411.47" stroke="#000" stroke-width="1.02"/>
<circle cx="238.65" cy="418.64" r="1.3" fill="#000"/>
<circle cx="240.50" cy="414.18" r="1.3" fill="#000"/>
<circle cx="241.21" cy="402.79" r="1.3" fill="#000"/>
<circle cx="237.67" cy="427.76" r="1.3" fill="#000"/>
<circle cx="240.97" cy="407.09" r="1.3" fill="#000"/>
<circle cx="236.21" cy="422.42" r="1.3" fill="#000"/>
<rect x="252.40" y="399.41" width="14.30" height="51.09" fill="#a6a6a8" stroke="#000" stroke-width="1.2"/>
<line x1="259.55" y1="399.41" x2="259.55" y2="395.97" stroke="#000" stroke-width="0.96"/>
<line x1="257.05" y1="395.97" x2="262.05" y2="395.97" stroke="#000" stroke-width="1.02"/>
<circle cx="262.88" cy="401.25" r="1.3" fill="#000"/>
<circle cx="256.35" cy="409.50" r="1.3" fill="#000"/>
<circle cx="261.34" cy="392.52" r="1.3" fill="#000"/>
<circle cx="261.50" cy="397.66" r="1.3" fill="#000"/>
<circle cx="263.34" cy="404.60" r="1.3" fill="#000"/>
<circle cx="263.29" cy="388.94" r="1.3" fill="#000"/>
<rect x="274.30" y="402.86" width="13.80" height="47.64" fill="#d7d7d7" stroke="#000" stroke-width="1.2"/>
<line x1="281.20" y1="402.86" x2="281.20" y2="398.84" stroke="#000" stroke-width="0.96"/>
<line x1="278.70" y1="398.84" x2="283.70" y2="398.84" stroke="#000" stroke-width="1.02"/>
<circle cx="281.24" cy="414.83" r="1.3" fill="#000"/>
<circle cx="277.60" cy="400.06" r="1.3" fill="#000"/>
<circle cx="283.50" cy="391.30" r="1.3" fill="#000"/>
<circle cx="278.67" cy="405.01" r="1.3" fill="#000"/>
<circle cx="282.77" cy="409.80" r="1.3" fill="#000"/>
<circle cx="280.23" cy="394.69" r="1.3" fill="#000"/>
<line x1="232.80" y1="397.10" x2="242.90" y2="397.10" stroke="#000" stroke-width="1.02"/>
<path d="M234.60 389.75L234.60 392.45M235.77 390.43L233.43 391.78M235.77 391.78L233.43 390.43" stroke="#000" stroke-width="1.01" stroke-linecap="round"/>
<path d="M238.60 389.75L238.60 392.45M239.77 390.43L237.43 391.78M239.77 391.78L237.43 390.43" stroke="#000" stroke-width="1.01" stroke-linecap="round"/>
<text x="175.49" y="407.50" font-size="6.839999999999995" font-weight="bold" font-family='"Liberation Serif", serif' fill="#000" text-anchor="middle" stroke="#000" stroke-width="0.18" textLength="69.90" lengthAdjust="spacingAndGlyphs" transform="rotate(-90 175.49 407.50)" >ACAT1 mRNA abundance</text>
<text x="183.09" y="407.50" font-size="6.839999999999995" font-weight="bold" font-family='"Liberation Serif", serif' fill="#000" text-anchor="middle" stroke="#000" stroke-width="0.18" textLength="62.90" lengthAdjust="spacingAndGlyphs" transform="rotate(-90 183.09 407.50)" >(Normalized to β-actin)</text>
<text x="215.20" y="460.44" font-size="6.6" font-weight="bold" font-family='"Liberation Serif", serif' fill="#000" text-anchor="middle" stroke="#000" stroke-width="0.18" >Control</text>
<text x="237.10" y="460.44" font-size="6.6" font-weight="bold" font-family='"Liberation Serif", serif' fill="#000" text-anchor="middle" stroke="#000" stroke-width="0.18" >1</text>
<text x="258.70" y="460.44" font-size="6.6" font-weight="bold" font-family='"Liberation Serif", serif' fill="#000" text-anchor="middle" stroke="#000" stroke-width="0.18" >10</text>
<text x="280.60" y="460.44" font-size="6.6" font-weight="bold" font-family='"Liberation Serif", serif' fill="#000" text-anchor="middle" stroke="#000" stroke-width="0.18" >100</text>
<line x1="233.20" y1="463.40" x2="286.70" y2="463.40" stroke="#000" stroke-width="1.08"/>
<text x="259.95" y="470.70" font-size="4.4" font-weight="bold" font-family='"Liberation Serif", serif' fill="#000" text-anchor="middle" stroke="#000" stroke-width="0.18" textLength="59.50" lengthAdjust="spacingAndGlyphs" >Rhein (mg g<tspan font-size="3.2" dy="-1.6">-1</tspan><tspan dy="1.6"> body weight)</tspan></text>
<text transform="translate(190.10 351.19) scale(0.987 1)" x="-0.33" y="0" font-size="21.64" font-weight="bold" font-family='"Liberation Sans", sans-serif' fill="#b8000f">J</text>
<line x1="383.50" y1="367.90" x2="383.50" y2="457.10" stroke="#000" stroke-width="1.2"/>
<line x1="379.90" y1="456.50" x2="383.50" y2="456.50" stroke="#000" stroke-width="1.2"/>
<text x="378.50" y="458.47" font-size="5.8" font-weight="bold" font-family='"Liberation Serif", serif' fill="#000" text-anchor="end" stroke="#000" stroke-width="0.18" >0.0</text>
<line x1="379.90" y1="434.45" x2="383.50" y2="434.45" stroke="#000" stroke-width="1.2"/>
<text x="378.50" y="436.42" font-size="5.8" font-weight="bold" font-family='"Liberation Serif", serif' fill="#000" text-anchor="end" stroke="#000" stroke-width="0.18" >0.5</text>
<line x1="379.90" y1="412.40" x2="383.50" y2="412.40" stroke="#000" stroke-width="1.2"/>
<text x="378.50" y="414.37" font-size="5.8" font-weight="bold" font-family='"Liberation Serif", serif' fill="#000" text-anchor="end" stroke="#000" stroke-width="0.18" >1.0</text>
<line x1="379.90" y1="390.35" x2="383.50" y2="390.35" stroke="#000" stroke-width="1.2"/>
<text x="378.50" y="392.32" font-size="5.8" font-weight="bold" font-family='"Liberation Serif", serif' fill="#000" text-anchor="end" stroke="#000" stroke-width="0.18" >1.5</text>
<line x1="379.90" y1="368.30" x2="383.50" y2="368.30" stroke="#000" stroke-width="1.2"/>
<text x="378.50" y="370.27" font-size="5.8" font-weight="bold" font-family='"Liberation Serif", serif' fill="#000" text-anchor="end" stroke="#000" stroke-width="0.18" >2.0</text>
<line x1="383.50" y1="456.50" x2="490.20" y2="456.50" stroke="#000" stroke-width="1.2"/>
<line x1="407.30" y1="456.50" x2="407.30" y2="459.00" stroke="#000" stroke-width="0.96"/>
<line x1="463.90" y1="456.50" x2="463.90" y2="459.00" stroke="#000" stroke-width="0.96"/>
<rect x="388.50" y="412.40" width="8.30" height="44.10" fill="#ffffff" stroke="#000" stroke-width="1.2"/>
<line x1="392.65" y1="412.40" x2="392.65" y2="407.99" stroke="#000" stroke-width="0.96"/>
<line x1="389.45" y1="407.99" x2="395.85" y2="407.99" stroke="#000" stroke-width="1.02"/>
<circle cx="392.42" cy="413.23" r="1.3" fill="#000"/>
<circle cx="393.99" cy="411.13" r="1.3" fill="#000"/>
<circle cx="390.46" cy="407.61" r="1.3" fill="#000"/>
<circle cx="392.34" cy="417.54" r="1.3" fill="#000"/>
<circle cx="390.34" cy="408.80" r="1.3" fill="#000"/>
<circle cx="393.68" cy="415.49" r="1.3" fill="#000"/>
<rect x="399.30" y="415.05" width="9.30" height="41.45" fill="#a6a6a8" stroke="#000" stroke-width="1.2"/>
<line x1="403.95" y1="415.05" x2="403.95" y2="410.64" stroke="#000" stroke-width="0.96"/>
<line x1="400.75" y1="410.64" x2="407.15" y2="410.64" stroke="#000" stroke-width="1.02"/>
<circle cx="404.73" cy="416.40" r="1.3" fill="#000"/>
<circle cx="405.94" cy="414.48" r="1.3" fill="#000"/>
<circle cx="406.39" cy="409.60" r="1.3" fill="#000"/>
<circle cx="404.09" cy="420.31" r="1.3" fill="#000"/>
<circle cx="406.24" cy="411.45" r="1.3" fill="#000"/>
<circle cx="403.15" cy="418.02" r="1.3" fill="#000"/>
<rect x="411.10" y="415.93" width="8.80" height="40.57" fill="#808080" stroke="#000" stroke-width="1.2"/>
<line x1="415.50" y1="415.93" x2="415.50" y2="412.40" stroke="#000" stroke-width="0.96"/>
<line x1="412.30" y1="412.40" x2="418.70" y2="412.40" stroke="#000" stroke-width="1.02"/>
<circle cx="417.55" cy="416.66" r="1.3" fill="#000"/>
<circle cx="413.53" cy="419.97" r="1.3" fill="#000"/>
<circle cx="416.60" cy="413.17" r="1.3" fill="#000"/>
<circle cx="416.70" cy="415.23" r="1.3" fill="#000"/>
<circle cx="417.83" cy="418.00" r="1.3" fill="#000"/>
<circle cx="417.80" cy="411.74" r="1.3" fill="#000"/>
<rect x="422.40" y="399.17" width="9.30" height="57.33" fill="#d7d7d7" stroke="#000" stroke-width="1.2"/>
<line x1="427.05" y1="399.17" x2="427.05" y2="395.64" stroke="#000" stroke-width="0.96"/>
<line x1="423.85" y1="395.64" x2="430.25" y2="395.64" stroke="#000" stroke-width="1.02"/>
<circle cx="427.08" cy="403.27" r="1.3" fill="#000"/>
<circle cx="424.63" cy="398.21" r="1.3" fill="#000"/>
<circle cx="428.60" cy="395.21" r="1.3" fill="#000"/>
<circle cx="425.35" cy="399.91" r="1.3" fill="#000"/>
<circle cx="428.11" cy="401.55" r="1.3" fill="#000"/>
<circle cx="426.40" cy="396.37" r="1.3" fill="#000"/>
<rect x="443.30" y="412.40" width="8.70" height="44.10" fill="#ffffff" stroke="#000" stroke-width="1.2"/>
<line x1="447.65" y1="412.40" x2="447.65" y2="405.79" stroke="#000" stroke-width="0.96"/>
<line x1="444.45" y1="405.79" x2="450.85" y2="405.79" stroke="#000" stroke-width="1.02"/>
<circle cx="448.78" cy="413.85" r="1.3" fill="#000"/>
<circle cx="446.72" cy="417.00" r="1.3" fill="#000"/>
<circle cx="448.21" cy="403.97" r="1.3" fill="#000"/>
<circle cx="448.37" cy="420.54" r="1.3" fill="#000"/>
<circle cx="446.32" cy="407.99" r="1.3" fill="#000"/>
<circle cx="446.19" cy="411.55" r="1.3" fill="#000"/>
<rect x="454.60" y="418.57" width="9.30" height="37.93" fill="#a6a6a8" stroke="#000" stroke-width="1.2"/>
<line x1="459.25" y1="418.57" x2="459.25" y2="415.05" stroke="#000" stroke-width="0.96"/>
<line x1="456.05" y1="415.05" x2="462.45" y2="415.05" stroke="#000" stroke-width="1.02"/>
<circle cx="459.66" cy="422.58" r="1.3" fill="#000"/>
<circle cx="458.05" cy="414.42" r="1.3" fill="#000"/>
<circle cx="461.63" cy="419.19" r="1.3" fill="#000"/>
<circle cx="460.73" cy="418.13" r="1.3" fill="#000"/>
<circle cx="461.26" cy="420.72" r="1.3" fill="#000"/>
<circle cx="460.86" cy="415.72" r="1.3" fill="#000"/>
<rect x="466.40" y="392.56" width="8.80" height="63.94" fill="#808080" stroke="#000" stroke-width="1.2"/>
<line x1="470.80" y1="392.56" x2="470.80" y2="389.91" stroke="#000" stroke-width="0.96"/>
<line x1="467.60" y1="389.91" x2="474.00" y2="389.91" stroke="#000" stroke-width="1.02"/>
<circle cx="470.13" cy="393.06" r="1.3" fill="#000"/>
<circle cx="472.97" cy="395.83" r="1.3" fill="#000"/>
<circle cx="472.34" cy="391.95" r="1.3" fill="#000"/>
<circle cx="468.34" cy="394.43" r="1.3" fill="#000"/>
<circle cx="472.21" cy="389.39" r="1.3" fill="#000"/>
<circle cx="471.29" cy="390.68" r="1.3" fill="#000"/>
<rect x="477.70" y="403.14" width="9.30" height="53.36" fill="#d7d7d7" stroke="#000" stroke-width="1.2"/>
<line x1="482.35" y1="403.14" x2="482.35" y2="398.73" stroke="#000" stroke-width="0.96"/>
<line x1="479.15" y1="398.73" x2="485.55" y2="398.73" stroke="#000" stroke-width="1.02"/>
<circle cx="484.66" cy="404.48" r="1.3" fill="#000"/>
<circle cx="484.27" cy="402.51" r="1.3" fill="#000"/>
<circle cx="483.67" cy="408.70" r="1.3" fill="#000"/>
<circle cx="481.15" cy="400.07" r="1.3" fill="#000"/>
<circle cx="480.71" cy="397.57" r="1.3" fill="#000"/>
<circle cx="480.62" cy="406.40" r="1.3" fill="#000"/>
<line x1="422.90" y1="387.30" x2="431.70" y2="387.30" stroke="#000" stroke-width="1.02"/>
<path d="M426.90 380.25L426.90 382.95M428.07 380.93L425.73 382.28M428.07 382.28L425.73 380.93" stroke="#000" stroke-width="1.01" stroke-linecap="round"/>
<line x1="467.10" y1="382.10" x2="485.70" y2="382.10" stroke="#000" stroke-width="1.02"/>
<path d="M473.90 375.15L473.90 377.85M475.07 375.82L472.73 377.18M475.07 377.18L472.73 375.82" stroke="#000" stroke-width="1.01" stroke-linecap="round"/>
<path d="M477.90 375.15L477.90 377.85M479.07 375.82L476.73 377.18M479.07 377.18L476.73 375.82" stroke="#000" stroke-width="1.01" stroke-linecap="round"/>
<text x="363.79" y="413.00" font-size="5.4" font-weight="bold" font-family='"Liberation Serif", serif' fill="#000" text-anchor="middle" stroke="#000" stroke-width="0.18" textLength="65.10" lengthAdjust="spacingAndGlyphs" transform="rotate(-90 363.79 413.00)" >CPT1 mRNA abundance</text>
<text x="369.79" y="413.00" font-size="5.4" font-weight="bold" font-family='"Liberation Serif", serif' fill="#000" text-anchor="middle" stroke="#000" stroke-width="0.18" textLength="64.00" lengthAdjust="spacingAndGlyphs" transform="rotate(-90 369.79 413.00)" >(Normalized to β-actin)</text>
<text x="407.30" y="466.34" font-size="5.4" font-weight="bold" font-family='"Liberation Serif", serif' fill="#000" text-anchor="middle" stroke="#000" stroke-width="0.18" >2 h</text>
<text x="463.90" y="466.34" font-size="5.4" font-weight="bold" font-family='"Liberation Serif", serif' fill="#000" text-anchor="middle" stroke="#000" stroke-width="0.18" >24 h</text>
<circle cx="418.60" cy="344.60" r="1.15" fill="#000"/>
<text x="426.20" y="346.45" font-size="5.6" font-weight="bold" font-family='"Liberation Serif", serif' fill="#000" text-anchor="start" stroke="#000" stroke-width="0.18" >Control</text>
<circle cx="418.60" cy="351.40" r="1.4" fill="#000"/>
<text x="426.80" y="353.25" font-size="5.6" font-weight="bold" font-family='"Liberation Serif", serif' fill="#000" text-anchor="start" stroke="#000" stroke-width="0.18" >Rhein 0.1 μM</text>
<path d="M417.20 359.20L420.00 359.20L418.60 356.90Z"/>
<text x="426.80" y="360.05" font-size="5.6" font-weight="bold" font-family='"Liberation Serif", serif' fill="#000" text-anchor="start" stroke="#000" stroke-width="0.18" >Rhein 1 μM</text>
<rect x="417.65" y="364.25" width="1.9" height="1.9"/>
<text x="426.80" y="367.05" font-size="5.6" font-weight="bold" font-family='"Liberation Serif", serif' fill="#000" text-anchor="start" stroke="#000" stroke-width="0.18" >Rhein 10 μM</text>
<text transform="translate(370.90 356.40) scale(0.934 1)" x="-1.58" y="0" font-size="23.69" font-weight="bold" font-family='"Liberation Sans", sans-serif' fill="#146414">K</text>
<line x1="560.50" y1="358.40" x2="560.50" y2="447.10" stroke="#000" stroke-width="1.2"/>
<line x1="556.90" y1="446.50" x2="560.50" y2="446.50" stroke="#000" stroke-width="1.2"/>
<text x="555.50" y="448.71" font-size="6.5" font-weight="bold" font-family='"Liberation Serif", serif' fill="#000" text-anchor="end" stroke="#000" stroke-width="0.18" >0.0</text>
<line x1="556.90" y1="428.96" x2="560.50" y2="428.96" stroke="#000" stroke-width="1.2"/>
<text x="555.50" y="431.17" font-size="6.5" font-weight="bold" font-family='"Liberation Serif", serif' fill="#000" text-anchor="end" stroke="#000" stroke-width="0.18" >0.5</text>
<line x1="556.90" y1="411.42" x2="560.50" y2="411.42" stroke="#000" stroke-width="1.2"/>
<text x="555.50" y="413.63" font-size="6.5" font-weight="bold" font-family='"Liberation Serif", serif' fill="#000" text-anchor="end" stroke="#000" stroke-width="0.18" >1.0</text>
<line x1="556.90" y1="393.88" x2="560.50" y2="393.88" stroke="#000" stroke-width="1.2"/>
<text x="555.50" y="396.09" font-size="6.5" font-weight="bold" font-family='"Liberation Serif", serif' fill="#000" text-anchor="end" stroke="#000" stroke-width="0.18" >1.5</text>
<line x1="556.90" y1="376.34" x2="560.50" y2="376.34" stroke="#000" stroke-width="1.2"/>
<text x="555.50" y="378.55" font-size="6.5" font-weight="bold" font-family='"Liberation Serif", serif' fill="#000" text-anchor="end" stroke="#000" stroke-width="0.18" >2.0</text>
<line x1="556.90" y1="358.80" x2="560.50" y2="358.80" stroke="#000" stroke-width="1.2"/>
<text x="555.50" y="361.01" font-size="6.5" font-weight="bold" font-family='"Liberation Serif", serif' fill="#000" text-anchor="end" stroke="#000" stroke-width="0.18" >2.5</text>
<line x1="560.50" y1="446.50" x2="652.40" y2="446.50" stroke="#000" stroke-width="1.2"/>
<line x1="575.50" y1="446.50" x2="575.50" y2="449.00" stroke="#000" stroke-width="0.96"/>
<line x1="597.50" y1="446.50" x2="597.50" y2="449.00" stroke="#000" stroke-width="0.96"/>
<line x1="618.90" y1="446.50" x2="618.90" y2="449.00" stroke="#000" stroke-width="0.96"/>
<line x1="640.80" y1="446.50" x2="640.80" y2="449.00" stroke="#000" stroke-width="0.96"/>
<rect x="568.30" y="411.42" width="14.30" height="35.08" fill="#ffffff" stroke="#000" stroke-width="1.2"/>
<line x1="575.45" y1="411.42" x2="575.45" y2="409.67" stroke="#000" stroke-width="0.96"/>
<line x1="572.95" y1="409.67" x2="577.95" y2="409.67" stroke="#000" stroke-width="1.02"/>
<circle cx="575.05" cy="412.27" r="1.3" fill="#000"/>
<circle cx="577.76" cy="410.13" r="1.3" fill="#000"/>
<circle cx="571.67" cy="406.54" r="1.3" fill="#000"/>
<circle cx="574.91" cy="416.66" r="1.3" fill="#000"/>
<circle cx="571.46" cy="407.76" r="1.3" fill="#000"/>
<circle cx="577.22" cy="414.57" r="1.3" fill="#000"/>
<rect x="590.40" y="407.91" width="14.30" height="38.59" fill="#808080" stroke="#000" stroke-width="1.2"/>
<line x1="597.55" y1="407.91" x2="597.55" y2="406.16" stroke="#000" stroke-width="0.96"/>
<line x1="595.05" y1="406.16" x2="600.05" y2="406.16" stroke="#000" stroke-width="1.02"/>
<circle cx="598.75" cy="409.29" r="1.3" fill="#000"/>
<circle cx="600.60" cy="407.34" r="1.3" fill="#000"/>
<circle cx="601.31" cy="402.37" r="1.3" fill="#000"/>
<circle cx="597.77" cy="413.27" r="1.3" fill="#000"/>
<circle cx="601.07" cy="404.25" r="1.3" fill="#000"/>
<circle cx="596.31" cy="410.94" r="1.3" fill="#000"/>
<rect x="611.70" y="388.27" width="14.40" height="58.23" fill="#a6a6a8" stroke="#000" stroke-width="1.2"/>
<line x1="618.90" y1="388.27" x2="618.90" y2="382.65" stroke="#000" stroke-width="0.96"/>
<line x1="616.40" y1="382.65" x2="621.40" y2="382.65" stroke="#000" stroke-width="1.02"/>
<circle cx="622.26" cy="391.26" r="1.3" fill="#000"/>
<circle cx="615.67" cy="404.71" r="1.3" fill="#000"/>
<circle cx="620.70" cy="377.03" r="1.3" fill="#000"/>
<circle cx="620.86" cy="385.41" r="1.3" fill="#000"/>
<circle cx="622.72" cy="396.72" r="1.3" fill="#000"/>
<circle cx="622.67" cy="371.20" r="1.3" fill="#000"/>
<rect x="633.60" y="387.21" width="14.30" height="59.29" fill="#d7d7d7" stroke="#000" stroke-width="1.2"/>
<line x1="640.75" y1="387.21" x2="640.75" y2="381.25" stroke="#000" stroke-width="0.96"/>
<line x1="638.25" y1="381.25" x2="643.25" y2="381.25" stroke="#000" stroke-width="1.02"/>
<circle cx="640.79" cy="404.98" r="1.3" fill="#000"/>
<circle cx="637.02" cy="383.06" r="1.3" fill="#000"/>
<circle cx="643.13" cy="370.07" r="1.3" fill="#000"/>
<circle cx="638.13" cy="390.40" r="1.3" fill="#000"/>
<circle cx="642.38" cy="397.52" r="1.3" fill="#000"/>
<circle cx="639.75" cy="375.10" r="1.3" fill="#000"/>
<line x1="616.80" y1="365.70" x2="642.90" y2="365.70" stroke="#000" stroke-width="1.02"/>
<path d="M624.60 358.05L624.60 360.75M625.77 358.72L623.43 360.07M625.77 360.07L623.43 358.72" stroke="#000" stroke-width="1.01" stroke-linecap="round"/>
<path d="M628.60 358.05L628.60 360.75M629.77 358.72L627.43 360.07M629.77 360.07L627.43 358.72" stroke="#000" stroke-width="1.01" stroke-linecap="round"/>
<path d="M632.60 358.05L632.60 360.75M633.77 358.72L631.43 360.07M633.77 360.07L631.43 358.72" stroke="#000" stroke-width="1.01" stroke-linecap="round"/>
<text x="535.12" y="401.60" font-size="7.2" font-weight="bold" font-family='"Liberation Serif", serif' fill="#000" text-anchor="middle" stroke="#000" stroke-width="0.18" textLength="67.30" lengthAdjust="spacingAndGlyphs" transform="rotate(-90 535.12 401.60)" >CPT-1 mRNA abundance</text>
<text x="543.62" y="401.60" font-size="7.2" font-weight="bold" font-family='"Liberation Serif", serif' fill="#000" text-anchor="middle" stroke="#000" stroke-width="0.18" textLength="62.80" lengthAdjust="spacingAndGlyphs" transform="rotate(-90 543.62 401.60)" >(Normalized to β-actin)</text>
<text x="575.30" y="456.25" font-size="6.9" font-weight="bold" font-family='"Liberation Serif", serif' fill="#000" text-anchor="middle" stroke="#000" stroke-width="0.18" >Control</text>
<text x="597.20" y="456.25" font-size="6.9" font-weight="bold" font-family='"Liberation Serif", serif' fill="#000" text-anchor="middle" stroke="#000" stroke-width="0.18" >1</text>
<text x="618.50" y="456.25" font-size="6.9" font-weight="bold" font-family='"Liberation Serif", serif' fill="#000" text-anchor="middle" stroke="#000" stroke-width="0.18" >10</text>
<text x="640.40" y="456.25" font-size="6.9" font-weight="bold" font-family='"Liberation Serif", serif' fill="#000" text-anchor="middle" stroke="#000" stroke-width="0.18" >100</text>
<line x1="592.90" y1="458.90" x2="646.20" y2="458.90" stroke="#000" stroke-width="1.08"/>
<text x="619.55" y="466.50" font-size="4.4" font-weight="bold" font-family='"Liberation Serif", serif' fill="#000" text-anchor="middle" stroke="#000" stroke-width="0.18" textLength="59.50" lengthAdjust="spacingAndGlyphs" >Rhein (mg g<tspan font-size="3.2" dy="-1.6">-1</tspan><tspan dy="1.6"> body weight)</tspan></text>
<text transform="translate(552.00 350.70) scale(1.065 1)" x="-1.47" y="0" font-size="21.95" font-weight="bold" font-family='"Liberation Sans", sans-serif' fill="#b8000f">L</text>
<line x1="30.50" y1="513.50" x2="30.50" y2="581.10" stroke="#000" stroke-width="1.2"/>
<line x1="26.90" y1="580.50" x2="30.50" y2="580.50" stroke="#000" stroke-width="1.2"/>
<text x="25.50" y="582.47" font-size="5.8" font-weight="bold" font-family='"Liberation Serif", serif' fill="#000" text-anchor="end" stroke="#000" stroke-width="0.18" >0.0</text>
<line x1="26.90" y1="567.08" x2="30.50" y2="567.08" stroke="#000" stroke-width="1.2"/>
<text x="25.50" y="569.05" font-size="5.8" font-weight="bold" font-family='"Liberation Serif", serif' fill="#000" text-anchor="end" stroke="#000" stroke-width="0.18" >0.5</text>
<line x1="26.90" y1="553.66" x2="30.50" y2="553.66" stroke="#000" stroke-width="1.2"/>
<text x="25.50" y="555.63" font-size="5.8" font-weight="bold" font-family='"Liberation Serif", serif' fill="#000" text-anchor="end" stroke="#000" stroke-width="0.18" >1.0</text>
<line x1="26.90" y1="540.24" x2="30.50" y2="540.24" stroke="#000" stroke-width="1.2"/>
<text x="25.50" y="542.21" font-size="5.8" font-weight="bold" font-family='"Liberation Serif", serif' fill="#000" text-anchor="end" stroke="#000" stroke-width="0.18" >1.5</text>
<line x1="26.90" y1="526.82" x2="30.50" y2="526.82" stroke="#000" stroke-width="1.2"/>
<text x="25.50" y="528.79" font-size="5.8" font-weight="bold" font-family='"Liberation Serif", serif' fill="#000" text-anchor="end" stroke="#000" stroke-width="0.18" >2.0</text>
<line x1="26.90" y1="513.40" x2="30.50" y2="513.40" stroke="#000" stroke-width="1.2"/>
<text x="25.50" y="515.37" font-size="5.8" font-weight="bold" font-family='"Liberation Serif", serif' fill="#000" text-anchor="end" stroke="#000" stroke-width="0.18" >2.5</text>
<line x1="30.50" y1="580.50" x2="150.30" y2="580.50" stroke="#000" stroke-width="1.2"/>
<line x1="57.30" y1="580.50" x2="57.30" y2="583.00" stroke="#000" stroke-width="0.96"/>
<line x1="120.10" y1="580.50" x2="120.10" y2="583.00" stroke="#000" stroke-width="0.96"/>
<rect x="35.20" y="553.66" width="10.50" height="26.84" fill="#ffffff" stroke="#000" stroke-width="1.2"/>
<line x1="40.45" y1="553.66" x2="40.45" y2="550.98" stroke="#000" stroke-width="0.96"/>
<line x1="37.95" y1="550.98" x2="42.95" y2="550.98" stroke="#000" stroke-width="1.02"/>
<circle cx="40.15" cy="554.96" r="1.3" fill="#000"/>
<circle cx="42.15" cy="551.68" r="1.3" fill="#000"/>
<circle cx="37.68" cy="546.20" r="1.3" fill="#000"/>
<circle cx="40.05" cy="561.67" r="1.3" fill="#000"/>
<circle cx="37.52" cy="548.06" r="1.3" fill="#000"/>
<circle cx="41.75" cy="558.48" r="1.3" fill="#000"/>
<rect x="48.20" y="549.10" width="10.10" height="31.40" fill="#808080" stroke="#000" stroke-width="1.2"/>
<line x1="53.25" y1="549.10" x2="53.25" y2="547.49" stroke="#000" stroke-width="0.96"/>
<line x1="50.75" y1="547.49" x2="55.75" y2="547.49" stroke="#000" stroke-width="1.02"/>
<circle cx="54.10" cy="550.36" r="1.3" fill="#000"/>
<circle cx="55.41" cy="548.57" r="1.3" fill="#000"/>
<circle cx="55.90" cy="544.01" r="1.3" fill="#000"/>
<circle cx="53.41" cy="554.02" r="1.3" fill="#000"/>
<circle cx="55.73" cy="545.73" r="1.3" fill="#000"/>
<circle cx="52.38" cy="551.88" r="1.3" fill="#000"/>
<rect x="61.10" y="531.38" width="10.00" height="49.12" fill="#a6a6a8" stroke="#000" stroke-width="1.2"/>
<line x1="66.10" y1="531.38" x2="66.10" y2="531.11" stroke="#000" stroke-width="0.96"/>
<line x1="63.60" y1="531.11" x2="68.60" y2="531.11" stroke="#000" stroke-width="1.02"/>
<circle cx="68.43" cy="531.77" r="1.3" fill="#000"/>
<circle cx="63.86" cy="533.53" r="1.3" fill="#000"/>
<circle cx="67.35" cy="529.91" r="1.3" fill="#000"/>
<circle cx="67.46" cy="531.01" r="1.3" fill="#000"/>
<circle cx="68.75" cy="532.49" r="1.3" fill="#000"/>
<circle cx="68.72" cy="529.15" r="1.3" fill="#000"/>
<rect x="73.60" y="532.19" width="10.10" height="48.31" fill="#d7d7d7" stroke="#000" stroke-width="1.2"/>
<line x1="78.65" y1="532.19" x2="78.65" y2="528.70" stroke="#000" stroke-width="0.96"/>
<line x1="76.15" y1="528.70" x2="81.15" y2="528.70" stroke="#000" stroke-width="1.02"/>
<circle cx="78.68" cy="542.58" r="1.3" fill="#000"/>
<circle cx="76.02" cy="529.76" r="1.3" fill="#000"/>
<circle cx="80.33" cy="522.16" r="1.3" fill="#000"/>
<circle cx="76.80" cy="534.05" r="1.3" fill="#000"/>
<circle cx="79.80" cy="538.22" r="1.3" fill="#000"/>
<circle cx="77.94" cy="525.10" r="1.3" fill="#000"/>
<rect x="96.70" y="553.66" width="10.10" height="26.84" fill="#ffffff" stroke="#000" stroke-width="1.2"/>
<line x1="101.75" y1="553.66" x2="101.75" y2="551.51" stroke="#000" stroke-width="0.96"/>
<line x1="99.25" y1="551.51" x2="104.25" y2="551.51" stroke="#000" stroke-width="1.02"/>
<circle cx="103.07" cy="554.87" r="1.3" fill="#000"/>
<circle cx="100.67" cy="557.48" r="1.3" fill="#000"/>
<circle cx="102.40" cy="546.65" r="1.3" fill="#000"/>
<circle cx="102.58" cy="560.42" r="1.3" fill="#000"/>
<circle cx="100.21" cy="549.99" r="1.3" fill="#000"/>
<circle cx="100.05" cy="552.96" r="1.3" fill="#000"/>
<rect x="109.30" y="548.02" width="10.50" height="32.48" fill="#808080" stroke="#000" stroke-width="1.2"/>
<line x1="114.55" y1="548.02" x2="114.55" y2="544.27" stroke="#000" stroke-width="0.96"/>
<line x1="112.05" y1="544.27" x2="117.05" y2="544.27" stroke="#000" stroke-width="1.02"/>
<circle cx="115.01" cy="558.96" r="1.3" fill="#000"/>
<circle cx="113.19" cy="536.70" r="1.3" fill="#000"/>
<circle cx="117.24" cy="549.71" r="1.3" fill="#000"/>
<circle cx="116.22" cy="546.81" r="1.3" fill="#000"/>
<circle cx="116.82" cy="553.87" r="1.3" fill="#000"/>
<circle cx="116.37" cy="540.23" r="1.3" fill="#000"/>
<rect x="122.40" y="541.05" width="10.00" height="39.45" fill="#a6a6a8" stroke="#000" stroke-width="1.2"/>
<line x1="127.40" y1="541.05" x2="127.40" y2="540.51" stroke="#000" stroke-width="0.96"/>
<line x1="124.90" y1="540.51" x2="129.90" y2="540.51" stroke="#000" stroke-width="1.02"/>
<circle cx="126.64" cy="541.41" r="1.3" fill="#000"/>
<circle cx="129.87" cy="543.37" r="1.3" fill="#000"/>
<circle cx="129.15" cy="540.62" r="1.3" fill="#000"/>
<circle cx="124.61" cy="542.38" r="1.3" fill="#000"/>
<circle cx="129.00" cy="538.80" r="1.3" fill="#000"/>
<circle cx="127.96" cy="539.72" r="1.3" fill="#000"/>
<rect x="135.20" y="529.77" width="10.00" height="50.73" fill="#d7d7d7" stroke="#000" stroke-width="1.2"/>
<line x1="140.20" y1="529.77" x2="140.20" y2="527.09" stroke="#000" stroke-width="0.96"/>
<line x1="137.70" y1="527.09" x2="142.70" y2="527.09" stroke="#000" stroke-width="1.02"/>
<circle cx="142.68" cy="531.86" r="1.3" fill="#000"/>
<circle cx="142.26" cy="528.79" r="1.3" fill="#000"/>
<circle cx="141.62" cy="538.44" r="1.3" fill="#000"/>
<circle cx="138.90" cy="524.99" r="1.3" fill="#000"/>
<circle cx="138.43" cy="521.10" r="1.3" fill="#000"/>
<circle cx="138.34" cy="534.86" r="1.3" fill="#000"/>
<line x1="64.80" y1="520.30" x2="79.90" y2="520.30" stroke="#000" stroke-width="1.02"/>
<path d="M66.10 513.95L66.10 516.65M67.27 514.62L64.93 515.97M67.27 515.97L64.93 514.62" stroke="#000" stroke-width="1.01" stroke-linecap="round"/>
<path d="M70.10 513.95L70.10 516.65M71.27 514.62L68.93 515.97M71.27 515.97L68.93 514.62" stroke="#000" stroke-width="1.01" stroke-linecap="round"/>
<path d="M74.10 513.95L74.10 516.65M75.27 514.62L72.93 515.97M75.27 515.97L72.93 514.62" stroke="#000" stroke-width="1.01" stroke-linecap="round"/>
<path d="M78.10 513.95L78.10 516.65M79.27 514.62L76.93 515.97M79.27 515.97L76.93 514.62" stroke="#000" stroke-width="1.01" stroke-linecap="round"/>
<line x1="121.90" y1="525.80" x2="131.90" y2="525.80" stroke="#000" stroke-width="1.02"/>
<path d="M126.40 519.75L126.40 522.45M127.57 520.43L125.23 521.77M127.57 521.77L125.23 520.43" stroke="#000" stroke-width="1.01" stroke-linecap="round"/>
<line x1="135.70" y1="516.50" x2="150.80" y2="516.50" stroke="#000" stroke-width="1.02"/>
<path d="M137.20 510.95L137.20 513.65M138.37 511.62L136.03 512.97M138.37 512.97L136.03 511.62" stroke="#000" stroke-width="1.01" stroke-linecap="round"/>
<path d="M141.20 510.95L141.20 513.65M142.37 511.62L140.03 512.97M142.37 512.97L140.03 511.62" stroke="#000" stroke-width="1.01" stroke-linecap="round"/>
<path d="M145.20 510.95L145.20 513.65M146.37 511.62L144.03 512.97M146.37 512.97L144.03 511.62" stroke="#000" stroke-width="1.01" stroke-linecap="round"/>
<path d="M149.20 510.95L149.20 513.65M150.37 511.62L148.03 512.97M150.37 512.97L148.03 511.62" stroke="#000" stroke-width="1.01" stroke-linecap="round"/>
<text x="9.12" y="547.20" font-size="5.2" font-weight="bold" font-family='"Liberation Serif", serif' fill="#000" text-anchor="middle" stroke="#000" stroke-width="0.18" textLength="51.60" lengthAdjust="spacingAndGlyphs" transform="rotate(-90 9.12 547.20)" >AOX1 mRNA abundance</text>
<text x="14.62" y="547.20" font-size="5.2" font-weight="bold" font-family='"Liberation Serif", serif' fill="#000" text-anchor="middle" stroke="#000" stroke-width="0.18" textLength="47.90" lengthAdjust="spacingAndGlyphs" transform="rotate(-90 14.62 547.20)" >(Normalized to β-actin)</text>
<text x="57.30" y="588.04" font-size="5.4" font-weight="bold" font-family='"Liberation Serif", serif' fill="#000" text-anchor="middle" stroke="#000" stroke-width="0.18" >2 h</text>
<text x="120.10" y="588.04" font-size="5.4" font-weight="bold" font-family='"Liberation Serif", serif' fill="#000" text-anchor="middle" stroke="#000" stroke-width="0.18" >24 h</text>
<circle cx="80.90" cy="485.90" r="1.15" fill="#000"/>
<text x="89.20" y="487.75" font-size="5.6" font-weight="bold" font-family='"Liberation Serif", serif' fill="#000" text-anchor="start" stroke="#000" stroke-width="0.18" >Control</text>
<circle cx="80.90" cy="492.70" r="1.4" fill="#000"/>
<text x="89.80" y="494.55" font-size="5.6" font-weight="bold" font-family='"Liberation Serif", serif' fill="#000" text-anchor="start" stroke="#000" stroke-width="0.18" >Rhein 0.1 μM</text>
<path d="M79.50 499.90L82.30 499.90L80.90 497.60Z"/>
<text x="89.80" y="500.75" font-size="5.6" font-weight="bold" font-family='"Liberation Serif", serif' fill="#000" text-anchor="start" stroke="#000" stroke-width="0.18" >Rhein 1 μM</text>
<rect x="79.95" y="504.75" width="1.9" height="1.9"/>
<text x="89.80" y="507.55" font-size="5.6" font-weight="bold" font-family='"Liberation Serif", serif' fill="#000" text-anchor="start" stroke="#000" stroke-width="0.18" >Rhein 10 μM</text>
<text transform="translate(17.60 501.00) scale(1.041 1)" x="-1.50" y="0" font-size="22.38" font-weight="bold" font-family='"Liberation Sans", sans-serif' fill="#146414">M</text>
<line x1="199.50" y1="505.19" x2="199.50" y2="584.10" stroke="#000" stroke-width="1.2"/>
<line x1="195.90" y1="583.50" x2="199.50" y2="583.50" stroke="#000" stroke-width="1.2"/>
<text x="194.50" y="585.47" font-size="5.8" font-weight="bold" font-family='"Liberation Serif", serif' fill="#000" text-anchor="end" stroke="#000" stroke-width="0.18" >0</text>
<line x1="195.90" y1="557.53" x2="199.50" y2="557.53" stroke="#000" stroke-width="1.2"/>
<text x="194.50" y="559.50" font-size="5.8" font-weight="bold" font-family='"Liberation Serif", serif' fill="#000" text-anchor="end" stroke="#000" stroke-width="0.18" >1</text>
<line x1="195.90" y1="531.56" x2="199.50" y2="531.56" stroke="#000" stroke-width="1.2"/>
<text x="194.50" y="533.53" font-size="5.8" font-weight="bold" font-family='"Liberation Serif", serif' fill="#000" text-anchor="end" stroke="#000" stroke-width="0.18" >2</text>
<line x1="195.90" y1="505.59" x2="199.50" y2="505.59" stroke="#000" stroke-width="1.2"/>
<text x="194.50" y="507.56" font-size="5.8" font-weight="bold" font-family='"Liberation Serif", serif' fill="#000" text-anchor="end" stroke="#000" stroke-width="0.18" >3</text>
<line x1="199.50" y1="583.50" x2="294.40" y2="583.50" stroke="#000" stroke-width="1.2"/>
<line x1="213.60" y1="583.50" x2="213.60" y2="586.00" stroke="#000" stroke-width="0.96"/>
<line x1="235.70" y1="583.50" x2="235.70" y2="586.00" stroke="#000" stroke-width="0.96"/>
<line x1="257.60" y1="583.50" x2="257.60" y2="586.00" stroke="#000" stroke-width="0.96"/>
<line x1="279.70" y1="583.50" x2="279.70" y2="586.00" stroke="#000" stroke-width="0.96"/>
<rect x="206.40" y="557.27" width="14.40" height="26.23" fill="#ffffff" stroke="#000" stroke-width="1.2"/>
<line x1="213.60" y1="557.27" x2="213.60" y2="555.97" stroke="#000" stroke-width="0.96"/>
<line x1="211.10" y1="555.97" x2="216.10" y2="555.97" stroke="#000" stroke-width="1.02"/>
<circle cx="213.19" cy="557.90" r="1.3" fill="#000"/>
<circle cx="215.93" cy="556.31" r="1.3" fill="#000"/>
<circle cx="209.80" cy="553.66" r="1.3" fill="#000"/>
<circle cx="213.06" cy="561.15" r="1.3" fill="#000"/>
<circle cx="209.58" cy="554.56" r="1.3" fill="#000"/>
<circle cx="215.39" cy="559.60" r="1.3" fill="#000"/>
<rect x="228.50" y="555.71" width="14.40" height="27.79" fill="#808080" stroke="#000" stroke-width="1.2"/>
<line x1="235.70" y1="555.71" x2="235.70" y2="553.12" stroke="#000" stroke-width="0.96"/>
<line x1="233.20" y1="553.12" x2="238.20" y2="553.12" stroke="#000" stroke-width="1.02"/>
<circle cx="236.91" cy="557.75" r="1.3" fill="#000"/>
<circle cx="238.77" cy="554.87" r="1.3" fill="#000"/>
<circle cx="239.48" cy="547.51" r="1.3" fill="#000"/>
<circle cx="235.92" cy="563.65" r="1.3" fill="#000"/>
<circle cx="239.24" cy="550.29" r="1.3" fill="#000"/>
<circle cx="234.46" cy="560.19" r="1.3" fill="#000"/>
<rect x="250.40" y="538.83" width="14.30" height="44.67" fill="#a6a6a8" stroke="#000" stroke-width="1.2"/>
<line x1="257.55" y1="538.83" x2="257.55" y2="535.46" stroke="#000" stroke-width="0.96"/>
<line x1="255.05" y1="535.46" x2="260.05" y2="535.46" stroke="#000" stroke-width="1.02"/>
<circle cx="260.88" cy="540.63" r="1.3" fill="#000"/>
<circle cx="254.35" cy="548.72" r="1.3" fill="#000"/>
<circle cx="259.34" cy="532.07" r="1.3" fill="#000"/>
<circle cx="259.50" cy="537.11" r="1.3" fill="#000"/>
<circle cx="261.34" cy="543.92" r="1.3" fill="#000"/>
<circle cx="261.29" cy="528.57" r="1.3" fill="#000"/>
<rect x="272.50" y="533.90" width="14.30" height="49.60" fill="#d7d7d7" stroke="#000" stroke-width="1.2"/>
<line x1="279.65" y1="533.90" x2="279.65" y2="530.00" stroke="#000" stroke-width="0.96"/>
<line x1="277.15" y1="530.00" x2="282.15" y2="530.00" stroke="#000" stroke-width="1.02"/>
<circle cx="279.69" cy="545.50" r="1.3" fill="#000"/>
<circle cx="275.92" cy="531.18" r="1.3" fill="#000"/>
<circle cx="282.03" cy="522.70" r="1.3" fill="#000"/>
<circle cx="277.03" cy="535.98" r="1.3" fill="#000"/>
<circle cx="281.28" cy="540.63" r="1.3" fill="#000"/>
<circle cx="278.65" cy="525.98" r="1.3" fill="#000"/>
<line x1="252.20" y1="519.50" x2="263.00" y2="519.50" stroke="#000" stroke-width="1.02"/>
<path d="M255.40 512.15L255.40 514.85M256.57 512.83L254.23 514.17M256.57 514.17L254.23 512.83" stroke="#000" stroke-width="1.01" stroke-linecap="round"/>
<path d="M259.40 512.15L259.40 514.85M260.57 512.83L258.23 514.17M260.57 514.17L258.23 512.83" stroke="#000" stroke-width="1.01" stroke-linecap="round"/>
<line x1="271.80" y1="515.80" x2="290.10" y2="515.80" stroke="#000" stroke-width="1.02"/>
<path d="M274.60 508.95L274.60 511.65M275.77 509.62L273.43 510.98M275.77 510.98L273.43 509.62" stroke="#000" stroke-width="1.01" stroke-linecap="round"/>
<path d="M278.60 508.95L278.60 511.65M279.77 509.62L277.43 510.98M279.77 510.98L277.43 509.62" stroke="#000" stroke-width="1.01" stroke-linecap="round"/>
<path d="M282.60 508.95L282.60 511.65M283.77 509.62L281.43 510.98M283.77 510.98L281.43 509.62" stroke="#000" stroke-width="1.01" stroke-linecap="round"/>
<path d="M286.60 508.95L286.60 511.65M287.77 509.62L285.43 510.98M287.77 510.98L285.43 509.62" stroke="#000" stroke-width="1.01" stroke-linecap="round"/>
<text x="178.75" y="545.00" font-size="7.0" font-weight="bold" font-family='"Liberation Serif", serif' fill="#000" text-anchor="middle" stroke="#000" stroke-width="0.18" textLength="60.60" lengthAdjust="spacingAndGlyphs" transform="rotate(-90 178.75 545.00)" >AOX1 mRNA abundance</text>
<text x="186.95" y="545.00" font-size="7.0" font-weight="bold" font-family='"Liberation Serif", serif' fill="#000" text-anchor="middle" stroke="#000" stroke-width="0.18" textLength="54.40" lengthAdjust="spacingAndGlyphs" transform="rotate(-90 186.95 545.00)" >(Normalized to β-actin)</text>
<text x="213.20" y="592.94" font-size="6.6" font-weight="bold" font-family='"Liberation Serif", serif' fill="#000" text-anchor="middle" stroke="#000" stroke-width="0.18" >Control</text>
<text x="235.30" y="592.94" font-size="6.6" font-weight="bold" font-family='"Liberation Serif", serif' fill="#000" text-anchor="middle" stroke="#000" stroke-width="0.18" >1</text>
<text x="257.20" y="592.94" font-size="6.6" font-weight="bold" font-family='"Liberation Serif", serif' fill="#000" text-anchor="middle" stroke="#000" stroke-width="0.18" >10</text>
<text x="279.30" y="592.94" font-size="6.6" font-weight="bold" font-family='"Liberation Serif", serif' fill="#000" text-anchor="middle" stroke="#000" stroke-width="0.18" >100</text>
<line x1="228.30" y1="594.40" x2="285.60" y2="594.40" stroke="#000" stroke-width="1.08"/>
<text x="256.95" y="600.90" font-size="4.4" font-weight="bold" font-family='"Liberation Serif", serif' fill="#000" text-anchor="middle" stroke="#000" stroke-width="0.18" textLength="59.50" lengthAdjust="spacingAndGlyphs" >Rhein (mg g<tspan font-size="3.2" dy="-1.6">-1</tspan><tspan dy="1.6"> body weight)</tspan></text>
<text transform="translate(190.10 497.20) scale(1.070 1)" x="-1.47" y="0" font-size="21.95" font-weight="bold" font-family='"Liberation Sans", sans-serif' fill="#b8000f">N</text>
<line x1="383.50" y1="511.00" x2="383.50" y2="589.10" stroke="#000" stroke-width="1.2"/>
<line x1="379.90" y1="588.50" x2="383.50" y2="588.50" stroke="#000" stroke-width="1.2"/>
<text x="378.50" y="590.47" font-size="5.8" font-weight="bold" font-family='"Liberation Serif", serif' fill="#000" text-anchor="end" stroke="#000" stroke-width="0.18" >0.0</text>
<line x1="379.90" y1="569.23" x2="383.50" y2="569.23" stroke="#000" stroke-width="1.2"/>
<text x="378.50" y="571.20" font-size="5.8" font-weight="bold" font-family='"Liberation Serif", serif' fill="#000" text-anchor="end" stroke="#000" stroke-width="0.18" >0.5</text>
<line x1="379.90" y1="549.95" x2="383.50" y2="549.95" stroke="#000" stroke-width="1.2"/>
<text x="378.50" y="551.92" font-size="5.8" font-weight="bold" font-family='"Liberation Serif", serif' fill="#000" text-anchor="end" stroke="#000" stroke-width="0.18" >1.0</text>
<line x1="379.90" y1="530.67" x2="383.50" y2="530.67" stroke="#000" stroke-width="1.2"/>
<text x="378.50" y="532.65" font-size="5.8" font-weight="bold" font-family='"Liberation Serif", serif' fill="#000" text-anchor="end" stroke="#000" stroke-width="0.18" >1.5</text>
<line x1="379.90" y1="511.40" x2="383.50" y2="511.40" stroke="#000" stroke-width="1.2"/>
<text x="378.50" y="513.37" font-size="5.8" font-weight="bold" font-family='"Liberation Serif", serif' fill="#000" text-anchor="end" stroke="#000" stroke-width="0.18" >2.0</text>
<line x1="383.50" y1="588.50" x2="492.00" y2="588.50" stroke="#000" stroke-width="1.2"/>
<line x1="407.80" y1="588.50" x2="407.80" y2="591.00" stroke="#000" stroke-width="0.96"/>
<line x1="464.40" y1="588.50" x2="464.40" y2="591.00" stroke="#000" stroke-width="0.96"/>
<rect x="388.00" y="550.34" width="8.80" height="38.16" fill="#ffffff" stroke="#000" stroke-width="1.2"/>
<line x1="392.40" y1="550.34" x2="392.40" y2="548.02" stroke="#000" stroke-width="0.96"/>
<line x1="389.20" y1="548.02" x2="395.60" y2="548.02" stroke="#000" stroke-width="1.02"/>
<circle cx="392.15" cy="550.77" r="1.3" fill="#000"/>
<circle cx="393.82" cy="549.67" r="1.3" fill="#000"/>
<circle cx="390.08" cy="547.82" r="1.3" fill="#000"/>
<circle cx="392.07" cy="553.03" r="1.3" fill="#000"/>
<circle cx="389.95" cy="548.45" r="1.3" fill="#000"/>
<circle cx="393.49" cy="551.96" r="1.3" fill="#000"/>
<rect x="399.30" y="545.71" width="9.30" height="42.79" fill="#a6a6a8" stroke="#000" stroke-width="1.2"/>
<line x1="403.95" y1="545.71" x2="403.95" y2="544.17" stroke="#000" stroke-width="0.96"/>
<line x1="400.75" y1="544.17" x2="407.15" y2="544.17" stroke="#000" stroke-width="1.02"/>
<circle cx="404.73" cy="546.37" r="1.3" fill="#000"/>
<circle cx="405.94" cy="545.43" r="1.3" fill="#000"/>
<circle cx="406.39" cy="543.05" r="1.3" fill="#000"/>
<circle cx="404.09" cy="548.29" r="1.3" fill="#000"/>
<circle cx="406.24" cy="543.95" r="1.3" fill="#000"/>
<circle cx="403.15" cy="547.17" r="1.3" fill="#000"/>
<rect x="411.10" y="544.55" width="8.80" height="43.95" fill="#808080" stroke="#000" stroke-width="1.2"/>
<line x1="415.50" y1="544.55" x2="415.50" y2="540.70" stroke="#000" stroke-width="0.96"/>
<line x1="412.30" y1="540.70" x2="418.70" y2="540.70" stroke="#000" stroke-width="1.02"/>
<circle cx="417.55" cy="545.36" r="1.3" fill="#000"/>
<circle cx="413.53" cy="548.96" r="1.3" fill="#000"/>
<circle cx="416.60" cy="541.54" r="1.3" fill="#000"/>
<circle cx="416.70" cy="543.79" r="1.3" fill="#000"/>
<circle cx="417.83" cy="546.82" r="1.3" fill="#000"/>
<circle cx="417.80" cy="539.97" r="1.3" fill="#000"/>
<rect x="422.40" y="531.83" width="9.30" height="56.67" fill="#d7d7d7" stroke="#000" stroke-width="1.2"/>
<line x1="427.05" y1="531.83" x2="427.05" y2="529.52" stroke="#000" stroke-width="0.96"/>
<line x1="423.85" y1="529.52" x2="430.25" y2="529.52" stroke="#000" stroke-width="1.02"/>
<circle cx="427.08" cy="534.52" r="1.3" fill="#000"/>
<circle cx="424.63" cy="531.20" r="1.3" fill="#000"/>
<circle cx="428.60" cy="529.23" r="1.3" fill="#000"/>
<circle cx="425.35" cy="532.31" r="1.3" fill="#000"/>
<circle cx="428.11" cy="533.39" r="1.3" fill="#000"/>
<circle cx="426.40" cy="530.00" r="1.3" fill="#000"/>
<rect x="443.30" y="550.34" width="8.70" height="38.16" fill="#ffffff" stroke="#000" stroke-width="1.2"/>
<line x1="447.65" y1="550.34" x2="447.65" y2="548.02" stroke="#000" stroke-width="0.96"/>
<line x1="444.45" y1="548.02" x2="450.85" y2="548.02" stroke="#000" stroke-width="1.02"/>
<circle cx="448.78" cy="550.84" r="1.3" fill="#000"/>
<circle cx="446.72" cy="551.94" r="1.3" fill="#000"/>
<circle cx="448.21" cy="547.39" r="1.3" fill="#000"/>
<circle cx="448.37" cy="553.18" r="1.3" fill="#000"/>
<circle cx="446.32" cy="548.79" r="1.3" fill="#000"/>
<circle cx="446.19" cy="550.04" r="1.3" fill="#000"/>
<rect x="454.60" y="545.71" width="9.30" height="42.79" fill="#a6a6a8" stroke="#000" stroke-width="1.2"/>
<line x1="459.25" y1="545.71" x2="459.25" y2="538.00" stroke="#000" stroke-width="0.96"/>
<line x1="456.05" y1="538.00" x2="462.45" y2="538.00" stroke="#000" stroke-width="1.02"/>
<circle cx="459.66" cy="554.47" r="1.3" fill="#000"/>
<circle cx="458.05" cy="536.63" r="1.3" fill="#000"/>
<circle cx="461.63" cy="547.06" r="1.3" fill="#000"/>
<circle cx="460.73" cy="544.73" r="1.3" fill="#000"/>
<circle cx="461.26" cy="550.39" r="1.3" fill="#000"/>
<circle cx="460.86" cy="539.46" r="1.3" fill="#000"/>
<rect x="466.40" y="533.76" width="8.80" height="54.74" fill="#808080" stroke="#000" stroke-width="1.2"/>
<line x1="470.80" y1="533.76" x2="470.80" y2="527.59" stroke="#000" stroke-width="0.96"/>
<line x1="467.60" y1="527.59" x2="474.00" y2="527.59" stroke="#000" stroke-width="1.02"/>
<circle cx="470.13" cy="534.94" r="1.3" fill="#000"/>
<circle cx="472.97" cy="541.39" r="1.3" fill="#000"/>
<circle cx="472.34" cy="532.35" r="1.3" fill="#000"/>
<circle cx="468.34" cy="538.13" r="1.3" fill="#000"/>
<circle cx="472.21" cy="526.37" r="1.3" fill="#000"/>
<circle cx="471.29" cy="529.39" r="1.3" fill="#000"/>
<rect x="477.70" y="531.45" width="9.30" height="57.05" fill="#d7d7d7" stroke="#000" stroke-width="1.2"/>
<line x1="482.35" y1="531.45" x2="482.35" y2="524.51" stroke="#000" stroke-width="0.96"/>
<line x1="479.15" y1="524.51" x2="485.55" y2="524.51" stroke="#000" stroke-width="1.02"/>
<circle cx="484.66" cy="533.56" r="1.3" fill="#000"/>
<circle cx="484.27" cy="530.46" r="1.3" fill="#000"/>
<circle cx="483.67" cy="540.20" r="1.3" fill="#000"/>
<circle cx="481.15" cy="526.62" r="1.3" fill="#000"/>
<circle cx="480.71" cy="522.69" r="1.3" fill="#000"/>
<circle cx="480.62" cy="536.58" r="1.3" fill="#000"/>
<line x1="424.40" y1="522.80" x2="429.40" y2="522.80" stroke="#000" stroke-width="1.02"/>
<path d="M426.70 516.45L426.70 519.15M427.87 517.12L425.53 518.47M427.87 518.47L425.53 517.12" stroke="#000" stroke-width="1.01" stroke-linecap="round"/>
<line x1="467.60" y1="519.80" x2="473.90" y2="519.80" stroke="#000" stroke-width="1.02"/>
<path d="M470.90 513.45L470.90 516.15M472.07 514.12L469.73 515.47M472.07 515.47L469.73 514.12" stroke="#000" stroke-width="1.01" stroke-linecap="round"/>
<line x1="479.70" y1="517.30" x2="486.00" y2="517.30" stroke="#000" stroke-width="1.02"/>
<path d="M482.20 510.95L482.20 513.65M483.37 511.62L481.03 512.97M483.37 512.97L481.03 511.62" stroke="#000" stroke-width="1.01" stroke-linecap="round"/>
<text x="364.62" y="549.80" font-size="5.2" font-weight="bold" font-family='"Liberation Serif", serif' fill="#000" text-anchor="middle" stroke="#000" stroke-width="0.18" textLength="58.60" lengthAdjust="spacingAndGlyphs" transform="rotate(-90 364.62 549.80)" >ATGL mRNA abundance</text>
<text x="370.32" y="549.80" font-size="5.2" font-weight="bold" font-family='"Liberation Serif", serif' fill="#000" text-anchor="middle" stroke="#000" stroke-width="0.18" textLength="54.40" lengthAdjust="spacingAndGlyphs" transform="rotate(-90 370.32 549.80)" >(Normalized to β-actin)</text>
<text x="407.80" y="596.04" font-size="5.4" font-weight="bold" font-family='"Liberation Serif", serif' fill="#000" text-anchor="middle" stroke="#000" stroke-width="0.18" >2 h</text>
<text x="464.40" y="596.04" font-size="5.4" font-weight="bold" font-family='"Liberation Serif", serif' fill="#000" text-anchor="middle" stroke="#000" stroke-width="0.18" >24 h</text>
<circle cx="439.20" cy="488.90" r="1.15" fill="#000"/>
<text x="447.00" y="490.75" font-size="5.6" font-weight="bold" font-family='"Liberation Serif", serif' fill="#000" text-anchor="start" stroke="#000" stroke-width="0.18" >Control</text>
<circle cx="439.20" cy="495.20" r="1.4" fill="#000"/>
<text x="447.60" y="497.05" font-size="5.6" font-weight="bold" font-family='"Liberation Serif", serif' fill="#000" text-anchor="start" stroke="#000" stroke-width="0.18" >Rhein 0.1 μM</text>
<path d="M437.80 502.00L440.60 502.00L439.20 499.70Z"/>
<text x="447.60" y="502.85" font-size="5.6" font-weight="bold" font-family='"Liberation Serif", serif' fill="#000" text-anchor="start" stroke="#000" stroke-width="0.18" >Rhein 1 μM</text>
<rect x="438.25" y="506.25" width="1.9" height="1.9"/>
<text x="447.60" y="509.05" font-size="5.6" font-weight="bold" font-family='"Liberation Serif", serif' fill="#000" text-anchor="start" stroke="#000" stroke-width="0.18" >Rhein 10 μM</text>
<text transform="translate(370.10 497.00) scale(1.019 1)" x="-0.85" y="0" font-size="20.62" font-weight="bold" font-family='"Liberation Sans", sans-serif' fill="#146414">O</text>
<line x1="562.50" y1="510.20" x2="562.50" y2="590.10" stroke="#000" stroke-width="1.2"/>
<line x1="558.90" y1="589.50" x2="562.50" y2="589.50" stroke="#000" stroke-width="1.2"/>
<text x="557.50" y="591.47" font-size="5.8" font-weight="bold" font-family='"Liberation Serif", serif' fill="#000" text-anchor="end" stroke="#000" stroke-width="0.18" >0</text>
<line x1="558.90" y1="563.10" x2="562.50" y2="563.10" stroke="#000" stroke-width="1.2"/>
<text x="557.50" y="565.07" font-size="5.8" font-weight="bold" font-family='"Liberation Serif", serif' fill="#000" text-anchor="end" stroke="#000" stroke-width="0.18" >1</text>
<line x1="558.90" y1="536.70" x2="562.50" y2="536.70" stroke="#000" stroke-width="1.2"/>
<text x="557.50" y="538.67" font-size="5.8" font-weight="bold" font-family='"Liberation Serif", serif' fill="#000" text-anchor="end" stroke="#000" stroke-width="0.18" >2</text>
<line x1="558.90" y1="510.30" x2="562.50" y2="510.30" stroke="#000" stroke-width="1.2"/>
<text x="557.50" y="512.27" font-size="5.8" font-weight="bold" font-family='"Liberation Serif", serif' fill="#000" text-anchor="end" stroke="#000" stroke-width="0.18" >3</text>
<line x1="562.50" y1="589.50" x2="656.70" y2="589.50" stroke="#000" stroke-width="1.2"/>
<line x1="577.40" y1="589.50" x2="577.40" y2="592.00" stroke="#000" stroke-width="0.96"/>
<line x1="598.80" y1="589.50" x2="598.80" y2="592.00" stroke="#000" stroke-width="0.96"/>
<line x1="620.80" y1="589.50" x2="620.80" y2="592.00" stroke="#000" stroke-width="0.96"/>
<line x1="642.40" y1="589.50" x2="642.40" y2="592.00" stroke="#000" stroke-width="0.96"/>
<rect x="570.30" y="563.10" width="14.30" height="26.40" fill="#ffffff" stroke="#000" stroke-width="1.2"/>
<line x1="577.45" y1="563.10" x2="577.45" y2="561.25" stroke="#000" stroke-width="0.96"/>
<line x1="574.95" y1="561.25" x2="579.95" y2="561.25" stroke="#000" stroke-width="1.02"/>
<circle cx="577.05" cy="563.99" r="1.3" fill="#000"/>
<circle cx="579.76" cy="561.74" r="1.3" fill="#000"/>
<circle cx="573.67" cy="557.96" r="1.3" fill="#000"/>
<circle cx="576.91" cy="568.62" r="1.3" fill="#000"/>
<circle cx="573.46" cy="559.24" r="1.3" fill="#000"/>
<circle cx="579.22" cy="566.42" r="1.3" fill="#000"/>
<rect x="591.60" y="560.46" width="14.40" height="29.04" fill="#808080" stroke="#000" stroke-width="1.2"/>
<line x1="598.80" y1="560.46" x2="598.80" y2="557.82" stroke="#000" stroke-width="0.96"/>
<line x1="596.30" y1="557.82" x2="601.30" y2="557.82" stroke="#000" stroke-width="1.02"/>
<circle cx="600.01" cy="562.53" r="1.3" fill="#000"/>
<circle cx="601.87" cy="559.60" r="1.3" fill="#000"/>
<circle cx="602.58" cy="552.12" r="1.3" fill="#000"/>
<circle cx="599.02" cy="568.53" r="1.3" fill="#000"/>
<circle cx="602.34" cy="554.95" r="1.3" fill="#000"/>
<circle cx="597.56" cy="565.02" r="1.3" fill="#000"/>
<rect x="613.50" y="549.11" width="14.60" height="40.39" fill="#a6a6a8" stroke="#000" stroke-width="1.2"/>
<line x1="620.80" y1="549.11" x2="620.80" y2="545.94" stroke="#000" stroke-width="0.96"/>
<line x1="618.30" y1="545.94" x2="623.30" y2="545.94" stroke="#000" stroke-width="1.02"/>
<circle cx="624.20" cy="550.80" r="1.3" fill="#000"/>
<circle cx="617.53" cy="558.39" r="1.3" fill="#000"/>
<circle cx="622.63" cy="542.76" r="1.3" fill="#000"/>
<circle cx="622.79" cy="547.49" r="1.3" fill="#000"/>
<circle cx="624.67" cy="553.88" r="1.3" fill="#000"/>
<circle cx="624.62" cy="539.48" r="1.3" fill="#000"/>
<rect x="635.40" y="535.64" width="14.00" height="53.86" fill="#d7d7d7" stroke="#000" stroke-width="1.2"/>
<line x1="642.40" y1="535.64" x2="642.40" y2="531.68" stroke="#000" stroke-width="0.96"/>
<line x1="639.90" y1="531.68" x2="644.90" y2="531.68" stroke="#000" stroke-width="1.02"/>
<circle cx="642.44" cy="547.44" r="1.3" fill="#000"/>
<circle cx="638.75" cy="532.88" r="1.3" fill="#000"/>
<circle cx="644.73" cy="524.26" r="1.3" fill="#000"/>
<circle cx="639.84" cy="537.76" r="1.3" fill="#000"/>
<circle cx="643.99" cy="542.49" r="1.3" fill="#000"/>
<circle cx="641.42" cy="527.60" r="1.3" fill="#000"/>
<line x1="615.50" y1="536.60" x2="626.60" y2="536.60" stroke="#000" stroke-width="1.02"/>
<path d="M619.00 529.55L619.00 532.25M620.17 530.23L617.83 531.57M620.17 531.57L617.83 530.23" stroke="#000" stroke-width="1.01" stroke-linecap="round"/>
<path d="M623.00 529.55L623.00 532.25M624.17 530.23L621.83 531.57M624.17 531.57L621.83 530.23" stroke="#000" stroke-width="1.01" stroke-linecap="round"/>
<line x1="634.90" y1="519.50" x2="651.70" y2="519.50" stroke="#000" stroke-width="1.02"/>
<path d="M636.90 512.65L636.90 515.35M638.07 513.33L635.73 514.67M638.07 514.67L635.73 513.33" stroke="#000" stroke-width="1.01" stroke-linecap="round"/>
<path d="M640.90 512.65L640.90 515.35M642.07 513.33L639.73 514.67M642.07 514.67L639.73 513.33" stroke="#000" stroke-width="1.01" stroke-linecap="round"/>
<path d="M644.90 512.65L644.90 515.35M646.07 513.33L643.73 514.67M646.07 514.67L643.73 513.33" stroke="#000" stroke-width="1.01" stroke-linecap="round"/>
<path d="M648.90 512.65L648.90 515.35M650.07 513.33L647.73 514.67M650.07 514.67L647.73 513.33" stroke="#000" stroke-width="1.01" stroke-linecap="round"/>
<text x="542.23" y="550.00" font-size="6.9300000000000415" font-weight="bold" font-family='"Liberation Serif", serif' fill="#000" text-anchor="middle" stroke="#000" stroke-width="0.18" textLength="59.10" lengthAdjust="spacingAndGlyphs" transform="rotate(-90 542.23 550.00)" >ATGL mRNA abundance</text>
<text x="549.93" y="550.00" font-size="6.9300000000000415" font-weight="bold" font-family='"Liberation Serif", serif' fill="#000" text-anchor="middle" stroke="#000" stroke-width="0.18" textLength="53.90" lengthAdjust="spacingAndGlyphs" transform="rotate(-90 549.93 550.00)" >(Normalized to β-actin)</text>
<text x="576.50" y="597.94" font-size="6.6" font-weight="bold" font-family='"Liberation Serif", serif' fill="#000" text-anchor="middle" stroke="#000" stroke-width="0.18" >Control</text>
<text x="598.40" y="597.94" font-size="6.6" font-weight="bold" font-family='"Liberation Serif", serif' fill="#000" text-anchor="middle" stroke="#000" stroke-width="0.18" >1</text>
<text x="620.50" y="597.94" font-size="6.6" font-weight="bold" font-family='"Liberation Serif", serif' fill="#000" text-anchor="middle" stroke="#000" stroke-width="0.18" >10</text>
<text x="641.90" y="597.94" font-size="6.6" font-weight="bold" font-family='"Liberation Serif", serif' fill="#000" text-anchor="middle" stroke="#000" stroke-width="0.18" >100</text>
<line x1="593.40" y1="600.20" x2="649.40" y2="600.20" stroke="#000" stroke-width="1.08"/>
<text x="621.40" y="606.70" font-size="4.4" font-weight="bold" font-family='"Liberation Serif", serif' fill="#000" text-anchor="middle" stroke="#000" stroke-width="0.18" textLength="59.50" lengthAdjust="spacingAndGlyphs" >Rhein (mg g<tspan font-size="3.2" dy="-1.6">-1</tspan><tspan dy="1.6"> body weight)</tspan></text>
<text transform="translate(555.00 497.70) scale(0.966 1)" x="-1.47" y="0" font-size="21.95" font-weight="bold" font-family='"Liberation Sans", sans-serif' fill="#b8000f">P</text>
<line x1="31.50" y1="656.50" x2="31.50" y2="724.10" stroke="#000" stroke-width="1.2"/>
<line x1="27.90" y1="723.50" x2="31.50" y2="723.50" stroke="#000" stroke-width="1.2"/>
<text x="26.50" y="725.47" font-size="5.8" font-weight="bold" font-family='"Liberation Serif", serif' fill="#000" text-anchor="end" stroke="#000" stroke-width="0.18" >0.0</text>
<line x1="27.90" y1="710.18" x2="31.50" y2="710.18" stroke="#000" stroke-width="1.2"/>
<text x="26.50" y="712.15" font-size="5.8" font-weight="bold" font-family='"Liberation Serif", serif' fill="#000" text-anchor="end" stroke="#000" stroke-width="0.18" >0.5</text>
<line x1="27.90" y1="696.86" x2="31.50" y2="696.86" stroke="#000" stroke-width="1.2"/>
<text x="26.50" y="698.83" font-size="5.8" font-weight="bold" font-family='"Liberation Serif", serif' fill="#000" text-anchor="end" stroke="#000" stroke-width="0.18" >1.0</text>
<line x1="27.90" y1="683.54" x2="31.50" y2="683.54" stroke="#000" stroke-width="1.2"/>
<text x="26.50" y="685.51" font-size="5.8" font-weight="bold" font-family='"Liberation Serif", serif' fill="#000" text-anchor="end" stroke="#000" stroke-width="0.18" >1.5</text>
<line x1="27.90" y1="670.22" x2="31.50" y2="670.22" stroke="#000" stroke-width="1.2"/>
<text x="26.50" y="672.19" font-size="5.8" font-weight="bold" font-family='"Liberation Serif", serif' fill="#000" text-anchor="end" stroke="#000" stroke-width="0.18" >2.0</text>
<line x1="27.90" y1="656.90" x2="31.50" y2="656.90" stroke="#000" stroke-width="1.2"/>
<text x="26.50" y="658.87" font-size="5.8" font-weight="bold" font-family='"Liberation Serif", serif' fill="#000" text-anchor="end" stroke="#000" stroke-width="0.18" >2.5</text>
<line x1="31.50" y1="723.50" x2="140.20" y2="723.50" stroke="#000" stroke-width="1.2"/>
<line x1="56.50" y1="723.50" x2="56.50" y2="726.00" stroke="#000" stroke-width="0.96"/>
<line x1="111.80" y1="723.50" x2="111.80" y2="726.00" stroke="#000" stroke-width="0.96"/>
<rect x="36.40" y="696.86" width="8.80" height="26.64" fill="#ffffff" stroke="#000" stroke-width="1.2"/>
<line x1="40.80" y1="696.86" x2="40.80" y2="694.20" stroke="#000" stroke-width="0.96"/>
<line x1="38.30" y1="694.20" x2="43.30" y2="694.20" stroke="#000" stroke-width="1.02"/>
<circle cx="40.55" cy="698.15" r="1.3" fill="#000"/>
<circle cx="42.22" cy="694.90" r="1.3" fill="#000"/>
<circle cx="38.48" cy="689.45" r="1.3" fill="#000"/>
<circle cx="40.47" cy="704.81" r="1.3" fill="#000"/>
<circle cx="38.35" cy="691.30" r="1.3" fill="#000"/>
<circle cx="41.89" cy="701.64" r="1.3" fill="#000"/>
<rect x="47.70" y="694.73" width="9.30" height="28.77" fill="#808080" stroke="#000" stroke-width="1.2"/>
<line x1="52.35" y1="694.73" x2="52.35" y2="693.40" stroke="#000" stroke-width="0.96"/>
<line x1="49.85" y1="693.40" x2="54.85" y2="693.40" stroke="#000" stroke-width="1.02"/>
<circle cx="53.13" cy="695.78" r="1.3" fill="#000"/>
<circle cx="54.34" cy="694.29" r="1.3" fill="#000"/>
<circle cx="54.79" cy="690.52" r="1.3" fill="#000"/>
<circle cx="52.49" cy="698.80" r="1.3" fill="#000"/>
<circle cx="54.64" cy="691.95" r="1.3" fill="#000"/>
<circle cx="51.55" cy="697.03" r="1.3" fill="#000"/>
<rect x="59.50" y="684.34" width="8.80" height="39.16" fill="#a6a6a8" stroke="#000" stroke-width="1.2"/>
<line x1="63.90" y1="684.34" x2="63.90" y2="681.14" stroke="#000" stroke-width="0.96"/>
<line x1="61.40" y1="681.14" x2="66.40" y2="681.14" stroke="#000" stroke-width="1.02"/>
<circle cx="65.95" cy="686.05" r="1.3" fill="#000"/>
<circle cx="61.93" cy="693.71" r="1.3" fill="#000"/>
<circle cx="65.00" cy="677.94" r="1.3" fill="#000"/>
<circle cx="65.10" cy="682.71" r="1.3" fill="#000"/>
<circle cx="66.23" cy="689.16" r="1.3" fill="#000"/>
<circle cx="66.20" cy="674.62" r="1.3" fill="#000"/>
<rect x="70.90" y="676.88" width="9.00" height="46.62" fill="#d7d7d7" stroke="#000" stroke-width="1.2"/>
<line x1="75.40" y1="676.88" x2="75.40" y2="673.42" stroke="#000" stroke-width="0.96"/>
<line x1="72.90" y1="673.42" x2="77.90" y2="673.42" stroke="#000" stroke-width="1.02"/>
<circle cx="75.43" cy="687.19" r="1.3" fill="#000"/>
<circle cx="73.05" cy="674.47" r="1.3" fill="#000"/>
<circle cx="76.90" cy="666.92" r="1.3" fill="#000"/>
<circle cx="73.75" cy="678.73" r="1.3" fill="#000"/>
<circle cx="76.42" cy="682.87" r="1.3" fill="#000"/>
<circle cx="74.77" cy="669.84" r="1.3" fill="#000"/>
<rect x="91.70" y="696.86" width="8.80" height="26.64" fill="#ffffff" stroke="#000" stroke-width="1.2"/>
<line x1="96.10" y1="696.86" x2="96.10" y2="693.66" stroke="#000" stroke-width="0.96"/>
<line x1="93.60" y1="693.66" x2="98.60" y2="693.66" stroke="#000" stroke-width="1.02"/>
<circle cx="97.25" cy="698.66" r="1.3" fill="#000"/>
<circle cx="95.16" cy="702.55" r="1.3" fill="#000"/>
<circle cx="96.67" cy="686.43" r="1.3" fill="#000"/>
<circle cx="96.83" cy="706.93" r="1.3" fill="#000"/>
<circle cx="94.75" cy="691.40" r="1.3" fill="#000"/>
<circle cx="94.62" cy="695.81" r="1.3" fill="#000"/>
<rect x="103.50" y="682.74" width="8.80" height="40.76" fill="#808080" stroke="#000" stroke-width="1.2"/>
<line x1="107.90" y1="682.74" x2="107.90" y2="682.21" stroke="#000" stroke-width="0.96"/>
<line x1="105.40" y1="682.21" x2="110.40" y2="682.21" stroke="#000" stroke-width="1.02"/>
<circle cx="108.28" cy="684.86" r="1.3" fill="#000"/>
<circle cx="106.76" cy="680.55" r="1.3" fill="#000"/>
<circle cx="110.15" cy="683.07" r="1.3" fill="#000"/>
<circle cx="109.30" cy="682.51" r="1.3" fill="#000"/>
<circle cx="109.80" cy="683.87" r="1.3" fill="#000"/>
<circle cx="109.42" cy="681.23" r="1.3" fill="#000"/>
<rect x="115.10" y="681.94" width="8.80" height="41.56" fill="#a6a6a8" stroke="#000" stroke-width="1.2"/>
<line x1="119.50" y1="681.94" x2="119.50" y2="678.74" stroke="#000" stroke-width="0.96"/>
<line x1="117.00" y1="678.74" x2="122.00" y2="678.74" stroke="#000" stroke-width="1.02"/>
<circle cx="118.83" cy="683.51" r="1.3" fill="#000"/>
<circle cx="121.67" cy="692.06" r="1.3" fill="#000"/>
<circle cx="121.04" cy="680.07" r="1.3" fill="#000"/>
<circle cx="117.04" cy="687.74" r="1.3" fill="#000"/>
<circle cx="120.91" cy="672.14" r="1.3" fill="#000"/>
<circle cx="119.99" cy="676.15" r="1.3" fill="#000"/>
<rect x="126.90" y="668.36" width="8.80" height="55.14" fill="#d7d7d7" stroke="#000" stroke-width="1.2"/>
<line x1="131.30" y1="668.36" x2="131.30" y2="666.22" stroke="#000" stroke-width="0.96"/>
<line x1="128.80" y1="666.22" x2="133.80" y2="666.22" stroke="#000" stroke-width="1.02"/>
<circle cx="133.49" cy="670.02" r="1.3" fill="#000"/>
<circle cx="133.11" cy="667.58" r="1.3" fill="#000"/>
<circle cx="132.55" cy="675.24" r="1.3" fill="#000"/>
<circle cx="130.16" cy="664.56" r="1.3" fill="#000"/>
<circle cx="129.75" cy="661.47" r="1.3" fill="#000"/>
<circle cx="129.66" cy="672.39" r="1.3" fill="#000"/>
<line x1="59.00" y1="669.10" x2="67.30" y2="669.10" stroke="#000" stroke-width="1.02"/>
<path d="M62.80 663.45L62.80 666.15M63.97 664.12L61.63 665.47M63.97 665.47L61.63 664.12" stroke="#000" stroke-width="1.01" stroke-linecap="round"/>
<line x1="72.90" y1="660.30" x2="83.70" y2="660.30" stroke="#000" stroke-width="1.02"/>
<path d="M73.90 654.45L73.90 657.15M75.07 655.12L72.73 656.47M75.07 656.47L72.73 655.12" stroke="#000" stroke-width="1.01" stroke-linecap="round"/>
<path d="M77.90 654.45L77.90 657.15M79.07 655.12L76.73 656.47M79.07 656.47L76.73 655.12" stroke="#000" stroke-width="1.01" stroke-linecap="round"/>
<path d="M81.90 654.45L81.90 657.15M83.07 655.12L80.73 656.47M83.07 656.47L80.73 655.12" stroke="#000" stroke-width="1.01" stroke-linecap="round"/>
<line x1="106.30" y1="661.60" x2="119.80" y2="661.60" stroke="#000" stroke-width="1.02"/>
<path d="M110.60 655.45L110.60 658.15M111.77 656.12L109.43 657.47M111.77 657.47L109.43 656.12" stroke="#000" stroke-width="1.01" stroke-linecap="round"/>
<path d="M114.60 655.45L114.60 658.15M115.77 656.12L113.43 657.47M115.77 657.47L113.43 656.12" stroke="#000" stroke-width="1.01" stroke-linecap="round"/>
<line x1="127.60" y1="659.80" x2="139.40" y2="659.80" stroke="#000" stroke-width="1.02"/>
<path d="M127.20 653.95L127.20 656.65M128.37 654.62L126.03 655.97M128.37 655.97L126.03 654.62" stroke="#000" stroke-width="1.01" stroke-linecap="round"/>
<path d="M131.20 653.95L131.20 656.65M132.37 654.62L130.03 655.97M132.37 655.97L130.03 654.62" stroke="#000" stroke-width="1.01" stroke-linecap="round"/>
<path d="M135.20 653.95L135.20 656.65M136.37 654.62L134.03 655.97M136.37 655.97L134.03 654.62" stroke="#000" stroke-width="1.01" stroke-linecap="round"/>
<path d="M139.20 653.95L139.20 656.65M140.37 654.62L138.03 655.97M140.37 655.97L138.03 654.62" stroke="#000" stroke-width="1.01" stroke-linecap="round"/>
<text x="12.32" y="690.00" font-size="5.2" font-weight="bold" font-family='"Liberation Serif", serif' fill="#000" text-anchor="middle" stroke="#000" stroke-width="0.18" textLength="55.70" lengthAdjust="spacingAndGlyphs" transform="rotate(-90 12.32 690.00)" >ABCA1 mRNA abundance</text>
<text x="17.82" y="690.00" font-size="5.2" font-weight="bold" font-family='"Liberation Serif", serif' fill="#000" text-anchor="middle" stroke="#000" stroke-width="0.18" textLength="46.10" lengthAdjust="spacingAndGlyphs" transform="rotate(-90 17.82 690.00)" >(Normalized to β-actin)</text>
<text x="56.50" y="731.84" font-size="5.4" font-weight="bold" font-family='"Liberation Serif", serif' fill="#000" text-anchor="middle" stroke="#000" stroke-width="0.18" >2 h</text>
<text x="111.80" y="731.84" font-size="5.4" font-weight="bold" font-family='"Liberation Serif", serif' fill="#000" text-anchor="middle" stroke="#000" stroke-width="0.18" >24 h</text>
<circle cx="69.80" cy="631.40" r="1.15" fill="#000"/>
<text x="77.90" y="633.25" font-size="5.6" font-weight="bold" font-family='"Liberation Serif", serif' fill="#000" text-anchor="start" stroke="#000" stroke-width="0.18" >Control</text>
<circle cx="69.80" cy="637.20" r="1.4" fill="#000"/>
<text x="78.50" y="639.05" font-size="5.6" font-weight="bold" font-family='"Liberation Serif", serif' fill="#000" text-anchor="start" stroke="#000" stroke-width="0.18" >Rhein 0.1 μM</text>
<path d="M68.40 644.20L71.20 644.20L69.80 641.90Z"/>
<text x="78.50" y="645.05" font-size="5.6" font-weight="bold" font-family='"Liberation Serif", serif' fill="#000" text-anchor="start" stroke="#000" stroke-width="0.18" >Rhein 1 μM</text>
<rect x="68.85" y="647.55" width="1.9" height="1.9"/>
<text x="78.50" y="650.35" font-size="5.6" font-weight="bold" font-family='"Liberation Serif", serif' fill="#000" text-anchor="start" stroke="#000" stroke-width="0.18" >Rhein 10 μM</text>
<text transform="translate(18.10 637.48) scale(1.032 1)" x="-0.90" y="0" font-size="22.03" font-weight="bold" font-family='"Liberation Sans", sans-serif' fill="#146414">Q</text>
<line x1="203.50" y1="647.00" x2="203.50" y2="721.10" stroke="#000" stroke-width="1.2"/>
<line x1="199.90" y1="720.50" x2="203.50" y2="720.50" stroke="#000" stroke-width="1.2"/>
<text x="198.50" y="722.47" font-size="5.8" font-weight="bold" font-family='"Liberation Serif", serif' fill="#000" text-anchor="end" stroke="#000" stroke-width="0.18" >0.0</text>
<line x1="199.90" y1="705.78" x2="203.50" y2="705.78" stroke="#000" stroke-width="1.2"/>
<text x="198.50" y="707.75" font-size="5.8" font-weight="bold" font-family='"Liberation Serif", serif' fill="#000" text-anchor="end" stroke="#000" stroke-width="0.18" >0.5</text>
<line x1="199.90" y1="691.06" x2="203.50" y2="691.06" stroke="#000" stroke-width="1.2"/>
<text x="198.50" y="693.03" font-size="5.8" font-weight="bold" font-family='"Liberation Serif", serif' fill="#000" text-anchor="end" stroke="#000" stroke-width="0.18" >1.0</text>
<line x1="199.90" y1="676.34" x2="203.50" y2="676.34" stroke="#000" stroke-width="1.2"/>
<text x="198.50" y="678.31" font-size="5.8" font-weight="bold" font-family='"Liberation Serif", serif' fill="#000" text-anchor="end" stroke="#000" stroke-width="0.18" >1.5</text>
<line x1="199.90" y1="661.62" x2="203.50" y2="661.62" stroke="#000" stroke-width="1.2"/>
<text x="198.50" y="663.59" font-size="5.8" font-weight="bold" font-family='"Liberation Serif", serif' fill="#000" text-anchor="end" stroke="#000" stroke-width="0.18" >2.0</text>
<line x1="199.90" y1="646.90" x2="203.50" y2="646.90" stroke="#000" stroke-width="1.2"/>
<text x="198.50" y="648.87" font-size="5.8" font-weight="bold" font-family='"Liberation Serif", serif' fill="#000" text-anchor="end" stroke="#000" stroke-width="0.18" >2.5</text>
<line x1="203.50" y1="720.50" x2="299.40" y2="720.50" stroke="#000" stroke-width="1.2"/>
<line x1="218.60" y1="720.50" x2="218.60" y2="723.00" stroke="#000" stroke-width="0.96"/>
<line x1="240.70" y1="720.50" x2="240.70" y2="723.00" stroke="#000" stroke-width="0.96"/>
<line x1="262.50" y1="720.50" x2="262.50" y2="723.00" stroke="#000" stroke-width="0.96"/>
<line x1="284.70" y1="720.50" x2="284.70" y2="723.00" stroke="#000" stroke-width="0.96"/>
<rect x="211.50" y="691.06" width="14.30" height="29.44" fill="#ffffff" stroke="#000" stroke-width="1.2"/>
<line x1="218.65" y1="691.06" x2="218.65" y2="688.70" stroke="#000" stroke-width="0.96"/>
<line x1="216.15" y1="688.70" x2="221.15" y2="688.70" stroke="#000" stroke-width="1.02"/>
<circle cx="218.25" cy="692.20" r="1.3" fill="#000"/>
<circle cx="220.96" cy="689.32" r="1.3" fill="#000"/>
<circle cx="214.87" cy="684.51" r="1.3" fill="#000"/>
<circle cx="218.11" cy="698.09" r="1.3" fill="#000"/>
<circle cx="214.66" cy="686.14" r="1.3" fill="#000"/>
<circle cx="220.42" cy="695.29" r="1.3" fill="#000"/>
<rect x="233.60" y="676.34" width="14.30" height="44.16" fill="#808080" stroke="#000" stroke-width="1.2"/>
<line x1="240.75" y1="676.34" x2="240.75" y2="673.98" stroke="#000" stroke-width="0.96"/>
<line x1="238.25" y1="673.98" x2="243.25" y2="673.98" stroke="#000" stroke-width="1.02"/>
<circle cx="241.95" cy="678.19" r="1.3" fill="#000"/>
<circle cx="243.80" cy="675.57" r="1.3" fill="#000"/>
<circle cx="244.51" cy="668.90" r="1.3" fill="#000"/>
<circle cx="240.97" cy="683.54" r="1.3" fill="#000"/>
<circle cx="244.27" cy="671.42" r="1.3" fill="#000"/>
<circle cx="239.51" cy="680.41" r="1.3" fill="#000"/>
<rect x="255.40" y="675.16" width="14.30" height="45.34" fill="#a6a6a8" stroke="#000" stroke-width="1.2"/>
<line x1="262.55" y1="675.16" x2="262.55" y2="672.22" stroke="#000" stroke-width="0.96"/>
<line x1="260.05" y1="672.22" x2="265.05" y2="672.22" stroke="#000" stroke-width="1.02"/>
<circle cx="265.88" cy="676.73" r="1.3" fill="#000"/>
<circle cx="259.35" cy="683.79" r="1.3" fill="#000"/>
<circle cx="264.34" cy="669.27" r="1.3" fill="#000"/>
<circle cx="264.50" cy="673.66" r="1.3" fill="#000"/>
<circle cx="266.34" cy="679.60" r="1.3" fill="#000"/>
<circle cx="266.29" cy="666.21" r="1.3" fill="#000"/>
<rect x="277.50" y="659.85" width="14.40" height="60.65" fill="#d7d7d7" stroke="#000" stroke-width="1.2"/>
<line x1="284.70" y1="659.85" x2="284.70" y2="656.32" stroke="#000" stroke-width="0.96"/>
<line x1="282.20" y1="656.32" x2="287.20" y2="656.32" stroke="#000" stroke-width="1.02"/>
<circle cx="284.74" cy="670.38" r="1.3" fill="#000"/>
<circle cx="280.95" cy="657.39" r="1.3" fill="#000"/>
<circle cx="287.10" cy="649.70" r="1.3" fill="#000"/>
<circle cx="282.06" cy="661.74" r="1.3" fill="#000"/>
<circle cx="286.34" cy="665.96" r="1.3" fill="#000"/>
<circle cx="283.69" cy="652.68" r="1.3" fill="#000"/>
<line x1="240.40" y1="662.80" x2="262.50" y2="662.80" stroke="#000" stroke-width="1.02"/>
<path d="M248.90 655.95L248.90 658.65M250.07 656.62L247.73 657.97M250.07 657.97L247.73 656.62" stroke="#000" stroke-width="1.01" stroke-linecap="round"/>
<path d="M252.90 655.95L252.90 658.65M254.07 656.62L251.73 657.97M254.07 657.97L251.73 656.62" stroke="#000" stroke-width="1.01" stroke-linecap="round"/>
<line x1="276.00" y1="648.50" x2="291.90" y2="648.50" stroke="#000" stroke-width="1.02"/>
<path d="M277.80 642.65L277.80 645.35M278.97 643.33L276.63 644.67M278.97 644.67L276.63 643.33" stroke="#000" stroke-width="1.01" stroke-linecap="round"/>
<path d="M281.80 642.65L281.80 645.35M282.97 643.33L280.63 644.67M282.97 644.67L280.63 643.33" stroke="#000" stroke-width="1.01" stroke-linecap="round"/>
<path d="M285.80 642.65L285.80 645.35M286.97 643.33L284.63 644.67M286.97 644.67L284.63 643.33" stroke="#000" stroke-width="1.01" stroke-linecap="round"/>
<path d="M289.80 642.65L289.80 645.35M290.97 643.33L288.63 644.67M290.97 644.67L288.63 643.33" stroke="#000" stroke-width="1.01" stroke-linecap="round"/>
<text x="178.57" y="684.50" font-size="6.47999999999999" font-weight="bold" font-family='"Liberation Serif", serif' fill="#000" text-anchor="middle" stroke="#000" stroke-width="0.18" textLength="61.60" lengthAdjust="spacingAndGlyphs" transform="rotate(-90 178.57 684.50)" >ABCA1 mRNA abundance</text>
<text x="185.77" y="684.50" font-size="6.47999999999999" font-weight="bold" font-family='"Liberation Serif", serif' fill="#000" text-anchor="middle" stroke="#000" stroke-width="0.18" textLength="53.90" lengthAdjust="spacingAndGlyphs" transform="rotate(-90 185.77 684.50)" >(Normalized to β-actin)</text>
<text x="218.50" y="729.64" font-size="6.6" font-weight="bold" font-family='"Liberation Serif", serif' fill="#000" text-anchor="middle" stroke="#000" stroke-width="0.18" >Control</text>
<text x="240.40" y="729.64" font-size="6.6" font-weight="bold" font-family='"Liberation Serif", serif' fill="#000" text-anchor="middle" stroke="#000" stroke-width="0.18" >1</text>
<text x="262.20" y="729.64" font-size="6.6" font-weight="bold" font-family='"Liberation Serif", serif' fill="#000" text-anchor="middle" stroke="#000" stroke-width="0.18" >10</text>
<text x="284.30" y="729.64" font-size="6.6" font-weight="bold" font-family='"Liberation Serif", serif' fill="#000" text-anchor="middle" stroke="#000" stroke-width="0.18" >100</text>
<line x1="236.60" y1="731.20" x2="290.10" y2="731.20" stroke="#000" stroke-width="1.08"/>
<text x="263.35" y="737.70" font-size="4.4" font-weight="bold" font-family='"Liberation Serif", serif' fill="#000" text-anchor="middle" stroke="#000" stroke-width="0.18" textLength="59.50" lengthAdjust="spacingAndGlyphs" >Rhein (mg g<tspan font-size="3.2" dy="-1.6">-1</tspan><tspan dy="1.6"> body weight)</tspan></text>
<text transform="translate(195.90 635.20) scale(1.062 1)" x="-1.42" y="0" font-size="21.22" font-weight="bold" font-family='"Liberation Sans", sans-serif' fill="#b8000f">R</text>
<line x1="388.50" y1="654.45" x2="388.50" y2="735.10" stroke="#000" stroke-width="1.2"/>
<line x1="384.90" y1="734.50" x2="388.50" y2="734.50" stroke="#000" stroke-width="1.2"/>
<text x="383.50" y="736.47" font-size="5.8" font-weight="bold" font-family='"Liberation Serif", serif' fill="#000" text-anchor="end" stroke="#000" stroke-width="0.18" >0.0</text>
<line x1="384.90" y1="707.85" x2="388.50" y2="707.85" stroke="#000" stroke-width="1.2"/>
<text x="383.50" y="709.82" font-size="5.8" font-weight="bold" font-family='"Liberation Serif", serif' fill="#000" text-anchor="end" stroke="#000" stroke-width="0.18" >0.5</text>
<line x1="384.90" y1="681.20" x2="388.50" y2="681.20" stroke="#000" stroke-width="1.2"/>
<text x="383.50" y="683.17" font-size="5.8" font-weight="bold" font-family='"Liberation Serif", serif' fill="#000" text-anchor="end" stroke="#000" stroke-width="0.18" >1.0</text>
<line x1="384.90" y1="654.55" x2="388.50" y2="654.55" stroke="#000" stroke-width="1.2"/>
<text x="383.50" y="656.52" font-size="5.8" font-weight="bold" font-family='"Liberation Serif", serif' fill="#000" text-anchor="end" stroke="#000" stroke-width="0.18" >1.5</text>
<line x1="388.50" y1="734.50" x2="507.80" y2="734.50" stroke="#000" stroke-width="1.2"/>
<line x1="416.60" y1="734.50" x2="416.60" y2="737.00" stroke="#000" stroke-width="0.96"/>
<line x1="476.40" y1="734.50" x2="476.40" y2="737.00" stroke="#000" stroke-width="0.96"/>
<rect x="393.50" y="681.20" width="10.10" height="53.30" fill="#ffffff" stroke="#000" stroke-width="1.2"/>
<line x1="398.55" y1="681.20" x2="398.55" y2="677.47" stroke="#000" stroke-width="0.96"/>
<line x1="396.05" y1="677.47" x2="401.05" y2="677.47" stroke="#000" stroke-width="1.02"/>
<circle cx="398.26" cy="683.00" r="1.3" fill="#000"/>
<circle cx="400.18" cy="678.45" r="1.3" fill="#000"/>
<circle cx="395.88" cy="670.83" r="1.3" fill="#000"/>
<circle cx="398.17" cy="692.34" r="1.3" fill="#000"/>
<circle cx="395.73" cy="673.41" r="1.3" fill="#000"/>
<circle cx="399.80" cy="687.90" r="1.3" fill="#000"/>
<rect x="406.60" y="692.93" width="10.00" height="41.57" fill="#808080" stroke="#000" stroke-width="1.2"/>
<line x1="411.60" y1="692.93" x2="411.60" y2="688.66" stroke="#000" stroke-width="0.96"/>
<line x1="409.10" y1="688.66" x2="414.10" y2="688.66" stroke="#000" stroke-width="1.02"/>
<circle cx="412.44" cy="696.28" r="1.3" fill="#000"/>
<circle cx="413.73" cy="691.54" r="1.3" fill="#000"/>
<circle cx="414.23" cy="679.45" r="1.3" fill="#000"/>
<circle cx="411.75" cy="705.95" r="1.3" fill="#000"/>
<circle cx="414.06" cy="684.02" r="1.3" fill="#000"/>
<circle cx="410.74" cy="700.29" r="1.3" fill="#000"/>
<rect x="419.40" y="702.52" width="10.00" height="31.98" fill="#a6a6a8" stroke="#000" stroke-width="1.2"/>
<line x1="424.40" y1="702.52" x2="424.40" y2="699.32" stroke="#000" stroke-width="0.96"/>
<line x1="421.90" y1="699.32" x2="426.90" y2="699.32" stroke="#000" stroke-width="1.02"/>
<circle cx="426.73" cy="704.23" r="1.3" fill="#000"/>
<circle cx="422.16" cy="711.89" r="1.3" fill="#000"/>
<circle cx="425.65" cy="696.12" r="1.3" fill="#000"/>
<circle cx="425.76" cy="700.89" r="1.3" fill="#000"/>
<circle cx="427.05" cy="707.34" r="1.3" fill="#000"/>
<circle cx="427.02" cy="692.80" r="1.3" fill="#000"/>
<rect x="432.00" y="706.25" width="10.00" height="28.25" fill="#d7d7d7" stroke="#000" stroke-width="1.2"/>
<circle cx="437.03" cy="718.65" r="1.3" fill="#000"/>
<circle cx="434.39" cy="703.35" r="1.3" fill="#000"/>
<circle cx="438.67" cy="694.28" r="1.3" fill="#000"/>
<circle cx="435.17" cy="708.48" r="1.3" fill="#000"/>
<circle cx="438.14" cy="713.45" r="1.3" fill="#000"/>
<circle cx="436.30" cy="697.79" r="1.3" fill="#000"/>
<rect x="454.30" y="679.60" width="10.30" height="54.90" fill="#ffffff" stroke="#000" stroke-width="1.2"/>
<line x1="459.45" y1="679.60" x2="459.45" y2="676.94" stroke="#000" stroke-width="0.96"/>
<line x1="456.95" y1="676.94" x2="461.95" y2="676.94" stroke="#000" stroke-width="1.02"/>
<circle cx="460.79" cy="681.10" r="1.3" fill="#000"/>
<circle cx="458.35" cy="684.34" r="1.3" fill="#000"/>
<circle cx="460.11" cy="670.91" r="1.3" fill="#000"/>
<circle cx="460.30" cy="688.00" r="1.3" fill="#000"/>
<circle cx="457.87" cy="675.05" r="1.3" fill="#000"/>
<circle cx="457.72" cy="678.73" r="1.3" fill="#000"/>
<rect x="467.10" y="703.05" width="10.10" height="31.45" fill="#808080" stroke="#000" stroke-width="1.2"/>
<line x1="472.15" y1="703.05" x2="472.15" y2="699.32" stroke="#000" stroke-width="0.96"/>
<line x1="469.65" y1="699.32" x2="474.65" y2="699.32" stroke="#000" stroke-width="1.02"/>
<circle cx="472.59" cy="713.91" r="1.3" fill="#000"/>
<circle cx="470.85" cy="691.81" r="1.3" fill="#000"/>
<circle cx="474.74" cy="704.73" r="1.3" fill="#000"/>
<circle cx="473.75" cy="701.85" r="1.3" fill="#000"/>
<circle cx="474.33" cy="708.85" r="1.3" fill="#000"/>
<circle cx="473.90" cy="695.32" r="1.3" fill="#000"/>
<rect x="480.20" y="700.39" width="10.00" height="34.11" fill="#a6a6a8" stroke="#000" stroke-width="1.2"/>
<line x1="485.20" y1="700.39" x2="485.20" y2="697.19" stroke="#000" stroke-width="0.96"/>
<line x1="482.70" y1="697.19" x2="487.70" y2="697.19" stroke="#000" stroke-width="1.02"/>
<circle cx="484.44" cy="701.96" r="1.3" fill="#000"/>
<circle cx="487.67" cy="710.51" r="1.3" fill="#000"/>
<circle cx="486.95" cy="698.52" r="1.3" fill="#000"/>
<circle cx="482.41" cy="706.19" r="1.3" fill="#000"/>
<circle cx="486.80" cy="690.58" r="1.3" fill="#000"/>
<circle cx="485.76" cy="694.59" r="1.3" fill="#000"/>
<rect x="492.80" y="707.85" width="10.00" height="26.65" fill="#d7d7d7" stroke="#000" stroke-width="1.2"/>
<circle cx="500.28" cy="711.09" r="1.3" fill="#000"/>
<circle cx="499.86" cy="706.33" r="1.3" fill="#000"/>
<circle cx="499.22" cy="721.30" r="1.3" fill="#000"/>
<circle cx="496.50" cy="700.44" r="1.3" fill="#000"/>
<circle cx="496.03" cy="694.40" r="1.3" fill="#000"/>
<circle cx="495.94" cy="715.74" r="1.3" fill="#000"/>
<line x1="421.90" y1="688.70" x2="428.20" y2="688.70" stroke="#000" stroke-width="1.02"/>
<path d="M422.90 681.55L422.90 684.25M424.07 682.23L421.73 683.57M424.07 683.57L421.73 682.23" stroke="#000" stroke-width="1.01" stroke-linecap="round"/>
<path d="M426.90 681.55L426.90 684.25M428.07 682.23L425.73 683.57M428.07 683.57L425.73 682.23" stroke="#000" stroke-width="1.01" stroke-linecap="round"/>
<line x1="433.70" y1="691.20" x2="445.00" y2="691.20" stroke="#000" stroke-width="1.02"/>
<path d="M435.20 684.05L435.20 686.75M436.37 684.73L434.03 686.07M436.37 686.07L434.03 684.73" stroke="#000" stroke-width="1.01" stroke-linecap="round"/>
<path d="M439.20 684.05L439.20 686.75M440.37 684.73L438.03 686.07M440.37 686.07L438.03 684.73" stroke="#000" stroke-width="1.01" stroke-linecap="round"/>
<path d="M443.20 684.05L443.20 686.75M444.37 684.73L442.03 686.07M444.37 686.07L442.03 684.73" stroke="#000" stroke-width="1.01" stroke-linecap="round"/>
<line x1="471.40" y1="688.70" x2="485.20" y2="688.70" stroke="#000" stroke-width="1.02"/>
<path d="M473.70 681.55L473.70 684.25M474.87 682.23L472.53 683.57M474.87 683.57L472.53 682.23" stroke="#000" stroke-width="1.01" stroke-linecap="round"/>
<path d="M477.70 681.55L477.70 684.25M478.87 682.23L476.53 683.57M478.87 683.57L476.53 682.23" stroke="#000" stroke-width="1.01" stroke-linecap="round"/>
<path d="M481.70 681.55L481.70 684.25M482.87 682.23L480.53 683.57M482.87 683.57L480.53 682.23" stroke="#000" stroke-width="1.01" stroke-linecap="round"/>
<line x1="492.80" y1="687.90" x2="505.30" y2="687.90" stroke="#000" stroke-width="1.02"/>
<path d="M493.00 681.05L493.00 683.75M494.17 681.73L491.83 683.07M494.17 683.07L491.83 681.73" stroke="#000" stroke-width="1.01" stroke-linecap="round"/>
<path d="M497.00 681.05L497.00 683.75M498.17 681.73L495.83 683.07M498.17 683.07L495.83 681.73" stroke="#000" stroke-width="1.01" stroke-linecap="round"/>
<path d="M501.00 681.05L501.00 683.75M502.17 681.73L499.83 683.07M502.17 683.07L499.83 681.73" stroke="#000" stroke-width="1.01" stroke-linecap="round"/>
<path d="M505.00 681.05L505.00 683.75M506.17 681.73L503.83 683.07M506.17 683.07L503.83 681.73" stroke="#000" stroke-width="1.01" stroke-linecap="round"/>
<text x="367.41" y="694.50" font-size="6.02999999999999" font-weight="bold" font-family='"Liberation Serif", serif' fill="#000" text-anchor="middle" stroke="#000" stroke-width="0.18" textLength="69.30" lengthAdjust="spacingAndGlyphs" transform="rotate(-90 367.41 694.50)" >HMGCL1 mRNA abundance</text>
<text x="374.11" y="694.50" font-size="6.02999999999999" font-weight="bold" font-family='"Liberation Serif", serif' fill="#000" text-anchor="middle" stroke="#000" stroke-width="0.18" textLength="57.10" lengthAdjust="spacingAndGlyphs" transform="rotate(-90 374.11 694.50)" >(Normalized to β-actin)</text>
<text x="416.60" y="743.14" font-size="5.4" font-weight="bold" font-family='"Liberation Serif", serif' fill="#000" text-anchor="middle" stroke="#000" stroke-width="0.18" >2 h</text>
<text x="476.40" y="743.14" font-size="5.4" font-weight="bold" font-family='"Liberation Serif", serif' fill="#000" text-anchor="middle" stroke="#000" stroke-width="0.18" >24 h</text>
<circle cx="421.90" cy="640.20" r="1.15" fill="#000"/>
<text x="429.90" y="642.05" font-size="5.6" font-weight="bold" font-family='"Liberation Serif", serif' fill="#000" text-anchor="start" stroke="#000" stroke-width="0.18" >Control</text>
<circle cx="421.90" cy="646.50" r="1.4" fill="#000"/>
<text x="430.50" y="648.35" font-size="5.6" font-weight="bold" font-family='"Liberation Serif", serif' fill="#000" text-anchor="start" stroke="#000" stroke-width="0.18" >Rhein 0.1 μM</text>
<path d="M420.50 653.80L423.30 653.80L421.90 651.50Z"/>
<text x="430.50" y="654.65" font-size="5.6" font-weight="bold" font-family='"Liberation Serif", serif' fill="#000" text-anchor="start" stroke="#000" stroke-width="0.18" >Rhein 1 μM</text>
<rect x="420.95" y="658.05" width="1.9" height="1.9"/>
<text x="430.50" y="660.85" font-size="5.6" font-weight="bold" font-family='"Liberation Serif", serif' fill="#000" text-anchor="start" stroke="#000" stroke-width="0.18" >Rhein 10 μM</text>
<text transform="translate(376.70 636.20) scale(1.074 1)" x="-0.58" y="0" font-size="20.20" font-weight="bold" font-family='"Liberation Sans", sans-serif' fill="#146414">S</text>
<line x1="582.50" y1="646.55" x2="582.50" y2="725.10" stroke="#000" stroke-width="1.2"/>
<line x1="578.90" y1="724.50" x2="582.50" y2="724.50" stroke="#000" stroke-width="1.2"/>
<text x="577.50" y="726.47" font-size="5.8" font-weight="bold" font-family='"Liberation Serif", serif' fill="#000" text-anchor="end" stroke="#000" stroke-width="0.18" >0.0</text>
<line x1="578.90" y1="698.55" x2="582.50" y2="698.55" stroke="#000" stroke-width="1.2"/>
<text x="577.50" y="700.52" font-size="5.8" font-weight="bold" font-family='"Liberation Serif", serif' fill="#000" text-anchor="end" stroke="#000" stroke-width="0.18" >0.5</text>
<line x1="578.90" y1="672.60" x2="582.50" y2="672.60" stroke="#000" stroke-width="1.2"/>
<text x="577.50" y="674.57" font-size="5.8" font-weight="bold" font-family='"Liberation Serif", serif' fill="#000" text-anchor="end" stroke="#000" stroke-width="0.18" >1.0</text>
<line x1="578.90" y1="646.65" x2="582.50" y2="646.65" stroke="#000" stroke-width="1.2"/>
<text x="577.50" y="648.62" font-size="5.8" font-weight="bold" font-family='"Liberation Serif", serif' fill="#000" text-anchor="end" stroke="#000" stroke-width="0.18" >1.5</text>
<line x1="582.50" y1="724.50" x2="678.30" y2="724.50" stroke="#000" stroke-width="1.2"/>
<line x1="597.80" y1="724.50" x2="597.80" y2="727.00" stroke="#000" stroke-width="0.96"/>
<line x1="619.50" y1="724.50" x2="619.50" y2="727.00" stroke="#000" stroke-width="0.96"/>
<line x1="641.40" y1="724.50" x2="641.40" y2="727.00" stroke="#000" stroke-width="0.96"/>
<line x1="663.10" y1="724.50" x2="663.10" y2="727.00" stroke="#000" stroke-width="0.96"/>
<rect x="590.40" y="672.60" width="14.80" height="51.90" fill="#ffffff" stroke="#000" stroke-width="1.2"/>
<line x1="597.80" y1="672.60" x2="597.80" y2="670.00" stroke="#000" stroke-width="0.96"/>
<line x1="595.30" y1="670.00" x2="600.30" y2="670.00" stroke="#000" stroke-width="1.02"/>
<circle cx="597.38" cy="673.85" r="1.3" fill="#000"/>
<circle cx="600.19" cy="670.69" r="1.3" fill="#000"/>
<circle cx="593.89" cy="665.39" r="1.3" fill="#000"/>
<circle cx="597.24" cy="680.35" r="1.3" fill="#000"/>
<circle cx="593.67" cy="667.18" r="1.3" fill="#000"/>
<circle cx="599.64" cy="677.26" r="1.3" fill="#000"/>
<rect x="612.20" y="721.39" width="14.60" height="3.11" fill="#a6a6a8" stroke="#000" stroke-width="1.2"/>
<line x1="619.50" y1="721.39" x2="619.50" y2="720.87" stroke="#000" stroke-width="0.96"/>
<line x1="617.00" y1="720.87" x2="622.00" y2="720.87" stroke="#000" stroke-width="1.02"/>
<circle cx="620.72" cy="722.06" r="1.3" fill="#000"/>
<circle cx="622.62" cy="721.11" r="1.3" fill="#000"/>
<circle cx="623.33" cy="718.70" r="1.3" fill="#000"/>
<circle cx="619.73" cy="723.46" r="1.3" fill="#000"/>
<circle cx="623.09" cy="719.61" r="1.3" fill="#000"/>
<circle cx="618.24" cy="722.86" r="1.3" fill="#000"/>
<rect x="634.10" y="718.27" width="14.60" height="6.23" fill="#a6a6a8" stroke="#000" stroke-width="1.2"/>
<line x1="641.40" y1="718.27" x2="641.40" y2="717.75" stroke="#000" stroke-width="0.96"/>
<line x1="638.90" y1="717.75" x2="643.90" y2="717.75" stroke="#000" stroke-width="1.02"/>
<circle cx="644.80" cy="718.73" r="1.3" fill="#000"/>
<circle cx="638.13" cy="720.77" r="1.3" fill="#000"/>
<circle cx="643.23" cy="716.57" r="1.3" fill="#000"/>
<circle cx="643.39" cy="717.84" r="1.3" fill="#000"/>
<circle cx="645.27" cy="719.56" r="1.3" fill="#000"/>
<circle cx="645.22" cy="715.68" r="1.3" fill="#000"/>
<rect x="655.70" y="720.35" width="14.80" height="4.15" fill="#ffffff" stroke="#000" stroke-width="1.2"/>
<circle cx="663.14" cy="722.88" r="1.3" fill="#000"/>
<circle cx="659.24" cy="719.75" r="1.3" fill="#000"/>
<circle cx="665.56" cy="717.90" r="1.3" fill="#000"/>
<circle cx="660.39" cy="720.80" r="1.3" fill="#000"/>
<circle cx="664.78" cy="721.82" r="1.3" fill="#000"/>
<circle cx="662.06" cy="718.62" r="1.3" fill="#000"/>
<line x1="618.00" y1="713.60" x2="665.00" y2="713.60" stroke="#000" stroke-width="1.02"/>
<path d="M635.10 707.15L635.10 709.85M636.27 707.83L633.93 709.17M636.27 709.17L633.93 707.83" stroke="#000" stroke-width="1.01" stroke-linecap="round"/>
<path d="M639.10 707.15L639.10 709.85M640.27 707.83L637.93 709.17M640.27 709.17L637.93 707.83" stroke="#000" stroke-width="1.01" stroke-linecap="round"/>
<path d="M643.10 707.15L643.10 709.85M644.27 707.83L641.93 709.17M644.27 709.17L641.93 707.83" stroke="#000" stroke-width="1.01" stroke-linecap="round"/>
<path d="M647.10 707.15L647.10 709.85M648.27 707.83L645.93 709.17M648.27 709.17L645.93 707.83" stroke="#000" stroke-width="1.01" stroke-linecap="round"/>
<text x="558.23" y="685.50" font-size="6.9300000000000415" font-weight="bold" font-family='"Liberation Serif", serif' fill="#000" text-anchor="middle" stroke="#000" stroke-width="0.18" textLength="67.30" lengthAdjust="spacingAndGlyphs" transform="rotate(-90 558.23 685.50)" >HMGCL1 mRNA abundance</text>
<text x="565.93" y="685.50" font-size="6.9300000000000415" font-weight="bold" font-family='"Liberation Serif", serif' fill="#000" text-anchor="middle" stroke="#000" stroke-width="0.18" textLength="54.00" lengthAdjust="spacingAndGlyphs" transform="rotate(-90 565.93 685.50)" >(Normalized to β-actin)</text>
<text x="597.20" y="733.64" font-size="6.6" font-weight="bold" font-family='"Liberation Serif", serif' fill="#000" text-anchor="middle" stroke="#000" stroke-width="0.18" >Control</text>
<text x="619.30" y="733.64" font-size="6.6" font-weight="bold" font-family='"Liberation Serif", serif' fill="#000" text-anchor="middle" stroke="#000" stroke-width="0.18" >1</text>
<text x="641.10" y="733.64" font-size="6.6" font-weight="bold" font-family='"Liberation Serif", serif' fill="#000" text-anchor="middle" stroke="#000" stroke-width="0.18" >10</text>
<text x="663.00" y="733.64" font-size="6.6" font-weight="bold" font-family='"Liberation Serif", serif' fill="#000" text-anchor="middle" stroke="#000" stroke-width="0.18" >100</text>
<line x1="614.80" y1="735.70" x2="670.00" y2="735.70" stroke="#000" stroke-width="1.08"/>
<text x="642.40" y="742.20" font-size="4.4" font-weight="bold" font-family='"Liberation Serif", serif' fill="#000" text-anchor="middle" stroke="#000" stroke-width="0.18" textLength="59.50" lengthAdjust="spacingAndGlyphs" >Rhein (mg g<tspan font-size="3.2" dy="-1.6">-1</tspan><tspan dy="1.6"> body weight)</tspan></text>
<text transform="translate(555.70 637.70) scale(1.014 1)" x="-0.25" y="0" font-size="21.95" font-weight="bold" font-family='"Liberation Sans", sans-serif' fill="#b8000f">T</text>
<line x1="33.50" y1="773.50" x2="33.50" y2="861.10" stroke="#000" stroke-width="1.2"/>
<line x1="29.90" y1="860.50" x2="33.50" y2="860.50" stroke="#000" stroke-width="1.2"/>
<text x="28.50" y="862.47" font-size="5.8" font-weight="bold" font-family='"Liberation Serif", serif' fill="#000" text-anchor="end" stroke="#000" stroke-width="0.18" >0.0</text>
<line x1="29.90" y1="831.60" x2="33.50" y2="831.60" stroke="#000" stroke-width="1.2"/>
<text x="28.50" y="833.57" font-size="5.8" font-weight="bold" font-family='"Liberation Serif", serif' fill="#000" text-anchor="end" stroke="#000" stroke-width="0.18" >0.5</text>
<line x1="29.90" y1="802.70" x2="33.50" y2="802.70" stroke="#000" stroke-width="1.2"/>
<text x="28.50" y="804.67" font-size="5.8" font-weight="bold" font-family='"Liberation Serif", serif' fill="#000" text-anchor="end" stroke="#000" stroke-width="0.18" >1.0</text>
<line x1="29.90" y1="773.80" x2="33.50" y2="773.80" stroke="#000" stroke-width="1.2"/>
<text x="28.50" y="775.77" font-size="5.8" font-weight="bold" font-family='"Liberation Serif", serif' fill="#000" text-anchor="end" stroke="#000" stroke-width="0.18" >1.5</text>
<line x1="33.50" y1="860.50" x2="142.00" y2="860.50" stroke="#000" stroke-width="1.2"/>
<line x1="57.30" y1="860.50" x2="57.30" y2="863.00" stroke="#000" stroke-width="0.96"/>
<line x1="113.10" y1="860.50" x2="113.10" y2="863.00" stroke="#000" stroke-width="0.96"/>
<rect x="37.70" y="806.17" width="9.30" height="54.33" fill="#ffffff" stroke="#000" stroke-width="1.2"/>
<line x1="42.35" y1="806.17" x2="42.35" y2="799.23" stroke="#000" stroke-width="0.96"/>
<line x1="39.15" y1="799.23" x2="45.55" y2="799.23" stroke="#000" stroke-width="1.02"/>
<circle cx="42.09" cy="807.48" r="1.3" fill="#000"/>
<circle cx="43.85" cy="804.17" r="1.3" fill="#000"/>
<circle cx="39.89" cy="798.64" r="1.3" fill="#000"/>
<circle cx="42.00" cy="814.26" r="1.3" fill="#000"/>
<circle cx="39.76" cy="800.51" r="1.3" fill="#000"/>
<circle cx="43.50" cy="811.03" r="1.3" fill="#000"/>
<rect x="49.50" y="838.54" width="8.80" height="21.96" fill="#a6a6a8" stroke="#000" stroke-width="1.2"/>
<line x1="53.90" y1="838.54" x2="53.90" y2="835.07" stroke="#000" stroke-width="0.96"/>
<line x1="50.70" y1="835.07" x2="57.10" y2="835.07" stroke="#000" stroke-width="1.02"/>
<circle cx="54.64" cy="839.60" r="1.3" fill="#000"/>
<circle cx="55.78" cy="838.09" r="1.3" fill="#000"/>
<circle cx="56.21" cy="834.26" r="1.3" fill="#000"/>
<circle cx="54.04" cy="842.68" r="1.3" fill="#000"/>
<circle cx="56.06" cy="835.71" r="1.3" fill="#000"/>
<circle cx="53.14" cy="840.87" r="1.3" fill="#000"/>
<rect x="61.60" y="829.29" width="8.80" height="31.21" fill="#808080" stroke="#000" stroke-width="1.2"/>
<line x1="66.00" y1="829.29" x2="66.00" y2="820.04" stroke="#000" stroke-width="0.96"/>
<line x1="62.80" y1="820.04" x2="69.20" y2="820.04" stroke="#000" stroke-width="1.02"/>
<circle cx="68.05" cy="831.22" r="1.3" fill="#000"/>
<circle cx="64.03" cy="839.87" r="1.3" fill="#000"/>
<circle cx="67.10" cy="822.05" r="1.3" fill="#000"/>
<circle cx="67.20" cy="827.45" r="1.3" fill="#000"/>
<circle cx="68.33" cy="834.73" r="1.3" fill="#000"/>
<circle cx="68.30" cy="818.30" r="1.3" fill="#000"/>
<rect x="72.90" y="826.40" width="8.80" height="34.10" fill="#d7d7d7" stroke="#000" stroke-width="1.2"/>
<line x1="77.30" y1="826.40" x2="77.30" y2="817.73" stroke="#000" stroke-width="0.96"/>
<line x1="74.10" y1="817.73" x2="80.50" y2="817.73" stroke="#000" stroke-width="1.02"/>
<circle cx="77.33" cy="836.49" r="1.3" fill="#000"/>
<circle cx="75.01" cy="824.04" r="1.3" fill="#000"/>
<circle cx="78.77" cy="816.66" r="1.3" fill="#000"/>
<circle cx="75.69" cy="828.21" r="1.3" fill="#000"/>
<circle cx="78.30" cy="832.25" r="1.3" fill="#000"/>
<circle cx="76.68" cy="819.52" r="1.3" fill="#000"/>
<rect x="93.00" y="803.28" width="8.80" height="57.22" fill="#ffffff" stroke="#000" stroke-width="1.2"/>
<line x1="97.40" y1="803.28" x2="97.40" y2="796.92" stroke="#000" stroke-width="0.96"/>
<line x1="94.20" y1="796.92" x2="100.60" y2="796.92" stroke="#000" stroke-width="1.02"/>
<circle cx="98.55" cy="804.68" r="1.3" fill="#000"/>
<circle cx="96.46" cy="807.70" r="1.3" fill="#000"/>
<circle cx="97.97" cy="795.17" r="1.3" fill="#000"/>
<circle cx="98.13" cy="811.10" r="1.3" fill="#000"/>
<circle cx="96.05" cy="799.04" r="1.3" fill="#000"/>
<circle cx="95.92" cy="802.46" r="1.3" fill="#000"/>
<rect x="105.00" y="829.29" width="8.80" height="31.21" fill="#a6a6a8" stroke="#000" stroke-width="1.2"/>
<line x1="109.40" y1="829.29" x2="109.40" y2="827.55" stroke="#000" stroke-width="0.96"/>
<line x1="106.20" y1="827.55" x2="112.60" y2="827.55" stroke="#000" stroke-width="1.02"/>
<circle cx="109.78" cy="832.05" r="1.3" fill="#000"/>
<circle cx="108.26" cy="826.43" r="1.3" fill="#000"/>
<circle cx="111.65" cy="829.71" r="1.3" fill="#000"/>
<circle cx="110.80" cy="828.98" r="1.3" fill="#000"/>
<circle cx="111.30" cy="830.76" r="1.3" fill="#000"/>
<circle cx="110.92" cy="827.32" r="1.3" fill="#000"/>
<rect x="116.30" y="826.98" width="9.30" height="33.52" fill="#808080" stroke="#000" stroke-width="1.2"/>
<line x1="120.95" y1="826.98" x2="120.95" y2="825.24" stroke="#000" stroke-width="0.96"/>
<line x1="117.75" y1="825.24" x2="124.15" y2="825.24" stroke="#000" stroke-width="1.02"/>
<circle cx="120.25" cy="827.44" r="1.3" fill="#000"/>
<circle cx="123.25" cy="829.98" r="1.3" fill="#000"/>
<circle cx="122.58" cy="826.42" r="1.3" fill="#000"/>
<circle cx="118.35" cy="828.70" r="1.3" fill="#000"/>
<circle cx="122.44" cy="824.07" r="1.3" fill="#000"/>
<circle cx="121.47" cy="825.26" r="1.3" fill="#000"/>
<rect x="128.60" y="811.95" width="8.80" height="48.55" fill="#d7d7d7" stroke="#000" stroke-width="1.2"/>
<line x1="133.00" y1="811.95" x2="133.00" y2="810.79" stroke="#000" stroke-width="0.96"/>
<line x1="129.80" y1="810.79" x2="136.20" y2="810.79" stroke="#000" stroke-width="1.02"/>
<circle cx="135.19" cy="812.69" r="1.3" fill="#000"/>
<circle cx="134.81" cy="811.60" r="1.3" fill="#000"/>
<circle cx="134.25" cy="815.01" r="1.3" fill="#000"/>
<circle cx="131.86" cy="810.26" r="1.3" fill="#000"/>
<circle cx="131.45" cy="808.88" r="1.3" fill="#000"/>
<circle cx="131.36" cy="813.74" r="1.3" fill="#000"/>
<line x1="65.80" y1="810.40" x2="76.10" y2="810.40" stroke="#000" stroke-width="1.02"/>
<path d="M71.10 802.75L71.10 805.45M72.27 803.43L69.93 804.77M72.27 804.77L69.93 803.43" stroke="#000" stroke-width="1.01" stroke-linecap="round"/>
<line x1="108.50" y1="819.20" x2="121.10" y2="819.20" stroke="#000" stroke-width="1.02"/>
<path d="M110.80 812.75L110.80 815.45M111.97 813.43L109.63 814.77M111.97 814.77L109.63 813.43" stroke="#000" stroke-width="1.01" stroke-linecap="round"/>
<path d="M114.80 812.75L114.80 815.45M115.97 813.43L113.63 814.77M115.97 814.77L113.63 813.43" stroke="#000" stroke-width="1.01" stroke-linecap="round"/>
<path d="M118.80 812.75L118.80 815.45M119.97 813.43L117.63 814.77M119.97 814.77L117.63 813.43" stroke="#000" stroke-width="1.01" stroke-linecap="round"/>
<text x="13.79" y="817.80" font-size="5.399999999999999" font-weight="bold" font-family='"Liberation Serif", serif' fill="#000" text-anchor="middle" stroke="#000" stroke-width="0.18" textLength="62.90" lengthAdjust="spacingAndGlyphs" transform="rotate(-90 13.79 817.80)" >ATF4 mRNA abundance</text>
<text x="19.79" y="817.80" font-size="5.399999999999999" font-weight="bold" font-family='"Liberation Serif", serif' fill="#000" text-anchor="middle" stroke="#000" stroke-width="0.18" textLength="60.70" lengthAdjust="spacingAndGlyphs" transform="rotate(-90 19.79 817.80)" >(Normalized to β-actin)</text>
<text x="57.30" y="868.54" font-size="5.4" font-weight="bold" font-family='"Liberation Serif", serif' fill="#000" text-anchor="middle" stroke="#000" stroke-width="0.18" >2 h</text>
<text x="113.10" y="868.54" font-size="5.4" font-weight="bold" font-family='"Liberation Serif", serif' fill="#000" text-anchor="middle" stroke="#000" stroke-width="0.18" >24 h</text>
<circle cx="55.30" cy="766.40" r="1.15" fill="#000"/>
<text x="62.80" y="768.25" font-size="5.6" font-weight="bold" font-family='"Liberation Serif", serif' fill="#000" text-anchor="start" stroke="#000" stroke-width="0.18" >Control</text>
<circle cx="55.30" cy="771.90" r="1.4" fill="#000"/>
<text x="63.40" y="773.75" font-size="5.6" font-weight="bold" font-family='"Liberation Serif", serif' fill="#000" text-anchor="start" stroke="#000" stroke-width="0.18" >Rhein 0.1 μM</text>
<path d="M53.90 778.70L56.70 778.70L55.30 776.40Z"/>
<text x="63.40" y="779.55" font-size="5.6" font-weight="bold" font-family='"Liberation Serif", serif' fill="#000" text-anchor="start" stroke="#000" stroke-width="0.18" >Rhein 1 μM</text>
<rect x="54.35" y="783.05" width="1.9" height="1.9"/>
<text x="63.40" y="785.85" font-size="5.6" font-weight="bold" font-family='"Liberation Serif", serif' fill="#000" text-anchor="start" stroke="#000" stroke-width="0.18" >Rhein 10 μM</text>
<text transform="translate(23.90 761.69) scale(1.020 1)" x="-1.27" y="0" font-size="21.21" font-weight="bold" font-family='"Liberation Sans", sans-serif' fill="#146414">U</text>
<line x1="205.50" y1="776.45" x2="205.50" y2="854.10" stroke="#000" stroke-width="1.2"/>
<line x1="201.90" y1="853.50" x2="205.50" y2="853.50" stroke="#000" stroke-width="1.2"/>
<text x="200.50" y="855.47" font-size="5.8" font-weight="bold" font-family='"Liberation Serif", serif' fill="#000" text-anchor="end" stroke="#000" stroke-width="0.18" >0.0</text>
<line x1="201.90" y1="827.95" x2="205.50" y2="827.95" stroke="#000" stroke-width="1.2"/>
<text x="200.50" y="829.92" font-size="5.8" font-weight="bold" font-family='"Liberation Serif", serif' fill="#000" text-anchor="end" stroke="#000" stroke-width="0.18" >0.5</text>
<line x1="201.90" y1="802.40" x2="205.50" y2="802.40" stroke="#000" stroke-width="1.2"/>
<text x="200.50" y="804.37" font-size="5.8" font-weight="bold" font-family='"Liberation Serif", serif' fill="#000" text-anchor="end" stroke="#000" stroke-width="0.18" >1.0</text>
<line x1="201.90" y1="776.85" x2="205.50" y2="776.85" stroke="#000" stroke-width="1.2"/>
<text x="200.50" y="778.82" font-size="5.8" font-weight="bold" font-family='"Liberation Serif", serif' fill="#000" text-anchor="end" stroke="#000" stroke-width="0.18" >1.5</text>
<line x1="205.50" y1="853.50" x2="300.70" y2="853.50" stroke="#000" stroke-width="1.2"/>
<line x1="220.30" y1="853.50" x2="220.30" y2="856.00" stroke="#000" stroke-width="0.96"/>
<line x1="242.20" y1="853.50" x2="242.20" y2="856.00" stroke="#000" stroke-width="0.96"/>
<line x1="264.30" y1="853.50" x2="264.30" y2="856.00" stroke="#000" stroke-width="0.96"/>
<line x1="286.00" y1="853.50" x2="286.00" y2="856.00" stroke="#000" stroke-width="0.96"/>
<rect x="213.20" y="801.89" width="14.10" height="51.61" fill="#ffffff" stroke="#000" stroke-width="1.2"/>
<line x1="220.25" y1="801.89" x2="220.25" y2="791.67" stroke="#000" stroke-width="0.96"/>
<line x1="217.05" y1="791.67" x2="223.45" y2="791.67" stroke="#000" stroke-width="1.02"/>
<circle cx="219.85" cy="803.82" r="1.3" fill="#000"/>
<circle cx="222.53" cy="798.95" r="1.3" fill="#000"/>
<circle cx="216.53" cy="790.79" r="1.3" fill="#000"/>
<circle cx="219.72" cy="813.81" r="1.3" fill="#000"/>
<circle cx="216.32" cy="793.55" r="1.3" fill="#000"/>
<circle cx="222.00" cy="809.05" r="1.3" fill="#000"/>
<rect x="235.30" y="797.29" width="13.80" height="56.21" fill="#a6a6a8" stroke="#000" stroke-width="1.2"/>
<line x1="242.20" y1="797.29" x2="242.20" y2="788.09" stroke="#000" stroke-width="0.96"/>
<line x1="239.00" y1="788.09" x2="245.40" y2="788.09" stroke="#000" stroke-width="1.02"/>
<circle cx="243.36" cy="800.11" r="1.3" fill="#000"/>
<circle cx="245.15" cy="796.12" r="1.3" fill="#000"/>
<circle cx="245.82" cy="785.94" r="1.3" fill="#000"/>
<circle cx="242.41" cy="808.27" r="1.3" fill="#000"/>
<circle cx="245.59" cy="789.79" r="1.3" fill="#000"/>
<circle cx="241.01" cy="803.49" r="1.3" fill="#000"/>
<rect x="257.40" y="816.71" width="13.90" height="36.79" fill="#808080" stroke="#000" stroke-width="1.2"/>
<line x1="264.35" y1="816.71" x2="264.35" y2="806.49" stroke="#000" stroke-width="0.96"/>
<line x1="261.15" y1="806.49" x2="267.55" y2="806.49" stroke="#000" stroke-width="1.02"/>
<circle cx="267.59" cy="818.84" r="1.3" fill="#000"/>
<circle cx="261.24" cy="828.40" r="1.3" fill="#000"/>
<circle cx="266.09" cy="808.71" r="1.3" fill="#000"/>
<circle cx="266.24" cy="814.67" r="1.3" fill="#000"/>
<circle cx="268.03" cy="822.72" r="1.3" fill="#000"/>
<circle cx="267.99" cy="804.57" r="1.3" fill="#000"/>
<rect x="278.80" y="818.24" width="14.30" height="35.26" fill="#d7d7d7" stroke="#000" stroke-width="1.2"/>
<line x1="285.95" y1="818.24" x2="285.95" y2="810.58" stroke="#000" stroke-width="0.96"/>
<line x1="282.75" y1="810.58" x2="289.15" y2="810.58" stroke="#000" stroke-width="1.02"/>
<circle cx="285.99" cy="827.16" r="1.3" fill="#000"/>
<circle cx="282.22" cy="816.15" r="1.3" fill="#000"/>
<circle cx="288.33" cy="809.63" r="1.3" fill="#000"/>
<circle cx="283.33" cy="819.84" r="1.3" fill="#000"/>
<circle cx="287.58" cy="823.42" r="1.3" fill="#000"/>
<circle cx="284.95" cy="812.16" r="1.3" fill="#000"/>
<line x1="263.50" y1="797.30" x2="286.10" y2="797.30" stroke="#000" stroke-width="1.02"/>
<path d="M274.30 790.95L274.30 793.65M275.47 791.62L273.13 792.97M275.47 792.97L273.13 791.62" stroke="#000" stroke-width="1.01" stroke-linecap="round"/>
<text x="180.63" y="815.00" font-size="6.930000000000016" font-weight="bold" font-family='"Liberation Serif", serif' fill="#000" text-anchor="middle" stroke="#000" stroke-width="0.18" textLength="56.50" lengthAdjust="spacingAndGlyphs" transform="rotate(-90 180.63 815.00)" >ATF4 mRNA abundance</text>
<text x="188.33" y="815.00" font-size="6.930000000000016" font-weight="bold" font-family='"Liberation Serif", serif' fill="#000" text-anchor="middle" stroke="#000" stroke-width="0.18" textLength="54.00" lengthAdjust="spacingAndGlyphs" transform="rotate(-90 188.33 815.00)" >(Normalized to β-actin)</text>
<text x="220.30" y="862.14" font-size="6.6" font-weight="bold" font-family='"Liberation Serif", serif' fill="#000" text-anchor="middle" stroke="#000" stroke-width="0.18" >Control</text>
<text x="242.10" y="862.14" font-size="6.6" font-weight="bold" font-family='"Liberation Serif", serif' fill="#000" text-anchor="middle" stroke="#000" stroke-width="0.18" >1</text>
<text x="263.70" y="862.14" font-size="6.6" font-weight="bold" font-family='"Liberation Serif", serif' fill="#000" text-anchor="middle" stroke="#000" stroke-width="0.18" >10</text>
<text x="285.60" y="862.14" font-size="6.6" font-weight="bold" font-family='"Liberation Serif", serif' fill="#000" text-anchor="middle" stroke="#000" stroke-width="0.18" >100</text>
<line x1="237.80" y1="863.90" x2="291.90" y2="863.90" stroke="#000" stroke-width="1.08"/>
<text x="264.85" y="870.40" font-size="4.4" font-weight="bold" font-family='"Liberation Serif", serif' fill="#000" text-anchor="middle" stroke="#000" stroke-width="0.18" textLength="59.50" lengthAdjust="spacingAndGlyphs" >Rhein (mg g<tspan font-size="3.2" dy="-1.6">-1</tspan><tspan dy="1.6"> body weight)</tspan></text>
<text transform="translate(195.10 765.70) scale(0.962 1)" x="-0.15" y="0" font-size="21.95" font-weight="bold" font-family='"Liberation Sans", sans-serif' fill="#b8000f">V</text>
<line x1="389.50" y1="782.70" x2="389.50" y2="862.10" stroke="#000" stroke-width="1.2"/>
<line x1="385.90" y1="861.50" x2="389.50" y2="861.50" stroke="#000" stroke-width="1.2"/>
<text x="384.50" y="863.47" font-size="5.8" font-weight="bold" font-family='"Liberation Serif", serif' fill="#000" text-anchor="end" stroke="#000" stroke-width="0.18" >0</text>
<line x1="385.90" y1="835.10" x2="389.50" y2="835.10" stroke="#000" stroke-width="1.2"/>
<text x="384.50" y="837.07" font-size="5.8" font-weight="bold" font-family='"Liberation Serif", serif' fill="#000" text-anchor="end" stroke="#000" stroke-width="0.18" >1</text>
<line x1="385.90" y1="808.70" x2="389.50" y2="808.70" stroke="#000" stroke-width="1.2"/>
<text x="384.50" y="810.67" font-size="5.8" font-weight="bold" font-family='"Liberation Serif", serif' fill="#000" text-anchor="end" stroke="#000" stroke-width="0.18" >2</text>
<line x1="385.90" y1="782.30" x2="389.50" y2="782.30" stroke="#000" stroke-width="1.2"/>
<text x="384.50" y="784.27" font-size="5.8" font-weight="bold" font-family='"Liberation Serif", serif' fill="#000" text-anchor="end" stroke="#000" stroke-width="0.18" >3</text>
<line x1="389.50" y1="861.50" x2="501.50" y2="861.50" stroke="#000" stroke-width="1.2"/>
<line x1="416.60" y1="861.50" x2="416.60" y2="864.00" stroke="#000" stroke-width="0.96"/>
<line x1="475.20" y1="861.50" x2="475.20" y2="864.00" stroke="#000" stroke-width="0.96"/>
<rect x="394.30" y="834.84" width="9.30" height="26.66" fill="#ffffff" stroke="#000" stroke-width="1.2"/>
<line x1="398.95" y1="834.84" x2="398.95" y2="828.24" stroke="#000" stroke-width="0.96"/>
<line x1="395.75" y1="828.24" x2="402.15" y2="828.24" stroke="#000" stroke-width="1.02"/>
<circle cx="398.69" cy="836.08" r="1.3" fill="#000"/>
<circle cx="400.45" cy="832.94" r="1.3" fill="#000"/>
<circle cx="396.49" cy="827.67" r="1.3" fill="#000"/>
<circle cx="398.60" cy="842.53" r="1.3" fill="#000"/>
<circle cx="396.36" cy="829.45" r="1.3" fill="#000"/>
<circle cx="400.10" cy="839.46" r="1.3" fill="#000"/>
<rect x="406.10" y="829.56" width="9.30" height="31.94" fill="#a6a6a8" stroke="#000" stroke-width="1.2"/>
<line x1="410.75" y1="829.56" x2="410.75" y2="826.92" stroke="#000" stroke-width="0.96"/>
<line x1="407.55" y1="826.92" x2="413.95" y2="826.92" stroke="#000" stroke-width="1.02"/>
<circle cx="411.53" cy="830.37" r="1.3" fill="#000"/>
<circle cx="412.74" cy="829.22" r="1.3" fill="#000"/>
<circle cx="413.19" cy="826.30" r="1.3" fill="#000"/>
<circle cx="410.89" cy="832.71" r="1.3" fill="#000"/>
<circle cx="413.04" cy="827.40" r="1.3" fill="#000"/>
<circle cx="409.95" cy="831.34" r="1.3" fill="#000"/>
<rect x="418.10" y="822.16" width="9.30" height="39.34" fill="#808080" stroke="#000" stroke-width="1.2"/>
<line x1="422.75" y1="822.16" x2="422.75" y2="818.20" stroke="#000" stroke-width="0.96"/>
<line x1="419.55" y1="818.20" x2="425.95" y2="818.20" stroke="#000" stroke-width="1.02"/>
<circle cx="424.92" cy="822.99" r="1.3" fill="#000"/>
<circle cx="420.67" cy="826.70" r="1.3" fill="#000"/>
<circle cx="423.91" cy="819.07" r="1.3" fill="#000"/>
<circle cx="424.02" cy="821.38" r="1.3" fill="#000"/>
<circle cx="425.21" cy="824.49" r="1.3" fill="#000"/>
<circle cx="425.18" cy="817.46" r="1.3" fill="#000"/>
<rect x="429.90" y="812.66" width="9.60" height="48.84" fill="#d7d7d7" stroke="#000" stroke-width="1.2"/>
<line x1="434.70" y1="812.66" x2="434.70" y2="803.95" stroke="#000" stroke-width="0.96"/>
<line x1="431.50" y1="803.95" x2="437.90" y2="803.95" stroke="#000" stroke-width="1.02"/>
<circle cx="434.73" cy="822.80" r="1.3" fill="#000"/>
<circle cx="432.20" cy="810.29" r="1.3" fill="#000"/>
<circle cx="436.30" cy="802.87" r="1.3" fill="#000"/>
<circle cx="432.94" cy="814.48" r="1.3" fill="#000"/>
<circle cx="435.79" cy="818.54" r="1.3" fill="#000"/>
<circle cx="434.03" cy="805.75" r="1.3" fill="#000"/>
<rect x="451.80" y="834.84" width="9.50" height="26.66" fill="#ffffff" stroke="#000" stroke-width="1.2"/>
<line x1="456.55" y1="834.84" x2="456.55" y2="829.03" stroke="#000" stroke-width="0.96"/>
<line x1="453.35" y1="829.03" x2="459.75" y2="829.03" stroke="#000" stroke-width="1.02"/>
<circle cx="457.79" cy="836.11" r="1.3" fill="#000"/>
<circle cx="455.53" cy="838.87" r="1.3" fill="#000"/>
<circle cx="457.16" cy="827.43" r="1.3" fill="#000"/>
<circle cx="457.33" cy="841.98" r="1.3" fill="#000"/>
<circle cx="455.10" cy="830.96" r="1.3" fill="#000"/>
<circle cx="454.95" cy="834.09" r="1.3" fill="#000"/>
<rect x="463.90" y="822.96" width="9.30" height="38.54" fill="#a6a6a8" stroke="#000" stroke-width="1.2"/>
<line x1="468.55" y1="822.96" x2="468.55" y2="818.47" stroke="#000" stroke-width="0.96"/>
<line x1="465.35" y1="818.47" x2="471.75" y2="818.47" stroke="#000" stroke-width="1.02"/>
<circle cx="468.96" cy="828.06" r="1.3" fill="#000"/>
<circle cx="467.35" cy="817.67" r="1.3" fill="#000"/>
<circle cx="470.93" cy="823.74" r="1.3" fill="#000"/>
<circle cx="470.03" cy="822.39" r="1.3" fill="#000"/>
<circle cx="470.56" cy="825.68" r="1.3" fill="#000"/>
<circle cx="470.16" cy="819.32" r="1.3" fill="#000"/>
<rect x="475.90" y="823.75" width="9.30" height="37.75" fill="#808080" stroke="#000" stroke-width="1.2"/>
<line x1="480.55" y1="823.75" x2="480.55" y2="818.47" stroke="#000" stroke-width="0.96"/>
<line x1="477.35" y1="818.47" x2="483.75" y2="818.47" stroke="#000" stroke-width="1.02"/>
<circle cx="479.85" cy="824.76" r="1.3" fill="#000"/>
<circle cx="482.85" cy="830.28" r="1.3" fill="#000"/>
<circle cx="482.18" cy="822.54" r="1.3" fill="#000"/>
<circle cx="477.95" cy="827.49" r="1.3" fill="#000"/>
<circle cx="482.04" cy="817.43" r="1.3" fill="#000"/>
<circle cx="481.07" cy="820.01" r="1.3" fill="#000"/>
<rect x="487.70" y="808.70" width="9.60" height="52.80" fill="#d7d7d7" stroke="#000" stroke-width="1.2"/>
<line x1="492.50" y1="808.70" x2="492.50" y2="799.46" stroke="#000" stroke-width="0.96"/>
<line x1="489.30" y1="799.46" x2="495.70" y2="799.46" stroke="#000" stroke-width="1.02"/>
<circle cx="494.88" cy="811.51" r="1.3" fill="#000"/>
<circle cx="494.48" cy="807.38" r="1.3" fill="#000"/>
<circle cx="493.87" cy="820.36" r="1.3" fill="#000"/>
<circle cx="491.26" cy="802.28" r="1.3" fill="#000"/>
<circle cx="490.80" cy="797.04" r="1.3" fill="#000"/>
<circle cx="490.71" cy="815.54" r="1.3" fill="#000"/>
<line x1="409.10" y1="814.10" x2="424.20" y2="814.10" stroke="#000" stroke-width="1.02"/>
<path d="M414.10 807.05L414.10 809.75M415.27 807.73L412.93 809.07M415.27 809.07L412.93 807.73" stroke="#000" stroke-width="1.01" stroke-linecap="round"/>
<path d="M418.10 807.05L418.10 809.75M419.27 807.73L416.93 809.07M419.27 809.07L416.93 807.73" stroke="#000" stroke-width="1.01" stroke-linecap="round"/>
<line x1="429.40" y1="795.30" x2="440.00" y2="795.30" stroke="#000" stroke-width="1.02"/>
<path d="M428.20 788.45L428.20 791.15M429.37 789.12L427.03 790.47M429.37 790.47L427.03 789.12" stroke="#000" stroke-width="1.01" stroke-linecap="round"/>
<path d="M432.20 788.45L432.20 791.15M433.37 789.12L431.03 790.47M433.37 790.47L431.03 789.12" stroke="#000" stroke-width="1.01" stroke-linecap="round"/>
<path d="M436.20 788.45L436.20 791.15M437.37 789.12L435.03 790.47M437.37 790.47L435.03 789.12" stroke="#000" stroke-width="1.01" stroke-linecap="round"/>
<path d="M440.20 788.45L440.20 791.15M441.37 789.12L439.03 790.47M441.37 790.47L439.03 789.12" stroke="#000" stroke-width="1.01" stroke-linecap="round"/>
<line x1="464.60" y1="812.40" x2="481.00" y2="812.40" stroke="#000" stroke-width="1.02"/>
<path d="M472.70 806.05L472.70 808.75M473.87 806.73L471.53 808.07M473.87 808.07L471.53 806.73" stroke="#000" stroke-width="1.01" stroke-linecap="round"/>
<line x1="485.70" y1="796.60" x2="505.30" y2="796.60" stroke="#000" stroke-width="1.02"/>
<path d="M489.30 789.65L489.30 792.35M490.47 790.33L488.13 791.67M490.47 791.67L488.13 790.33" stroke="#000" stroke-width="1.01" stroke-linecap="round"/>
<path d="M493.30 789.65L493.30 792.35M494.47 790.33L492.13 791.67M494.47 791.67L492.13 790.33" stroke="#000" stroke-width="1.01" stroke-linecap="round"/>
<path d="M497.30 789.65L497.30 792.35M498.47 790.33L496.13 791.67M498.47 791.67L496.13 790.33" stroke="#000" stroke-width="1.01" stroke-linecap="round"/>
<path d="M501.30 789.65L501.30 792.35M502.47 790.33L500.13 791.67M502.47 791.67L500.13 790.33" stroke="#000" stroke-width="1.01" stroke-linecap="round"/>
<text x="373.62" y="822.50" font-size="5.2" font-weight="bold" font-family='"Liberation Serif", serif' fill="#000" text-anchor="middle" stroke="#000" stroke-width="0.18" textLength="58.10" lengthAdjust="spacingAndGlyphs" transform="rotate(-90 373.62 822.50)" >ATF6 mRNA abundance</text>
<text x="378.82" y="822.50" font-size="5.2" font-weight="bold" font-family='"Liberation Serif", serif' fill="#000" text-anchor="middle" stroke="#000" stroke-width="0.18" textLength="55.50" lengthAdjust="spacingAndGlyphs" transform="rotate(-90 378.82 822.50)" >(Normalized to β-actin)</text>
<text x="416.60" y="870.04" font-size="5.4" font-weight="bold" font-family='"Liberation Serif", serif' fill="#000" text-anchor="middle" stroke="#000" stroke-width="0.18" >2 h</text>
<text x="475.20" y="870.04" font-size="5.4" font-weight="bold" font-family='"Liberation Serif", serif' fill="#000" text-anchor="middle" stroke="#000" stroke-width="0.18" >24 h</text>
<circle cx="442.00" cy="758.40" r="1.15" fill="#000"/>
<text x="450.00" y="760.25" font-size="5.6" font-weight="bold" font-family='"Liberation Serif", serif' fill="#000" text-anchor="start" stroke="#000" stroke-width="0.18" >Control</text>
<circle cx="442.00" cy="764.60" r="1.4" fill="#000"/>
<text x="450.60" y="766.45" font-size="5.6" font-weight="bold" font-family='"Liberation Serif", serif' fill="#000" text-anchor="start" stroke="#000" stroke-width="0.18" >Rhein 0.1 μM</text>
<path d="M440.60 772.40L443.40 772.40L442.00 770.10Z"/>
<text x="450.60" y="773.25" font-size="5.6" font-weight="bold" font-family='"Liberation Serif", serif' fill="#000" text-anchor="start" stroke="#000" stroke-width="0.18" >Rhein 1 μM</text>
<rect x="441.05" y="777.25" width="1.9" height="1.9"/>
<text x="450.60" y="780.05" font-size="5.6" font-weight="bold" font-family='"Liberation Serif", serif' fill="#000" text-anchor="start" stroke="#000" stroke-width="0.18" >Rhein 10 μM</text>
<text transform="translate(372.20 766.40) scale(0.972 1)" x="-0.02" y="0" font-size="21.95" font-weight="bold" font-family='"Liberation Sans", sans-serif' fill="#146414">W</text>
<line x1="563.50" y1="781.92" x2="563.50" y2="855.10" stroke="#000" stroke-width="1.2"/>
<line x1="559.90" y1="854.50" x2="563.50" y2="854.50" stroke="#000" stroke-width="1.2"/>
<text x="558.50" y="856.47" font-size="5.8" font-weight="bold" font-family='"Liberation Serif", serif' fill="#000" text-anchor="end" stroke="#000" stroke-width="0.18" >0</text>
<line x1="559.90" y1="836.43" x2="563.50" y2="836.43" stroke="#000" stroke-width="1.2"/>
<text x="558.50" y="838.40" font-size="5.8" font-weight="bold" font-family='"Liberation Serif", serif' fill="#000" text-anchor="end" stroke="#000" stroke-width="0.18" >1</text>
<line x1="559.90" y1="818.36" x2="563.50" y2="818.36" stroke="#000" stroke-width="1.2"/>
<text x="558.50" y="820.33" font-size="5.8" font-weight="bold" font-family='"Liberation Serif", serif' fill="#000" text-anchor="end" stroke="#000" stroke-width="0.18" >2</text>
<line x1="559.90" y1="800.29" x2="563.50" y2="800.29" stroke="#000" stroke-width="1.2"/>
<text x="558.50" y="802.26" font-size="5.8" font-weight="bold" font-family='"Liberation Serif", serif' fill="#000" text-anchor="end" stroke="#000" stroke-width="0.18" >3</text>
<line x1="559.90" y1="782.22" x2="563.50" y2="782.22" stroke="#000" stroke-width="1.2"/>
<text x="558.50" y="784.19" font-size="5.8" font-weight="bold" font-family='"Liberation Serif", serif' fill="#000" text-anchor="end" stroke="#000" stroke-width="0.18" >4</text>
<line x1="563.50" y1="854.50" x2="657.50" y2="854.50" stroke="#000" stroke-width="1.2"/>
<line x1="578.10" y1="854.50" x2="578.10" y2="857.00" stroke="#000" stroke-width="0.96"/>
<line x1="600.30" y1="854.50" x2="600.30" y2="857.00" stroke="#000" stroke-width="0.96"/>
<line x1="622.80" y1="854.50" x2="622.80" y2="857.00" stroke="#000" stroke-width="0.96"/>
<line x1="645.20" y1="854.50" x2="645.20" y2="857.00" stroke="#000" stroke-width="0.96"/>
<rect x="570.80" y="836.43" width="14.60" height="18.07" fill="#ffffff" stroke="#000" stroke-width="1.2"/>
<line x1="578.10" y1="836.43" x2="578.10" y2="835.53" stroke="#000" stroke-width="0.96"/>
<line x1="574.90" y1="835.53" x2="581.30" y2="835.53" stroke="#000" stroke-width="1.02"/>
<circle cx="577.69" cy="836.81" r="1.3" fill="#000"/>
<circle cx="580.46" cy="835.85" r="1.3" fill="#000"/>
<circle cx="574.24" cy="834.23" r="1.3" fill="#000"/>
<circle cx="577.55" cy="838.79" r="1.3" fill="#000"/>
<circle cx="574.03" cy="834.78" r="1.3" fill="#000"/>
<circle cx="579.91" cy="837.85" r="1.3" fill="#000"/>
<rect x="592.90" y="803.72" width="14.80" height="50.78" fill="#a6a6a8" stroke="#000" stroke-width="1.2"/>
<line x1="600.30" y1="803.72" x2="600.30" y2="794.69" stroke="#000" stroke-width="0.96"/>
<line x1="597.10" y1="794.69" x2="603.50" y2="794.69" stroke="#000" stroke-width="1.02"/>
<circle cx="601.54" cy="806.50" r="1.3" fill="#000"/>
<circle cx="603.46" cy="802.57" r="1.3" fill="#000"/>
<circle cx="604.19" cy="792.57" r="1.3" fill="#000"/>
<circle cx="600.53" cy="814.51" r="1.3" fill="#000"/>
<circle cx="603.94" cy="796.35" r="1.3" fill="#000"/>
<circle cx="599.02" cy="809.82" r="1.3" fill="#000"/>
<rect x="615.30" y="814.38" width="15.00" height="40.12" fill="#808080" stroke="#000" stroke-width="1.2"/>
<line x1="622.80" y1="814.38" x2="622.80" y2="807.52" stroke="#000" stroke-width="0.96"/>
<line x1="619.60" y1="807.52" x2="626.00" y2="807.52" stroke="#000" stroke-width="1.02"/>
<circle cx="626.30" cy="815.82" r="1.3" fill="#000"/>
<circle cx="619.44" cy="822.24" r="1.3" fill="#000"/>
<circle cx="624.68" cy="809.01" r="1.3" fill="#000"/>
<circle cx="624.84" cy="813.02" r="1.3" fill="#000"/>
<circle cx="626.78" cy="818.43" r="1.3" fill="#000"/>
<circle cx="626.72" cy="806.23" r="1.3" fill="#000"/>
<rect x="637.90" y="809.87" width="14.50" height="44.63" fill="#d7d7d7" stroke="#000" stroke-width="1.2"/>
<line x1="645.15" y1="809.87" x2="645.15" y2="802.28" stroke="#000" stroke-width="0.96"/>
<line x1="641.95" y1="802.28" x2="648.35" y2="802.28" stroke="#000" stroke-width="1.02"/>
<circle cx="645.19" cy="818.70" r="1.3" fill="#000"/>
<circle cx="641.37" cy="807.80" r="1.3" fill="#000"/>
<circle cx="647.56" cy="801.34" r="1.3" fill="#000"/>
<circle cx="642.49" cy="811.45" r="1.3" fill="#000"/>
<circle cx="646.80" cy="814.99" r="1.3" fill="#000"/>
<circle cx="644.13" cy="803.84" r="1.3" fill="#000"/>
<line x1="600.40" y1="788.30" x2="645.70" y2="788.30" stroke="#000" stroke-width="1.02"/>
<path d="M616.80 781.35L616.80 784.05M617.97 782.03L615.63 783.38M617.97 783.38L615.63 782.03" stroke="#000" stroke-width="1.01" stroke-linecap="round"/>
<path d="M620.80 781.35L620.80 784.05M621.97 782.03L619.63 783.38M621.97 783.38L619.63 782.03" stroke="#000" stroke-width="1.01" stroke-linecap="round"/>
<path d="M624.80 781.35L624.80 784.05M625.97 782.03L623.63 783.38M625.97 783.38L623.63 782.03" stroke="#000" stroke-width="1.01" stroke-linecap="round"/>
<path d="M628.80 781.35L628.80 784.05M629.97 782.03L627.63 783.38M629.97 783.38L627.63 782.03" stroke="#000" stroke-width="1.01" stroke-linecap="round"/>
<text x="542.09" y="818.20" font-size="6.839999999999918" font-weight="bold" font-family='"Liberation Serif", serif' fill="#000" text-anchor="middle" stroke="#000" stroke-width="0.18" textLength="53.40" lengthAdjust="spacingAndGlyphs" transform="rotate(-90 542.09 818.20)" >ATF6 mRNA abundance</text>
<text x="549.69" y="818.20" font-size="6.839999999999918" font-weight="bold" font-family='"Liberation Serif", serif' fill="#000" text-anchor="middle" stroke="#000" stroke-width="0.18" textLength="50.40" lengthAdjust="spacingAndGlyphs" transform="rotate(-90 549.69 818.20)" >(Normalized to β-actin)</text>
<text x="577.80" y="863.34" font-size="6.6" font-weight="bold" font-family='"Liberation Serif", serif' fill="#000" text-anchor="middle" stroke="#000" stroke-width="0.18" >Control</text>
<text x="599.70" y="863.34" font-size="6.6" font-weight="bold" font-family='"Liberation Serif", serif' fill="#000" text-anchor="middle" stroke="#000" stroke-width="0.18" >1</text>
<text x="622.80" y="863.34" font-size="6.6" font-weight="bold" font-family='"Liberation Serif", serif' fill="#000" text-anchor="middle" stroke="#000" stroke-width="0.18" >10</text>
<text x="644.90" y="863.34" font-size="6.6" font-weight="bold" font-family='"Liberation Serif", serif' fill="#000" text-anchor="middle" stroke="#000" stroke-width="0.18" >100</text>
<line x1="593.40" y1="865.20" x2="651.20" y2="865.20" stroke="#000" stroke-width="1.08"/>
<text x="622.30" y="870.90" font-size="4.4" font-weight="bold" font-family='"Liberation Serif", serif' fill="#000" text-anchor="middle" stroke="#000" stroke-width="0.18" textLength="59.50" lengthAdjust="spacingAndGlyphs" >Rhein (mg g<tspan font-size="3.2" dy="-1.6">-1</tspan><tspan dy="1.6"> body weight)</tspan></text>
<text transform="translate(552.70 765.70) scale(0.968 1)" x="-0.19" y="0" font-size="21.95" font-weight="bold" font-family='"Liberation Sans", sans-serif' fill="#b8000f">X</text>
</svg>
</body></html>
